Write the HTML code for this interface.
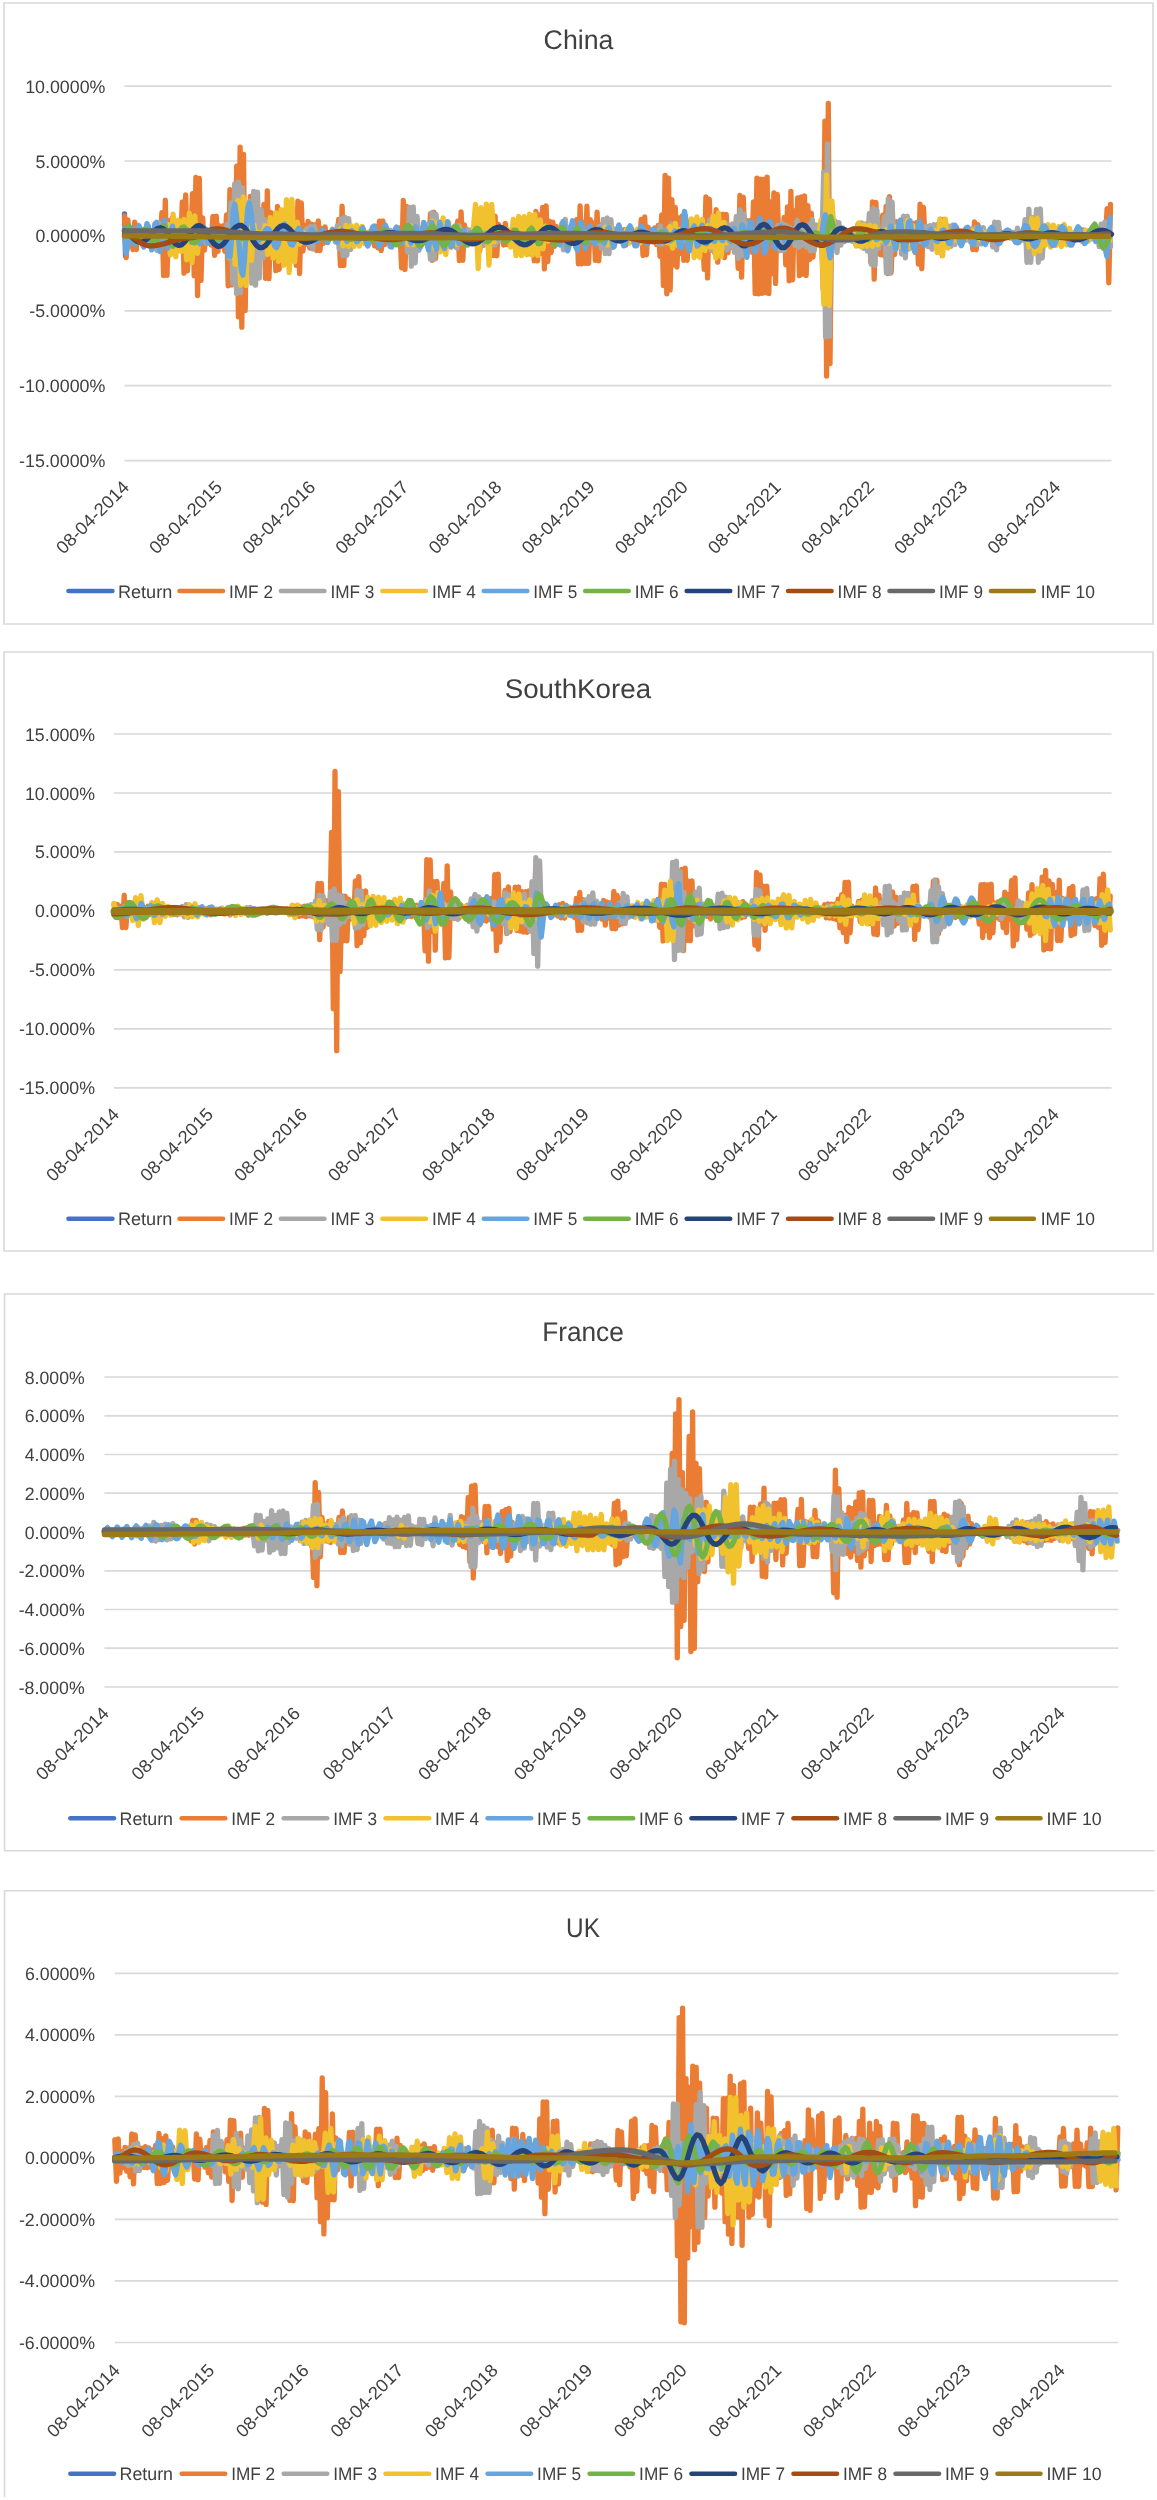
<!DOCTYPE html>
<html><head><meta charset="utf-8"><title>IMF decomposition charts</title>
<style>html,body{margin:0;padding:0;background:#fff}svg{display:block;will-change:transform}text{font-family:"Liberation Sans",sans-serif;fill:#404040;text-rendering:geometricPrecision}</style></head><body>
<svg width="1157" height="2500" viewBox="0 0 1157 2500">
<rect width="1157" height="2500" fill="#fff"/>
<g>
<path d="M4,3H1153V624H4Z" fill="none" stroke="#d9d9d9" stroke-width="1.6"/>
<line x1="124.5" y1="86.1" x2="1111.5" y2="86.1" stroke="#d9d9d9" stroke-width="1.7"/>
<line x1="124.5" y1="161.0" x2="1111.5" y2="161.0" stroke="#d9d9d9" stroke-width="1.7"/>
<line x1="124.5" y1="235.9" x2="1111.5" y2="235.9" stroke="#d9d9d9" stroke-width="1.7"/>
<line x1="124.5" y1="310.8" x2="1111.5" y2="310.8" stroke="#d9d9d9" stroke-width="1.7"/>
<line x1="124.5" y1="385.7" x2="1111.5" y2="385.7" stroke="#d9d9d9" stroke-width="1.7"/>
<line x1="124.5" y1="460.6" x2="1111.5" y2="460.6" stroke="#d9d9d9" stroke-width="1.7"/>
<text x="578.5" y="49.1" font-size="27" text-anchor="middle" textLength="69.8" lengthAdjust="spacingAndGlyphs">China</text>
<text x="105.4" y="92.6" font-size="18" text-anchor="end" textLength="80.2" lengthAdjust="spacingAndGlyphs">10.0000%</text>
<text x="105.4" y="167.5" font-size="18" text-anchor="end" textLength="70.0" lengthAdjust="spacingAndGlyphs">5.0000%</text>
<text x="105.4" y="242.4" font-size="18" text-anchor="end" textLength="70.0" lengthAdjust="spacingAndGlyphs">0.0000%</text>
<text x="105.4" y="317.3" font-size="18" text-anchor="end" textLength="76.1" lengthAdjust="spacingAndGlyphs">-5.0000%</text>
<text x="105.4" y="392.2" font-size="18" text-anchor="end" textLength="86.3" lengthAdjust="spacingAndGlyphs">-10.0000%</text>
<text x="105.4" y="467.1" font-size="18" text-anchor="end" textLength="86.3" lengthAdjust="spacingAndGlyphs">-15.0000%</text>
<text transform="translate(130.2 488.2) rotate(-45)" font-size="18" text-anchor="end" textLength="94.5" lengthAdjust="spacingAndGlyphs">08-04-2014</text>
<text transform="translate(223.3 488.2) rotate(-45)" font-size="18" text-anchor="end" textLength="94.5" lengthAdjust="spacingAndGlyphs">08-04-2015</text>
<text transform="translate(316.5 488.2) rotate(-45)" font-size="18" text-anchor="end" textLength="94.5" lengthAdjust="spacingAndGlyphs">08-04-2016</text>
<text transform="translate(409.6 488.2) rotate(-45)" font-size="18" text-anchor="end" textLength="94.5" lengthAdjust="spacingAndGlyphs">08-04-2017</text>
<text transform="translate(502.7 488.2) rotate(-45)" font-size="18" text-anchor="end" textLength="94.5" lengthAdjust="spacingAndGlyphs">08-04-2018</text>
<text transform="translate(595.8 488.2) rotate(-45)" font-size="18" text-anchor="end" textLength="94.5" lengthAdjust="spacingAndGlyphs">08-04-2019</text>
<text transform="translate(689.0 488.2) rotate(-45)" font-size="18" text-anchor="end" textLength="94.5" lengthAdjust="spacingAndGlyphs">08-04-2020</text>
<text transform="translate(782.1 488.2) rotate(-45)" font-size="18" text-anchor="end" textLength="94.5" lengthAdjust="spacingAndGlyphs">08-04-2021</text>
<text transform="translate(875.2 488.2) rotate(-45)" font-size="18" text-anchor="end" textLength="94.5" lengthAdjust="spacingAndGlyphs">08-04-2022</text>
<text transform="translate(968.4 488.2) rotate(-45)" font-size="18" text-anchor="end" textLength="94.5" lengthAdjust="spacingAndGlyphs">08-04-2023</text>
<text transform="translate(1061.5 488.2) rotate(-45)" font-size="18" text-anchor="end" textLength="94.5" lengthAdjust="spacingAndGlyphs">08-04-2024</text>
<g fill="none" stroke-width="5.3" stroke-linejoin="round" stroke-linecap="round">
<path stroke="#4472c4" d="M124.5,213.9 125.5,255.9 126.5,225.9"/>
<path stroke="#ea7d33" d="M124.5,216 126.2,257.7 127.9,219.8 129.6,244 131.3,228 133,249.7 134.7,222.1 136.4,249.6 138.1,225.7 139.8,242.3 141.5,232.2 143.2,236.8 144.9,235 146.6,236.8 148.3,235 150,236.9 151.7,235 153.4,236.9 155.1,234.9 156.8,236.9 158.5,234.6 160.2,238.7 161.9,212.7 163.6,275.5 165.3,200.1 167,275.3 168.7,220.8 170.4,251.3 172.1,217.9 173.8,248.6 175.5,223.5 177.2,243.8 178.9,226.1 180.6,245.9 182.3,201.8 184,273.2 185.7,195 187.4,270.9 189.1,226.8 190.8,238.9 192.5,193.7 194.2,275.6 195.9,177.5 197.6,295.5 199.3,178.3 201,280.4 202.7,218 204.4,250.2 206.1,229.1 207.8,239.8 209.5,233.6 211.2,245 212.9,216.4 214.6,255.4 216.3,216.2 218,251.4 219.7,226 221.4,245.1 223.1,226 224.8,251.4 226.5,214.8 228.2,285.8 229.9,189.6 231.6,284.9 233.3,198.5 235,281.3 236.7,166.2 238.4,316.8 240.1,147.2 241.8,327.1 243.5,154.5 245.2,310.4 246.9,204.8 248.6,260.7 250.3,196.3 252,275.4 253.7,196.7 255.4,260.5 257.1,231.7 258.8,239 260.5,222.2 262.2,255.8 263.9,204.3 265.6,278.3 267.3,190.9 269,278.7 270.7,212.3 272.4,254.3 274.1,213.8 275.8,270.7 277.5,206.3 279.2,269.5 280.9,227.2 282.6,242.5 284.3,230.2 286,238.8 287.7,234.4 289.4,237.6 291.1,234.4 292.8,240.2 294.5,229.5 296.2,265.4 297.9,201.2 299.6,273.5 301.3,203 303,251 304.7,225.3 306.4,244.4 308.1,221.3 309.8,248.2 311.5,224.1 313.2,241.5 314.9,224.9 316.6,250.6 318.3,221 320,250.6 321.7,228.5 323.4,243.3 325.1,227 326.8,242 328.5,232.9 330.2,236.9 331.9,235.1 333.6,236.9 335.3,235 337,239.3 338.7,219.3 340.4,265.7 342.1,206.1 343.8,265.5 345.5,220.1 347.2,242.1 348.9,235 350.6,236.9 352.3,235 354,236.7 355.7,235.1 357.4,236.5 359.1,235.2 360.8,236.5 362.5,235.4 364.2,236.4 365.9,232.9 367.6,239.3 369.3,231.9 371,241.1 372.7,229.9 374.4,245.8 376.1,226.3 377.8,247.8 379.5,221.2 381.2,250.5 382.9,221 384.6,244.6 386.3,228.5 388,242.9 389.7,231.6 391.4,237.4 393.1,235.2 394.8,236.8 396.5,235 398.2,237.5 399.9,227.9 401.6,267.8 403.3,200.5 405,269.4 406.7,206.5 408.4,244 410.1,231.8 411.8,238.8 413.5,233 415.2,240.2 416.9,231.2 418.6,239.5 420.3,233.6 422,236.9 423.7,235 425.4,237.1 427.1,234.7 428.8,243.8 430.5,213.6 432.2,260.3 433.9,212.2 435.6,258.6 437.3,229 439,237.1 440.7,234.9 442.4,236.9 444.1,234.8 445.8,237.1 447.5,233 449.2,239.1 450.9,232.3 452.6,239.6 454.3,229.9 456,247.2 457.7,221.2 459.4,260.6 461.1,211.9 462.8,260.4 464.5,224.9 466.2,242.9 467.9,229.9 469.6,240.3 471.3,233.2 473,238.1 474.7,232 476.4,244.5 478.1,222.7 479.8,250.9 481.5,224.7 483.2,243.1 484.9,232.6 486.6,236.7 488.3,235 490,238.3 491.7,222.9 493.4,255.7 495.1,216.1 496.8,255.8 498.5,224.4 500.2,237.7 501.9,231 503.6,245 505.3,223.3 507,244.6 508.7,233 510.4,236.9 512.1,235 513.8,237.5 515.5,232 517.2,239 518.9,234.8 520.6,236.9 522.3,234.9 524,237 525.7,234.6 527.4,241.6 529.1,221.4 530.8,254.1 532.5,216.1 534.2,260.9 535.9,211.3 537.6,260.9 539.3,214.9 541,253 542.7,207.4 544.4,268.9 546.1,205.9 547.8,261.7 549.5,221.2 551.2,252.5 552.9,222.2 554.6,246.4 556.3,226.3 558,242.8 559.7,232 561.4,240.1 563.1,230.8 564.8,242 566.5,230.9 568.2,237.9 569.9,234.8 571.6,236.9 573.3,234.8 575,237.2 576.7,219.6 578.4,263.9 580.1,206 581.8,263.9 583.5,222.2 585.2,263.4 586.9,206.2 588.6,263.4 590.3,219.7 592,241.3 593.7,222.9 595.4,260.3 597.1,212.1 598.8,260.9 600.5,225 602.2,240.2 603.9,233.5 605.6,237.4 607.3,235.1 609,236.4 610.7,235.3 612.4,236.4 614.1,235.2 615.8,236.5 617.5,235.4 619.2,236.4 620.9,235 622.6,239.8 624.3,229.7 626,245 627.7,229.4 629.4,239.7 631.1,235.2 632.8,236.4 634.5,235.4 636.2,236.4 637.9,235.2 639.6,241 641.3,219.3 643,255.5 644.7,217 646.4,254.8 648.1,227.2 649.8,240 651.5,232.5 653.2,241.7 654.9,227.8 656.6,244.7 658.3,225.3 660,256.3 661.7,214.9 663.4,285.5 665.1,175.4 666.8,293.8 668.5,178.1 670.2,289.9 671.9,199.6 673.6,264.9 675.3,207.5 677,267 678.7,218 680.4,253.3 682.1,215.9 683.8,260.3 685.5,216 687.2,260.3 688.9,222.2 690.6,243.9 692.3,232.9 694,236.8 695.7,234.9 697.4,237 699.1,234.9 700.8,237.1 702.5,229.1 704.2,269.3 705.9,197 707.6,277.9 709.3,199.2 711,246.7 712.7,230.1 714.4,252.5 716.1,209.7 717.8,262.1 719.5,214.1 721.2,245.8 722.9,214.2 724.6,257.7 726.3,214.3 728,252.7 729.7,227.7 731.4,240.6 733.1,234.5 734.8,238.2 736.5,229.6 738.2,268.3 739.9,195.5 741.6,277.1 743.3,197.1 745,253 746.7,220.4 748.4,248.1 750.1,220.7 751.8,252 753.5,201.9 755.2,293.5 756.9,178.1 758.6,293.8 760.3,179.2 762,293.3 763.7,179.3 765.4,292.6 767.1,177.2 768.8,293.4 770.5,201.8 772.2,273.7 773.9,192.9 775.6,283.4 777.3,194.5 779,248 780.7,226.9 782.4,250.3 784.1,217.4 785.8,264.8 787.5,206.9 789.2,280.8 790.9,191.4 792.6,279.8 794.3,211 796,245.9 797.7,198 799.4,275.6 801.1,196.8 802.8,274.2 804.5,195.9 806.2,275.4 807.9,205.6 809.6,259.6 811.3,213.1 813,257.1 814.7,225.2 816.4,242.1 818.1,230.7 819.8,240.1 821.5,233.5 823.2,289.1 824.9,121.2 826.6,376 828.3,103.3 830,363.5 831.7,213.4 833.4,236.7 835.1,235.2 836.8,237.6 838.5,230.2 840.2,243 841.9,228.6 843.6,241.3 845.3,233.4 847,236.7 848.7,235.1 850.4,236.8 852.1,233.2 853.8,239.1 855.5,234.9 857.2,237.1 858.9,234.8 860.6,237 862.3,234.8 864,236.8 865.7,233.9 867.4,244.5 869.1,221.6 870.8,262.2 872.5,202 874.2,279.1 875.9,202.3 877.6,253.9 879.3,221.3 881,254.8 882.7,215.2 884.4,255.6 886.1,206.5 887.8,273.5 889.5,196.6 891.2,272.4 892.9,224.5 894.6,254.7 896.3,221.7 898,245.6 899.7,232.3 901.4,237.1 903.1,231.2 904.8,245.8 906.5,224.7 908.2,247 909.9,224.7 911.6,247.2 913.3,223.3 915,252.3 916.7,222.3 918.4,264.2 920.1,204.1 921.8,268.6 923.5,207.3 925.2,242.1 926.9,232.8 928.6,236.9 930.3,235 932,236.8 933.7,234.8 935.4,236.8 937.1,233.5 938.8,249.7 940.5,219.2 942.2,255.6 943.9,219.3 945.6,246.5 947.3,231.7 949,240.4 950.7,231.4 952.4,238.8 954.1,232.7 955.8,240 957.5,231.7 959.2,238.8 960.9,235.5 962.6,236.4 964.3,235.4 966,236.3 967.7,235.5 969.4,237.4 971.1,230.1 972.8,249.6 974.5,221.9 976.2,249.8 977.9,224.7 979.6,240.9 981.3,232.4 983,239 984.7,233.3 986.4,238.7 988.1,233.5 989.8,237.4 991.5,235 993.2,236.4 994.9,234.6 996.6,239.9 998.3,230.6 1000,240.1 1001.7,232.5 1003.4,236.4 1005.1,235.5 1006.8,236.4 1008.5,235.5 1010.2,237.8 1011.9,232.5 1013.6,238.1 1015.3,234.8 1017,236.4 1018.7,235.5 1020.4,236.3 1022.1,234.1 1023.8,240.1 1025.5,232 1027.2,239.1 1028.9,235.1 1030.6,236.4 1032.3,235.3 1034,236.4 1035.7,234 1037.4,240.3 1039.1,228.4 1040.8,246.1 1042.5,229.6 1044.2,242.5 1045.9,229.8 1047.6,242.3 1049.3,230 1051,240.3 1052.7,231.7 1054.4,238.6 1056.1,232.3 1057.8,239.6 1059.5,231.7 1061.2,238.4 1062.9,235.1 1064.6,236.3 1066.3,235.4 1068,236.3 1069.7,235.5 1071.4,236.3 1073.1,235.4 1074.8,236.4 1076.5,235.5 1078.2,236.5 1079.9,231.8 1081.6,241 1083.3,229.9 1085,241.9 1086.7,232.3 1088.4,236.7 1090.1,235.4 1091.8,236.6 1093.5,234.9 1095.2,238.2 1096.9,232.3 1098.6,239.3 1100.3,231.1 1102,240.9 1103.7,229.7 1105.4,240.3 1107.1,208.7 1108.8,282.8 1110.5,204.5"/>
<path stroke="#a8a8a8" d="M124.5,230.8 126.4,239.2 128.3,233 130.2,236.9 132.1,235.5 134,236.5 135.9,235.4 137.8,237.5 139.7,234.3 141.6,236.7 143.5,235.5 145.4,236.5 147.3,234.5 149.2,239.2 151.1,230.8 153,247.7 154.9,223.8 156.8,250.4 158.7,223 160.6,243.7 162.5,235.2 164.4,236.5 166.3,235.2 168.2,236.5 170.1,235.3 172,236.5 173.9,235.2 175.8,236.5 177.7,235.1 179.6,236.7 181.5,235.2 183.4,239.7 185.3,229.9 187.2,245.8 189.1,226.3 191,247.1 192.9,227 194.8,238.3 196.7,235.2 198.6,236.7 200.5,235.2 202.4,239.1 204.3,228.1 206.2,243.4 208.1,230.6 210,236.8 211.9,235 213.8,236.8 215.7,235.2 217.6,236.7 219.5,233.1 221.4,242 223.3,229.3 225.2,244.5 227.1,224.5 229,258.1 230.9,202.9 232.8,283.3 234.7,183.8 236.6,293.5 238.5,182.2 240.4,292.7 242.3,187.7 244.2,277.6 246.1,209.8 248,259.7 249.9,201.6 251.8,283.1 253.7,191.3 255.6,285.2 257.5,192.1 259.4,278 261.3,209.9 263.2,257.8 265.1,219.7 267,250.2 268.9,223.4 270.8,245.1 272.7,227 274.6,244.4 276.5,226.2 278.4,245.4 280.3,227.3 282.2,243.5 284.1,228.8 286,241.4 287.9,230.1 289.8,238.7 291.7,235.2 293.6,236.6 295.5,235.3 297.4,236.6 299.3,235.2 301.2,236.5 303.1,235.2 305,238.1 306.9,228.8 308.8,244.8 310.7,226.7 312.6,249 314.5,226.5 316.4,240 318.3,235.5 320.2,236.5 322.1,235.4 324,236.3 325.9,235.4 327.8,236.4 329.7,235.4 331.6,236.3 333.5,232.6 335.4,242 337.3,225.9 339.2,249 341.1,218.9 343,255.6 344.9,217.1 346.8,255.4 348.7,218.7 350.6,249.5 352.5,228.4 354.4,241.6 356.3,228 358.2,243.5 360.1,230.4 362,239 363.9,235.5 365.8,236.2 367.7,235.5 369.6,236.3 371.5,235.5 373.4,236.3 375.3,235.4 377.2,236.3 379.1,235.5 381,236.3 382.9,235.5 384.8,238.3 386.7,231.6 388.6,241.6 390.5,230.4 392.4,240.5 394.3,233.2 396.2,236.5 398.1,235.4 400,236.4 401.9,235.3 403.8,236.5 405.7,232.6 407.6,252.1 409.5,207.3 411.4,266.2 413.3,207 415.2,262.8 417.1,216.5 419,250.4 420.9,228.1 422.8,239.6 424.7,232.3 426.6,240.3 428.5,223.8 430.4,259.2 432.3,212.4 434.2,259.3 436.1,214.4 438,244.5 439.9,234.5 441.8,236.4 443.7,235.3 445.6,236.4 447.5,235.4 449.4,236.5 451.3,235.3 453.2,240.7 455.1,226.7 457,248 458.9,225.7 460.8,241.1 462.7,230.5 464.6,240.8 466.5,230.3 468.4,241.5 470.3,230.2 472.2,240.3 474.1,231.3 476,240.8 477.9,228.8 479.8,244.3 481.7,227.7 483.6,245.4 485.5,229.4 487.4,239.5 489.3,231.7 491.2,242.2 493.1,228.8 495,245 496.9,229 498.8,241.5 500.7,232 502.6,237 504.5,235.4 506.4,236.5 508.3,235.4 510.2,239.3 512.1,229.2 514,242.6 515.9,230.3 517.8,238.6 519.7,233.1 521.6,239.7 523.5,227.9 525.4,247.1 527.3,225.9 529.2,243.9 531.1,229.4 533,243.2 534.9,226.9 536.8,250.1 538.7,221.3 540.6,247 542.5,227.5 544.4,240 546.3,235.2 548.2,236.6 550.1,235.3 552,236.5 553.9,235.4 555.8,236.4 557.7,232 559.6,242.8 561.5,224.1 563.4,249.9 565.3,219.3 567.2,248.3 569.1,227.3 571,240.5 572.9,234.1 574.8,236.4 576.7,235.2 578.6,236.5 580.5,233.8 582.4,240.1 584.3,231.1 586.2,237.7 588.1,235.3 590,236.5 591.9,235.4 593.8,238.2 595.7,229.7 597.6,243.4 599.5,226.3 601.4,248.2 603.3,219.5 605.2,253.6 607.1,218 609,253.7 610.9,219.6 612.8,247.5 614.7,229.2 616.6,240.2 618.5,230.2 620.4,241.3 622.3,233.6 624.2,236.3 626.1,235.5 628,236.3 629.9,235.6 631.8,236.3 633.7,235.5 635.6,236.3 637.5,235.5 639.4,236.3 641.3,235.5 643.2,238.9 645.1,230.8 647,240.5 648.9,232.8 650.8,238.1 652.7,234 654.6,238.4 656.5,230.5 658.4,244 660.3,225.9 662.2,244.1 664.1,230.8 666,240.3 667.9,228.3 669.8,244.2 671.7,224 673.6,244.2 675.5,229.8 677.4,238.8 679.3,235.2 681.2,236.6 683.1,235.2 685,236.4 686.9,235.4 688.8,238.2 690.7,233.5 692.6,238.8 694.5,234.9 696.4,236.4 698.3,235.3 700.2,236.5 702.1,235.3 704,236.5 705.9,231.1 707.8,246.6 709.7,219.8 711.6,250.3 713.5,220.6 715.4,244.7 717.3,226.3 719.2,243.9 721.1,227.8 723,245.5 724.9,222.3 726.8,250.1 728.7,224.8 730.6,247.9 732.5,223.9 734.4,252.4 736.3,216.5 738.2,258.4 740.1,209.8 742,255.7 743.9,214 745.8,254.7 747.7,223.5 749.6,240.8 751.5,235.2 753.4,236.7 755.3,235.2 757.2,236.7 759.1,235.2 761,236.6 762.9,235.2 764.8,236.7 766.7,235.1 768.6,236.6 770.5,235.1 772.4,236.7 774.3,234.6 776.2,242.9 778.1,225.5 780,250.9 781.9,223.1 783.8,250.7 785.7,225.1 787.6,244.4 789.5,227.2 791.4,241.3 793.3,229 795.2,245.7 797.1,220.4 799,247.4 800.9,225.1 802.8,245 804.7,228.3 806.6,247.1 808.5,224.6 810.4,250.9 812.3,219.7 814.2,250.8 816.1,224.9 818,244.9 819.9,224.7 821.8,249 823.7,172.2 825.6,336.6 827.5,143.8 829.4,336.3 831.3,212.1 833.2,246.2 835.1,221 837,252.5 838.9,222.7 840.8,245.2 842.7,227.8 844.6,241.6 846.5,231.3 848.4,240.4 850.3,230.7 852.2,241.4 854.1,228.6 856,244.9 857.9,224.2 859.8,246.1 861.7,222.9 863.6,248.4 865.5,223.8 867.4,251.1 869.3,213.3 871.2,264.2 873.1,208.5 875,265.4 876.9,209.8 878.8,248.3 880.7,229.9 882.6,242.6 884.5,216.9 886.4,272.6 888.3,198.8 890.2,273.4 892.1,202.2 894,249.7 895.9,233.7 897.8,238.8 899.7,230.2 901.6,254 903.5,216.2 905.4,257.8 907.3,216.1 909.2,248.8 911.1,230.2 913,242.5 914.9,228.6 916.8,241.3 918.7,230.5 920.6,241.8 922.5,227.4 924.4,243.9 926.3,226.1 928.2,246.7 930.1,225.7 932,249.4 933.9,224.7 935.8,245 937.7,224.4 939.6,248 941.5,224.2 943.4,243.6 945.3,228.2 947.2,243.1 949.1,226.2 951,246.3 952.9,225.1 954.8,244.6 956.7,229.1 958.6,238.9 960.5,235.3 962.4,236.3 964.3,234.6 966.2,239.9 968.1,231.5 970,241.3 971.9,229 973.8,243.6 975.7,227.8 977.6,244.7 979.5,228.9 981.4,243.9 983.3,227.6 985.2,241 987.1,232 989,237.3 990.9,233.9 992.8,246.9 994.7,222.1 996.6,249.8 998.5,222.4 1000.4,240.4 1002.3,234.2 1004.2,236.7 1006.1,235.5 1008,236.3 1009.9,235.6 1011.8,237.5 1013.7,232.4 1015.6,242 1017.5,228.1 1019.4,242.1 1021.3,233.7 1023.2,238.9 1025.1,219.7 1027,262.4 1028.9,209.1 1030.8,262.4 1032.7,217.6 1034.6,247.6 1036.5,209.3 1038.4,262.4 1040.3,208.9 1042.2,258.2 1044.1,229.4 1046,236.5 1047.9,235.5 1049.8,236.3 1051.7,235.5 1053.6,236.3 1055.5,235.5 1057.4,236.3 1059.3,235.5 1061.2,236.3 1063.1,235.6 1065,236.2 1066.9,235.5 1068.8,236.2 1070.7,235.6 1072.6,236.2 1074.5,235.5 1076.4,236.3 1078.3,235.5 1080.2,236.4 1082.1,235.5 1084,236.3 1085.9,234.7 1087.8,238.5 1089.7,232.9 1091.6,238.8 1093.5,232.9 1095.4,239.2 1097.3,230.9 1099.2,246.7 1101.1,224.2 1103,248.1 1104.9,222.1 1106.8,250.7 1108.7,223 1110.6,246.5"/>
<path stroke="#f2c12e" d="M124.5,235.3 127.2,236.4 129.9,235.4 132.6,236.4 135.3,235.1 138,238.5 140.7,231.2 143.4,241.5 146.1,230.7 148.8,238.6 151.5,235.4 154.2,236.5 156.9,235.2 159.6,236.6 162.3,235.3 165,239.9 167.7,224.3 170.4,254.9 173.1,214.1 175.8,256.9 178.5,220.1 181.2,251.6 183.9,219.4 186.6,259.8 189.3,213.2 192,262.6 194.7,215.8 197.4,253.4 200.1,228.5 202.8,236.7 205.5,235.1 208.2,236.8 210.9,235.1 213.6,236.7 216.3,235.1 219,236.8 221.7,234.9 224.4,236.8 227.1,234.9 229.8,239.7 232.5,225.8 235.2,264.4 237.9,200.5 240.6,285 243.3,196.9 246,285.3 248.7,202.3 251.4,260.3 254.1,225.1 256.8,240.1 259.5,232.8 262.2,240.7 264.9,225.6 267.6,254.4 270.3,217.7 273,258 275.7,212.8 278.4,261.4 281.1,209.6 283.8,265.4 286.5,199.7 289.2,272.7 291.9,199.4 294.6,261.9 297.3,222.1 300,244.2 302.7,232 305.4,236.5 308.1,235.3 310.8,236.6 313.5,235.3 316.2,236.4 318.9,235.4 321.6,236.5 324.3,235.3 327,236.5 329.7,235.4 332.4,236.4 335.1,233.6 337.8,241.2 340.5,229 343.2,245.8 345.9,225.5 348.6,246.5 351.3,225.7 354,246.5 356.7,225.2 359.4,246.2 362.1,226.3 364.8,243.7 367.5,232.6 370.2,236.3 372.9,235.4 375.6,236.4 378.3,235.4 381,236.4 383.7,235.4 386.4,236.3 389.1,235.4 391.8,236.4 394.5,235.4 397.2,236.4 399.9,235.3 402.6,236.8 405.3,229.4 408,244.4 410.7,225.8 413.4,244.6 416.1,230.4 418.8,237 421.5,235.3 424.2,238.2 426.9,227.2 429.6,248.1 432.3,221 435,248.9 437.7,222.4 440.4,251.9 443.1,218 445.8,254.6 448.5,222.4 451.2,247.5 453.9,226.9 456.6,244.5 459.3,228.2 462,242.3 464.7,232.7 467.4,236.6 470.1,235.3 472.8,236.8 475.5,204.5 478.2,268.7 480.9,207.7 483.6,236.4 486.3,204.1 489,265.2 491.7,204.4 494.4,241.7 497.1,233.2 499.8,236.5 502.5,234.8 505.2,238.8 507.9,229.6 510.6,247 513.3,219.5 516,255.6 518.7,216.3 521.4,255.7 524.1,216.7 526.8,254.8 529.5,214.1 532.2,255.1 534.9,214.5 537.6,255.5 540.3,219.8 543,248.8 545.7,226.2 548.4,241.1 551.1,234.6 553.8,236.5 556.5,235.3 559.2,236.6 561.9,235.3 564.6,236.6 567.3,231.7 570,243.2 572.7,228.9 575.4,240.3 578.1,234.4 580.8,237.5 583.5,233 586.2,239.7 588.9,232.2 591.6,239 594.3,233.5 597,238.9 599.7,231.7 602.4,242.7 605.1,227.2 607.8,245.2 610.5,227 613.2,240.4 615.9,233.3 618.6,237.8 621.3,232.8 624,240.5 626.7,229.5 629.4,243.1 632.1,229.2 634.8,243.2 637.5,229.2 640.2,243.2 642.9,230.7 645.6,238.4 648.3,235.4 651,236.5 653.7,235.3 656.4,237.7 659.1,232.4 661.8,240.6 664.5,231.1 667.2,242.6 669.9,226.7 672.6,248.2 675.3,223.5 678,245.8 680.7,229.3 683.4,241 686.1,227.8 688.8,249 691.5,218.8 694.2,257.7 696.9,216.8 699.6,257.4 702.3,219.5 705,250.6 707.7,225.6 710.4,247.1 713.1,216 715.8,258 718.5,212.8 721.2,256.5 723.9,222.3 726.6,242.9 729.3,232.4 732,238.3 734.7,233 737.4,239.1 740.1,233.5 742.8,238.5 745.5,231.8 748.2,240 750.9,233 753.6,236.7 756.3,235 759,236.8 761.7,235 764.4,236.8 767.1,235 769.8,237 772.5,231.7 775.2,240.7 777.9,232.5 780.6,236.8 783.3,235.1 786,236.6 788.7,235 791.4,236.6 794.1,235.2 796.8,236.7 799.5,235.2 802.2,236.8 804.9,235.1 807.6,236.8 810.3,235.2 813,236.6 815.7,235.3 818.4,237.2 821.1,219.6 823.8,304.1 826.5,175 829.2,305.4 831.9,200.9 834.6,240.6 837.3,232.8 840,236.4 842.7,235.4 845.4,236.4 848.1,235.4 850.8,237.1 853.5,229.4 856.2,246.2 858.9,223 861.6,247.1 864.3,224.9 867,246.4 869.7,225.1 872.4,246.4 875.1,226.2 877.8,244.8 880.5,230.3 883.2,240.7 885.9,229.8 888.6,243.5 891.3,228.1 894,245.3 896.7,226.6 899.4,246.7 902.1,223.5 904.8,250.4 907.5,220.5 910.2,247.5 912.9,225.7 915.6,240.4 918.3,235.3 921,236.5 923.7,235.3 926.4,236.5 929.1,235.3 931.8,237 934.5,230.3 937.2,252.5 939.9,219.1 942.6,255.8 945.3,219.1 948,248.1 950.7,232 953.4,240.8 956.1,228.7 958.8,242.2 961.5,231.5 964.2,238.6 966.9,234 969.6,239.3 972.3,230.2 975,241.8 977.7,229.9 980.4,239.9 983.1,231.5 985.8,240.3 988.5,231.4 991.2,239.5 993.9,234.5 996.6,236.3 999.3,235.5 1002,236.3 1004.7,235.5 1007.4,236.2 1010.1,234.5 1012.8,238.6 1015.5,234.4 1018.2,236.4 1020.9,235.4 1023.6,236.4 1026.3,232.3 1029,246.8 1031.7,218.3 1034.4,253.7 1037.1,218.1 1039.8,251 1042.5,228 1045.2,245.3 1047.9,224.6 1050.6,247 1053.3,225.2 1056,245.4 1058.7,226.7 1061.4,246.7 1064.1,224.3 1066.8,244.8 1069.5,228.3 1072.2,241.3 1074.9,232.5 1077.6,239.1 1080.3,231.8 1083,241.6 1085.7,230.1 1088.4,241.1 1091.1,233.7 1093.8,236.4 1096.5,235.4 1099.2,236.4 1101.9,234.9 1104.6,237.7 1107.3,233.6 1110,240.5"/>
<path stroke="#66a5de" d="M124.5,228.4 126.1,253.3 127.7,247.4 129.3,233 130.9,227.2 132.5,233.4 134.1,243.6 135.7,243.8 137.3,233.3 138.9,225.5 140.5,231.1 142.1,243.6 143.7,247 145.3,236 146.9,223.6 148.5,226.5 150.1,241.5 151.7,249.9 153.3,240.7 154.9,224.7 156.5,222.4 158.1,237.6 159.7,251.5 161.3,245.5 162.9,226.4 164.5,220 166.1,234.4 167.7,248.3 169.3,244.5 170.9,230.9 172.5,226.1 174.1,234.5 175.7,243.1 177.3,241 178.9,232.5 180.5,229.6 182.1,235.5 183.7,241.6 185.3,239.4 186.9,232.1 188.5,230.2 190.1,236.6 191.7,242.4 193.3,238.9 194.9,230.8 196.5,229.5 198.1,237.3 199.7,243.7 201.3,239.6 202.9,230.4 204.5,228.2 206.1,235.6 207.7,243.3 209.3,242.1 210.9,234 212.5,228.4 214.1,230.8 215.7,238.1 217.3,242.8 218.9,240.9 220.5,235 222.1,230.4 223.7,230.5 225.3,234.3 226.9,243.3 228.5,255.8 230.1,256.3 231.7,236.7 233.3,211.8 234.9,204.3 236.5,216.8 238.1,232.8 239.7,251.4 241.3,270.5 242.9,275.1 244.5,259 246.1,231.1 247.7,208.6 249.3,202.8 250.9,212 252.5,226.2 254.1,236.6 255.7,240.4 257.3,239.9 258.9,240.2 260.5,239.2 262.1,236.9 263.7,233.7 265.3,230.6 266.9,228.6 268.5,228.8 270.1,231.6 271.7,236.5 273.3,242.1 274.9,246.4 276.5,247.5 278.1,244.5 279.7,238.2 281.3,231 282.9,225.5 284.5,224 286.1,227 287.7,233.2 289.3,240 290.9,244.5 292.5,245.1 294.1,241.7 295.7,236 297.3,230.7 298.9,228.2 300.5,229.8 302.1,234.6 303.7,239.7 305.3,242.4 306.9,241.1 308.5,236.5 310.1,231.7 311.7,229.8 313.3,232.3 314.9,237.5 316.5,241.4 318.1,241 319.7,236.4 321.3,231.3 322.9,229.9 324.5,234 326.1,240.1 327.7,242.5 329.3,238.7 330.9,232.1 332.5,229.2 334.1,232.9 335.7,239.4 337.3,242.2 338.9,238.8 340.5,232.7 342.1,230 343.7,233.1 345.3,238.8 346.9,241.4 348.5,238.7 350.1,233.5 351.7,230.5 353.3,232.5 354.9,237.7 356.5,241.8 358.1,241 359.7,235.4 361.3,229.2 362.9,227.9 364.5,233.3 366.1,241.8 367.7,246.1 369.3,242.7 370.9,234.4 372.5,227.1 374.1,226 375.7,231.8 377.3,240.5 378.9,246.2 380.5,244.8 382.1,237.3 383.7,228.7 385.3,225 386.9,228.7 388.5,238.1 390.1,246.6 391.7,247 393.3,238.8 394.9,230 396.5,227 398.1,231.2 399.7,238.6 401.3,243 402.9,241 404.5,234.4 406.1,229.3 407.7,230.7 409.3,237.6 410.9,243.2 412.5,241 414.1,232.4 415.7,226.6 417.3,231.8 418.9,243.6 420.5,247.2 422.1,235.7 423.7,222.3 425.3,226.6 426.9,243.7 428.5,250.1 430.1,237 431.7,222.5 433.3,226.9 434.9,243.9 436.5,249.5 438.1,235.6 439.7,222.2 441.3,228.6 442.9,245.6 444.5,248.6 446.1,233.1 447.7,221.7 449.3,230.9 450.9,246.6 452.5,245.7 454.1,231.8 455.7,225.6 457.3,234.1 458.9,243.4 460.5,241.1 462.1,232.4 463.7,230 465.3,235.8 466.9,240.7 468.5,238.3 470.1,233.1 471.7,232.6 473.3,236.7 474.9,239.2 476.5,236.8 478.1,233.4 479.7,233.9 481.3,237.3 482.9,238.4 484.5,235.7 486.1,233.4 487.7,235 489.3,237.9 490.9,237.7 492.5,234.8 494.1,233.6 495.7,235.9 497.3,238.2 498.9,237 500.5,234.1 502.1,233.9 503.7,236.7 505.3,238.3 506.9,236.5 508.5,233.8 510.1,234.1 511.7,236.8 513.3,238.2 514.9,236.6 516.5,234.2 518.1,234.1 519.7,236.2 521.3,237.7 522.9,237 524.5,235.2 526.1,234.3 527.7,235.3 529.3,236.8 530.9,237.2 532.5,236.2 534.1,235 535.7,234.8 537.3,235.7 538.9,236.9 540.5,237.1 542.1,236.1 543.7,234.6 545.3,234.2 546.9,235.7 548.5,238.1 550.1,238.8 551.7,236.1 553.3,231.7 554.9,230.6 556.5,236.1 558.1,244.2 559.7,244.9 561.3,234 562.9,221.7 564.5,225.2 566.1,240.7 567.7,250.9 569.3,244.3 570.9,228.1 572.5,220.8 574.1,230.9 575.7,246.8 577.3,250.2 578.9,236.9 580.5,222.4 582.1,224 583.7,239 585.3,248.5 586.9,243 588.5,230.8 590.1,225.8 591.7,232.3 593.3,241.8 594.9,244.1 596.5,237.6 598.1,229.7 599.7,228.7 601.3,235.2 602.9,242.6 604.5,243.3 606.1,236.4 607.7,228.5 609.3,227.3 610.9,234.6 612.5,244 614.1,246.8 615.7,239.4 617.3,229.2 618.9,225 620.5,229.8 622.1,239.3 623.7,245.9 625.3,244.6 626.9,236.8 628.5,228.5 630.1,225.9 631.7,230.3 633.3,239 634.9,245.8 636.5,245.8 638.1,238.7 639.7,230.3 641.3,226.2 642.9,228.8 644.5,235.7 646.1,242.2 647.7,244 649.3,240.5 650.9,234.2 652.5,229.5 654.1,229.3 655.7,233.6 657.3,239.2 658.9,242.2 660.5,240.4 662.1,235.6 663.7,231.2 665.3,230.7 666.9,234.2 668.5,239 670.1,241 671.7,238.6 673.3,234 674.9,231.1 676.5,232.5 678.1,237.8 679.7,247 681.3,247.6 682.9,229 684.5,211.4 686.1,221.5 687.7,245.2 689.3,250.9 690.9,239.7 692.5,229.3 694.1,226 695.7,235.2 697.3,246 698.9,244.2 700.5,231.9 702.1,225.1 703.7,232.4 705.3,243.3 706.9,243.6 708.5,234.2 710.1,228.2 711.7,232.8 713.3,240.7 714.9,241.3 716.5,234.8 718.1,230.4 719.7,233.7 721.3,239.9 722.9,240.5 724.5,234.6 726.1,230.3 727.7,233.8 729.3,240.6 730.9,241.3 732.5,234.1 734.1,228.5 735.7,232.9 737.3,242.4 738.9,244 740.5,234.4 742.1,224.8 743.7,227 745.3,247.6 746.9,257.4 748.5,239.8 750.1,222.1 751.7,222.2 753.3,237.2 754.9,251.8 756.5,249.3 758.1,232 759.7,218.4 761.3,222.7 762.9,240.2 764.5,253 766.1,249.1 767.7,233.4 769.3,221.1 770.9,222.8 772.5,235.4 774.1,246.9 775.7,247.9 777.3,239.1 778.9,229.3 780.5,226.4 782.1,231.4 783.7,238.6 785.3,242.2 786.9,240.2 788.5,235.6 790.1,232.4 791.7,232.6 793.3,235.1 794.9,237.6 796.5,238.2 798.1,237.1 799.7,235.3 801.3,234.3 802.9,234.6 804.5,235.9 806.1,237 807.7,237.3 809.3,236.5 810.9,235.2 812.5,234.5 814.1,234.7 815.7,235.9 817.3,237.6 818.9,240.7 820.5,240.6 822.1,232 823.7,219 825.3,214.7 826.9,227.5 828.5,248.7 830.1,257.9 831.7,250.1 833.3,238.6 834.9,233.7 836.5,232.6 838.1,232.9 839.7,235 841.3,237.6 842.9,239.3 844.5,238.9 846.1,236.8 847.7,234.1 849.3,232.4 850.9,233 852.5,235.4 854.1,238 855.7,239.2 857.3,238.1 858.9,235.5 860.5,233.3 862.1,233.1 863.7,235 865.3,237.6 866.9,238.8 868.5,237.6 870.1,234.7 871.7,232.7 873.3,233.6 874.9,236.9 876.5,239.7 878.1,238.9 879.7,234.6 881.3,230.9 882.9,232.2 884.5,238.2 886.1,242.9 887.7,240.1 889.3,231.4 890.9,226 892.5,231.6 894.1,243.8 895.7,249.1 897.3,239.4 898.9,223.5 900.5,220.1 902.1,233.9 903.7,249.5 905.3,251 906.9,237.2 908.5,222.4 910.1,220.9 911.7,233.6 913.3,248.2 914.9,251.5 916.5,241 918.1,226.4 919.7,221.3 921.3,228.2 922.9,239.2 924.5,245.3 926.1,243.8 927.7,237.4 929.3,231.3 930.9,229.2 932.5,231.7 934.1,236.4 935.7,240.5 937.3,241.5 938.9,238.9 940.5,234.5 942.1,230.6 943.7,229.9 945.3,233 946.9,238.6 948.5,243.2 950.1,243.6 951.7,238.7 953.3,230.7 954.9,225.3 956.5,227.4 958.1,234.9 959.7,242.8 961.3,245.7 962.9,241.9 964.5,234.2 966.1,227.9 967.7,227.2 969.3,232.6 970.9,240.3 972.5,244.8 974.1,243.1 975.7,236.4 977.3,229.5 978.9,227 980.5,230.3 982.1,237.2 983.7,243.2 985.3,244.5 986.9,240.8 988.5,234.4 990.1,229 991.7,227.3 993.3,229.9 994.9,235.2 996.5,240.6 998.1,243.9 999.7,243.2 1001.3,240.3 1002.9,236.4 1004.5,232.9 1006.1,230.6 1007.7,229.9 1009.3,230.9 1010.9,233.3 1012.5,236.6 1014.1,239.8 1015.7,242.2 1017.3,242.9 1018.9,241.5 1020.5,238.1 1022.1,233.3 1023.7,228.3 1025.3,225.6 1026.9,226 1028.5,229.4 1030.1,234.9 1031.7,240.7 1033.3,245 1034.9,246.5 1036.5,244.9 1038.1,240.6 1039.7,235 1041.3,229.7 1042.9,226.4 1044.5,225.9 1046.1,228.3 1047.7,233 1049.3,238.5 1050.9,243.1 1052.5,245.5 1054.1,245.1 1055.7,241.9 1057.3,237 1058.9,231.9 1060.5,228 1062.1,226.5 1063.7,227.8 1065.3,231.5 1066.9,236.5 1068.5,241.6 1070.1,245 1071.7,245.1 1073.3,241.5 1074.9,235.5 1076.5,229.7 1078.1,226.9 1079.7,228.6 1081.3,234.1 1082.9,240.2 1084.5,243.5 1086.1,242 1087.7,236.9 1089.3,231.5 1090.9,229.5 1092.5,232.2 1094.1,237.6 1095.7,241.4 1097.3,240.6 1098.9,235.8 1100.5,231.2 1102.1,231 1103.7,235.3 1105.3,249.1 1106.9,256.5 1108.5,236.2 1110.1,217.8"/>
<path stroke="#74b347" d="M124.5,236.3 126.7,229 128.9,226.3 131.1,232.1 133.3,237.5 135.5,241.4 137.7,241.8 139.9,238.3 142.1,233 144.3,229.2 146.5,229.4 148.7,233.7 150.9,239.5 153.1,243.8 155.3,243.8 157.5,239.3 159.7,232.4 161.9,226.9 164.1,225.8 166.3,230 168.5,237.2 170.7,243.6 172.9,246.3 175.1,244.2 177.3,238.6 179.5,232.2 181.7,227.8 183.9,226.9 186.1,229.7 188.3,234.5 190.5,239.4 192.7,242.4 194.9,242.8 197.1,240.7 199.3,237.3 201.5,233.8 203.7,231.5 205.9,230.9 208.1,232 210.3,234.2 212.5,236.6 214.7,238.5 216.9,239.5 219.1,239.2 221.3,238 223.5,236.2 225.7,234.5 227.9,233.3 230.1,233 232.3,233.6 234.5,234.8 236.7,236.4 238.9,237.8 241.1,238.5 243.3,238.4 245.5,237.6 247.7,236.1 249.9,234.7 252.1,233.6 254.3,233.3 256.5,233.9 258.7,235.1 260.9,236.7 263.1,237.9 265.3,238.5 267.5,238.1 269.7,237 271.9,235.4 274.1,234 276.3,233.3 278.5,233.6 280.7,234.8 282.9,236.4 285.1,237.8 287.3,238.5 289.5,238.2 291.7,236.9 293.9,235.2 296.1,233.8 298.3,233.3 300.5,233.8 302.7,235.2 304.9,236.9 307.1,238.1 309.3,238.3 311.5,237.6 313.7,236.1 315.9,234.7 318.1,233.8 320.3,233.8 322.5,234.6 324.7,236.1 326.9,237.6 329.1,238.5 331.3,238.3 333.5,237 335.7,235.2 337.9,233.5 340.1,232.7 342.3,233.2 344.5,234.9 346.7,237.2 348.9,238.9 351.1,239.4 353.3,238.6 355.5,236.6 357.7,234.4 359.9,232.8 362.1,232.4 364.3,233.3 366.5,235.1 368.7,237.4 370.9,239.4 373.1,240.3 375.3,239.6 377.5,237.4 379.7,234.3 381.9,231.3 384.1,229.6 386.3,229.9 388.5,232.5 390.7,237 392.9,241.5 395.1,244.5 397.3,244.8 399.5,242 401.7,236.9 403.9,231.2 406.1,226.8 408.3,225.4 410.5,227.4 412.7,232.1 414.9,237.8 417.1,242.9 419.3,245.7 421.5,245.4 423.7,242.1 425.9,236.9 428.1,231.5 430.3,227.6 432.5,226.3 434.7,228.2 436.9,232.4 439.1,237.8 441.3,242.6 443.5,245.2 445.7,244.7 447.9,241.2 450.1,235.8 452.3,230.5 454.5,227 456.7,226.7 458.9,229.7 461.1,235 463.3,240.7 465.5,244.6 467.7,245.1 469.9,241.9 472.1,236.3 474.3,231.1 476.5,228.4 478.7,229.1 480.9,232.5 483.1,237 485.3,240.7 487.5,241.9 489.7,240.2 491.9,236.6 494.1,232.8 496.3,230.7 498.5,231.3 500.7,234.3 502.9,238.3 505.1,241.1 507.3,241 509.5,237.8 511.7,233.2 513.9,230.1 516.1,230.4 518.3,234.4 520.5,239.7 522.7,242.8 524.9,241.3 527.1,235.9 529.3,230.1 531.5,228.1 533.7,231.7 535.9,238.5 538.1,243.7 540.3,243.4 542.5,237.3 544.7,230.1 546.9,227.1 549.1,230.8 551.3,238.4 553.5,244.2 555.7,243.6 557.9,237.1 560.1,229.7 562.3,227.2 564.5,231.3 566.7,238.9 568.9,244 571.1,242.8 573.3,236.4 575.5,229.9 577.7,228.1 579.9,232.2 582.1,238.8 584.3,242.9 586.5,241.6 588.7,236.3 590.9,231.4 593.1,230.1 595.3,233 597.5,237.5 599.7,240.4 601.9,239.9 604.1,236.9 606.3,233.6 608.5,232.2 610.7,233.4 612.9,236 615.1,238.3 617.3,238.8 619.5,237.5 621.7,235.3 623.9,233.7 626.1,233.5 628.3,234.8 630.5,236.6 632.7,238.1 634.9,238.2 637.1,237 639.3,235 641.5,233.5 643.7,233.3 645.9,234.7 648.1,236.8 650.3,238.6 652.5,239 654.7,237.7 656.9,235.2 659.1,232.9 661.3,232 663.5,233.2 665.7,236 667.9,238.9 670.1,240.2 672.3,239.4 674.5,236.9 676.7,234.1 678.9,232.3 681.1,232.3 683.3,233.9 685.5,236.4 687.7,238.4 689.9,239.2 692.1,238.7 694.3,236.8 696.5,234.6 698.7,232.8 700.9,232.4 703.1,233.5 705.3,235.6 707.5,237.9 709.7,239.5 711.9,239.5 714.1,238 716.3,235.7 718.5,233.4 720.7,232.2 722.9,232.4 725.1,234.1 727.3,236.5 729.5,238.7 731.7,239.8 733.9,239.3 736.1,237.4 738.3,234.9 740.5,232.7 742.7,231.8 744.9,232.6 747.1,234.8 749.3,237.6 751.5,239.8 753.7,240.3 755.9,238.9 758.1,236.1 760.3,233.1 762.5,231.4 764.7,231.8 766.9,234.1 769.1,237.2 771.3,239.6 773.5,240.1 775.7,238.5 777.9,235.6 780.1,232.9 782.3,231.8 784.5,233 786.7,235.8 788.9,238.6 791.1,239.8 793.3,238.7 795.5,235.9 797.7,233.2 799.9,232.2 802.1,233.6 804.3,236.5 806.5,239 808.7,239.5 810.9,237.4 813.1,234.4 815.3,232.6 817.5,233.2 819.7,235.7 821.9,238.4 824.1,243.4 826.3,242.2 828.5,228 830.7,216.7 832.9,223.8 835.1,236.5 837.3,239.7 839.5,239.2 841.7,236.9 843.9,233.8 846.1,232.4 848.3,233.8 850.5,237.2 852.7,239.6 854.9,239.1 857.1,235.8 859.3,232.6 861.5,232 863.7,234.6 865.9,238.2 868.1,239.8 870.3,238.3 872.5,235.1 874.7,232.7 876.9,232.9 879.1,235.3 881.3,237.8 883.5,238.7 885.7,237.6 887.9,235.5 890.1,234 892.3,233.9 894.5,235.1 896.7,236.6 898.9,237.5 901.1,237.3 903.3,236.4 905.5,235.3 907.7,234.7 909.9,234.8 912.1,235.4 914.3,236.3 916.5,236.8 918.7,236.9 920.9,236.5 923.1,235.9 925.3,235.3 927.5,235 929.7,235.1 931.9,235.5 934.1,236 936.3,236.5 938.5,236.7 940.7,236.7 942.9,236.3 945.1,235.9 947.3,235.5 949.5,235.2 951.7,235.1 953.9,235.2 956.1,235.6 958.3,236 960.5,236.4 962.7,236.6 964.9,236.7 967.1,236.6 969.3,236.4 971.5,236 973.7,235.5 975.9,235.1 978.1,234.9 980.3,234.9 982.5,235 984.7,235.4 986.9,235.9 989.1,236.5 991.3,236.9 993.5,237.2 995.7,237.3 997.9,237.1 1000.1,236.6 1002.3,236 1004.5,235.2 1006.7,234.5 1008.9,234 1011.1,233.8 1013.3,234.1 1015.5,234.7 1017.7,235.7 1019.9,236.9 1022.1,237.9 1024.3,238.6 1026.5,238.8 1028.7,238.3 1030.9,237.3 1033.1,235.9 1035.3,234.5 1037.5,233.5 1039.7,233 1041.9,233.2 1044.1,234.1 1046.3,235.3 1048.5,236.6 1050.7,237.6 1052.9,238.1 1055.1,238 1057.3,237.5 1059.5,236.5 1061.7,235.6 1063.9,234.8 1066.1,234.3 1068.3,234.4 1070.5,234.8 1072.7,235.5 1074.9,236.3 1077.1,236.9 1079.3,237.2 1081.5,237.1 1083.7,236.7 1085.9,236 1088.1,234.8 1090.3,231.6 1092.5,226.8 1094.7,224.1 1096.9,228.3 1099.1,238.3 1101.3,245.7 1103.5,247.9 1105.7,244.5 1107.9,239.4 1110.1,236.2"/>
<path stroke="#25447b" d="M124.5,230.9 127.5,232.8 130.5,235.6 133.5,238.6 136.5,241 139.5,242.3 142.5,242 145.5,240.3 148.5,237.5 151.5,234.2 154.5,230.9 157.5,228.5 160.5,227.7 163.5,228.9 166.5,232 169.5,236.3 172.5,240.5 175.5,243.9 178.5,245.4 181.5,244.8 184.5,242.1 187.5,237.9 190.5,233.1 193.5,228.9 196.5,226.2 199.5,225.6 202.5,227.3 205.5,231 208.5,235.7 211.5,240.5 214.5,244.3 217.5,246.3 220.5,246.1 223.5,243.8 226.5,239.8 229.5,235.1 232.5,230.6 235.5,227.2 238.5,225.5 241.5,225.5 244.5,227.6 247.5,231.6 250.5,236.5 253.5,241.4 256.5,245.4 259.5,247.6 262.5,247.7 265.5,245.6 268.5,241.9 271.5,237.3 274.5,232.6 277.5,228.8 280.5,226.3 283.5,225.6 286.5,226.6 289.5,229 292.5,232.2 295.5,235.6 298.5,238.6 301.5,240.9 304.5,242.1 307.5,242.3 310.5,241.5 313.5,240.1 316.5,238.4 319.5,236.6 322.5,235 325.5,233.9 328.5,233.3 331.5,232.9 334.5,232.8 337.5,233.1 340.5,233.8 343.5,234.7 346.5,235.7 349.5,236.6 352.5,237.3 355.5,237.7 358.5,237.8 361.5,237.9 364.5,237.9 367.5,237.6 370.5,237 373.5,236.2 376.5,235.4 379.5,234.5 382.5,233.7 385.5,233 388.5,232.7 391.5,232.7 394.5,233 397.5,233.8 400.5,234.9 403.5,236.1 406.5,237.5 409.5,238.8 412.5,239.9 415.5,240.5 418.5,240.7 421.5,240.4 424.5,239.5 427.5,238.1 430.5,236.3 433.5,234.4 436.5,232.5 439.5,231 442.5,229.9 445.5,229.4 448.5,229.7 451.5,230.8 454.5,232.5 457.5,234.8 460.5,237.3 463.5,239.7 466.5,241.8 469.5,243.2 472.5,243.8 475.5,243.4 478.5,242 481.5,239.9 484.5,237.1 487.5,234.2 490.5,231.3 493.5,229 496.5,227.6 499.5,227.1 502.5,227.9 505.5,229.7 508.5,232.4 511.5,235.5 514.5,238.8 517.5,241.7 520.5,243.8 523.5,244.8 526.5,244.6 529.5,243.2 532.5,240.8 535.5,237.7 538.5,234.3 541.5,231.3 544.5,228.9 547.5,227.6 550.5,227.5 553.5,228.6 556.5,230.8 559.5,233.7 562.5,236.9 565.5,239.8 568.5,242.1 571.5,243.3 574.5,243.4 577.5,242.3 580.5,240.3 583.5,237.6 586.5,234.8 589.5,232.3 592.5,230.5 595.5,229.6 598.5,229.8 601.5,231 604.5,232.9 607.5,235.2 610.5,237.5 613.5,239.4 616.5,240.6 619.5,240.9 622.5,240.3 625.5,239 628.5,237.3 631.5,235.4 634.5,233.8 637.5,232.6 640.5,232.1 643.5,232.4 646.5,233 649.5,234.3 652.5,236 655.5,237.9 658.5,239.7 661.5,240.9 664.5,241.2 667.5,240.4 670.5,238.4 673.5,235.9 676.5,233.4 679.5,231.6 682.5,230.7 685.5,230.9 688.5,232.1 691.5,233.9 694.5,236.3 697.5,238.8 700.5,240.9 703.5,242 706.5,241.9 709.5,240.4 712.5,237.7 715.5,234.5 718.5,231.2 721.5,228.7 724.5,227.7 727.5,228.5 730.5,231.1 733.5,235 736.5,239.4 739.5,243.3 742.5,245.7 745.5,245.9 748.5,243.8 751.5,239.8 754.5,234.6 757.5,229.6 760.5,225.8 763.5,224.3 766.5,225.5 769.5,229.1 772.5,234.3 775.5,240 778.5,244.8 781.5,247.5 784.5,247.6 787.5,244.9 790.5,240.2 793.5,234.6 796.5,229.4 799.5,225.8 802.5,224.6 805.5,226 808.5,229.6 811.5,234.5 814.5,239.4 817.5,243.4 820.5,245.4 823.5,245.2 826.5,242.9 829.5,239.2 832.5,235.1 835.5,231.4 838.5,229 841.5,228.4 844.5,229.4 847.5,231.8 850.5,234.8 853.5,237.8 856.5,240 859.5,241.2 862.5,241 865.5,239.8 868.5,237.9 871.5,235.7 874.5,233.6 877.5,232.1 880.5,231.5 883.5,231.8 886.5,233 889.5,234.8 892.5,236.8 895.5,238.4 898.5,239.5 901.5,239.7 904.5,239.2 907.5,237.9 910.5,236.3 913.5,234.7 916.5,233.4 919.5,232.7 922.5,232.7 925.5,233.4 928.5,234.5 931.5,235.9 934.5,237.1 937.5,238 940.5,238.5 943.5,238.3 946.5,237.7 949.5,236.8 952.5,235.8 955.5,234.9 958.5,234.2 961.5,234 964.5,234.1 967.5,234.5 970.5,235.2 973.5,236 976.5,236.8 979.5,237.4 982.5,237.7 985.5,237.7 988.5,237.4 991.5,236.7 994.5,236 997.5,235.1 1000.5,234.5 1003.5,234 1006.5,233.8 1009.5,234 1012.5,234.6 1015.5,235.4 1018.5,236.5 1021.5,237.5 1024.5,238.3 1027.5,238.8 1030.5,238.8 1033.5,238.2 1036.5,237.2 1039.5,236 1042.5,234.8 1045.5,233.7 1048.5,232.9 1051.5,232.6 1054.5,232.9 1057.5,233.6 1060.5,234.6 1063.5,235.9 1066.5,237.2 1069.5,238.4 1072.5,239.3 1075.5,239.8 1078.5,239.7 1081.5,239 1084.5,237.8 1087.5,236.3 1090.5,234.6 1093.5,232.9 1096.5,231.4 1099.5,230.5 1102.5,230.3 1105.5,230.9 1108.5,232.3 1111.5,234.3"/>
<path stroke="#a34d14" d="M124.5,234 128.5,235.1 132.5,237.2 136.5,239.9 140.5,242.6 144.5,244.7 148.5,245.8 152.5,245.8 156.5,245.4 160.5,244.6 164.5,243.6 168.5,242.4 172.5,241.1 176.5,239.9 180.5,239 184.5,238.3 188.5,237.9 192.5,237.7 196.5,236.6 200.5,234.7 204.5,232.6 208.5,230.6 212.5,229.3 216.5,228.9 220.5,229.2 224.5,229.9 228.5,231 232.5,232.2 236.5,233.5 240.5,234.6 244.5,235.5 248.5,235.9 252.5,235.9 256.5,236 260.5,236.2 264.5,236.5 268.5,236.8 272.5,237.2 276.5,237.5 280.5,237.9 284.5,238.2 288.5,238.5 292.5,238.7 296.5,238.9 300.5,238.9 304.5,238.7 308.5,238.1 312.5,237.3 316.5,236.2 320.5,235 324.5,233.9 328.5,232.9 332.5,232.1 336.5,231.6 340.5,231.5 344.5,231.6 348.5,232 352.5,232.7 356.5,233.5 360.5,234.4 364.5,235.4 368.5,236.4 372.5,237.4 376.5,238.2 380.5,238.9 384.5,239.4 388.5,239.7 392.5,239.7 396.5,239.4 400.5,238.8 404.5,237.9 408.5,236.9 412.5,235.8 416.5,234.8 420.5,233.9 424.5,233.3 428.5,233 432.5,233 436.5,233.4 440.5,234 444.5,234.8 448.5,235.7 452.5,236.7 456.5,237.6 460.5,238.4 464.5,239.1 468.5,239.4 472.5,239.5 476.5,239.2 480.5,238.5 484.5,237.4 488.5,236.3 492.5,235.1 496.5,234.1 500.5,233.3 504.5,233 508.5,233.1 512.5,233.3 516.5,233.7 520.5,234.2 524.5,234.9 528.5,235.6 532.5,236.4 536.5,237.2 540.5,238 544.5,238.6 548.5,239.2 552.5,239.6 556.5,239.9 560.5,240 564.5,239.8 568.5,239.2 572.5,238.3 576.5,237.1 580.5,235.8 584.5,234.6 588.5,233.5 592.5,232.7 596.5,232.3 600.5,232.3 604.5,232.5 608.5,233 612.5,233.6 616.5,234.5 620.5,235.5 624.5,236.5 628.5,237.6 632.5,238.6 636.5,239.5 640.5,240.3 644.5,240.9 648.5,241.3 652.5,241.5 656.5,241.4 660.5,240.9 664.5,240 668.5,238.9 672.5,237.5 676.5,236 680.5,234.5 684.5,233 688.5,231.6 692.5,230.4 696.5,229.5 700.5,228.9 704.5,228.7 708.5,229 712.5,229.9 716.5,231.4 720.5,233.2 724.5,235.3 728.5,237.5 732.5,239.7 736.5,241.5 740.5,243 744.5,243.9 748.5,244.2 752.5,243.7 756.5,242.1 760.5,239.8 764.5,237 768.5,234.1 772.5,231.4 776.5,229.4 780.5,228.3 784.5,228.2 788.5,228.9 792.5,230.5 796.5,232.7 800.5,235.3 804.5,238 808.5,240.6 812.5,242.8 816.5,244.3 820.5,245 824.5,244.8 828.5,243.5 832.5,241.4 836.5,238.7 840.5,235.8 844.5,233 848.5,230.7 852.5,229.2 856.5,228.8 860.5,228.9 864.5,229.4 868.5,230.2 872.5,231.2 876.5,232.4 880.5,233.7 884.5,235.1 888.5,236.3 892.5,237.5 896.5,238.5 900.5,239.3 904.5,239.7 908.5,239.9 912.5,239.7 916.5,239.4 920.5,238.8 924.5,238 928.5,237.1 932.5,236.1 936.5,235.1 940.5,234.1 944.5,233.1 948.5,232.4 952.5,231.8 956.5,231.4 960.5,231.2 964.5,231.4 968.5,232.2 972.5,233.5 976.5,235 980.5,236.6 984.5,238 988.5,239.1 992.5,239.7 996.5,239.7 1000.5,239.2 1004.5,238.3 1008.5,237.1 1012.5,235.8 1016.5,234.6 1020.5,233.6 1024.5,233 1028.5,232.9 1032.5,233 1036.5,233.4 1040.5,234 1044.5,234.6 1048.5,235.4 1052.5,236.1 1056.5,236.8 1060.5,237.4 1064.5,237.8 1068.5,238 1072.5,237.9 1076.5,237.7 1080.5,237.3 1084.5,236.7 1088.5,236.1 1092.5,235.4 1096.5,234.8 1100.5,234.3 1104.5,233.9 1108.5,233.7"/>
<path stroke="#696969" d="M124.5,230.9 128.5,230.9 132.5,230.9 136.5,230.9 140.5,230.9 144.5,230.9 148.5,230.9 152.5,230.9 156.5,230.9 160.5,230.9 164.5,230.9 168.5,230.9 172.5,230.9 176.5,230.9 180.5,230.9 184.5,230.9 188.5,230.9 192.5,230.9 196.5,230.9 200.5,230.9 204.5,230.9 208.5,231 212.5,231.1 216.5,231.3 220.5,231.5 224.5,231.7 228.5,232 232.5,232.2 236.5,232.5 240.5,232.8 244.5,233 248.5,233.3 252.5,233.5 256.5,233.6 260.5,233.8 264.5,233.9 268.5,233.9 272.5,233.9 276.5,233.9 280.5,234 284.5,234.1 288.5,234.2 292.5,234.3 296.5,234.4 300.5,234.6 304.5,234.7 308.5,234.8 312.5,234.8 316.5,234.9 320.5,234.9 324.5,234.9 328.5,234.9 332.5,234.8 336.5,234.7 340.5,234.7 344.5,234.6 348.5,234.5 352.5,234.4 356.5,234.3 360.5,234.1 364.5,234 368.5,233.9 372.5,233.8 376.5,233.7 380.5,233.6 384.5,233.5 388.5,233.5 392.5,233.4 396.5,233.4 400.5,233.4 404.5,233.4 408.5,233.5 412.5,233.5 416.5,233.6 420.5,233.7 424.5,233.8 428.5,234 432.5,234.1 436.5,234.3 440.5,234.4 444.5,234.6 448.5,234.7 452.5,234.9 456.5,235 460.5,235.1 464.5,235.2 468.5,235.3 472.5,235.4 476.5,235.4 480.5,235.4 484.5,235.4 488.5,235.3 492.5,235.3 496.5,235.2 500.5,235.1 504.5,235 508.5,234.8 512.5,234.7 516.5,234.5 520.5,234.4 524.5,234.2 528.5,234.1 532.5,233.9 536.5,233.8 540.5,233.7 544.5,233.6 548.5,233.5 552.5,233.4 556.5,233.4 560.5,233.4 564.5,233.4 568.5,233.4 572.5,233.5 576.5,233.5 580.5,233.6 584.5,233.6 588.5,233.7 592.5,233.8 596.5,233.8 600.5,233.9 604.5,234 608.5,234.1 612.5,234.1 616.5,234.2 620.5,234.3 624.5,234.3 628.5,234.3 632.5,234.4 636.5,234.4 640.5,234.4 644.5,234.4 648.5,234.5 652.5,234.6 656.5,234.7 660.5,234.8 664.5,234.9 668.5,235.1 672.5,235.2 676.5,235.4 680.5,235.5 684.5,235.7 688.5,235.8 692.5,235.8 696.5,235.9 700.5,235.9 704.5,235.9 708.5,235.8 712.5,235.7 716.5,235.5 720.5,235.3 724.5,235 728.5,234.8 732.5,234.5 736.5,234.2 740.5,233.9 744.5,233.5 748.5,233.2 752.5,233 756.5,232.7 760.5,232.5 764.5,232.3 768.5,232.1 772.5,232 776.5,231.9 780.5,231.9 784.5,232 788.5,232.3 792.5,232.7 796.5,233.3 800.5,234 804.5,234.8 808.5,235.6 812.5,236.4 816.5,237.2 820.5,238 824.5,238.7 828.5,239.2 832.5,239.6 836.5,239.8 840.5,239.9 844.5,239.8 848.5,239.5 852.5,239.1 856.5,238.5 860.5,237.8 864.5,237 868.5,236.2 872.5,235.4 876.5,234.6 880.5,233.8 884.5,233.1 888.5,232.6 892.5,232.2 896.5,232 900.5,231.9 904.5,231.9 908.5,232 912.5,232.2 916.5,232.4 920.5,232.7 924.5,233 928.5,233.3 932.5,233.6 936.5,233.9 940.5,234.2 944.5,234.4 948.5,234.6 952.5,234.8 956.5,234.9 960.5,234.9 964.5,234.9 968.5,234.9 972.5,234.9 976.5,234.8 980.5,234.8 984.5,234.8 988.5,234.8 992.5,234.7 996.5,234.7 1000.5,234.6 1004.5,234.6 1008.5,234.6 1012.5,234.5 1016.5,234.5 1020.5,234.5 1024.5,234.4 1028.5,234.4 1032.5,234.4 1036.5,234.4 1040.5,234.4 1044.5,234.4 1048.5,234.4 1052.5,234.4 1056.5,234.5 1060.5,234.5 1064.5,234.5 1068.5,234.6 1072.5,234.6 1076.5,234.7 1080.5,234.7 1084.5,234.7 1088.5,234.8 1092.5,234.8 1096.5,234.8 1100.5,234.9 1104.5,234.9 1108.5,234.9"/>
<path stroke="#9c7a18" d="M124.5,235.9 128.5,235.9 132.5,235.9 136.5,235.9 140.5,235.9 144.5,236 148.5,236 152.5,236 156.5,236.1 160.5,236.1 164.5,236.2 168.5,236.2 172.5,236.3 176.5,236.3 180.5,236.4 184.5,236.4 188.5,236.5 192.5,236.6 196.5,236.6 200.5,236.7 204.5,236.8 208.5,236.8 212.5,236.9 216.5,237 220.5,237.1 224.5,237.1 228.5,237.2 232.5,237.3 236.5,237.3 240.5,237.4 244.5,237.5 248.5,237.5 252.5,237.6 256.5,237.6 260.5,237.7 264.5,237.7 268.5,237.7 272.5,237.8 276.5,237.8 280.5,237.8 284.5,237.9 288.5,237.9 292.5,237.9 296.5,237.9 300.5,237.9 304.5,237.9 308.5,237.9 312.5,237.9 316.5,237.9 320.5,237.9 324.5,237.9 328.5,237.9 332.5,237.9 336.5,237.9 340.5,237.9 344.5,237.9 348.5,237.9 352.5,237.9 356.5,237.9 360.5,237.9 364.5,237.9 368.5,237.9 372.5,237.9 376.5,237.9 380.5,237.9 384.5,237.8 388.5,237.8 392.5,237.8 396.5,237.8 400.5,237.8 404.5,237.8 408.5,237.8 412.5,237.8 416.5,237.8 420.5,237.8 424.5,237.8 428.5,237.8 432.5,237.8 436.5,237.8 440.5,237.8 444.5,237.8 448.5,237.7 452.5,237.7 456.5,237.7 460.5,237.7 464.5,237.7 468.5,237.7 472.5,237.7 476.5,237.7 480.5,237.7 484.5,237.7 488.5,237.7 492.5,237.7 496.5,237.7 500.5,237.6 504.5,237.6 508.5,237.6 512.5,237.6 516.5,237.6 520.5,237.6 524.5,237.6 528.5,237.6 532.5,237.6 536.5,237.6 540.5,237.6 544.5,237.6 548.5,237.6 552.5,237.5 556.5,237.5 560.5,237.5 564.5,237.5 568.5,237.5 572.5,237.5 576.5,237.5 580.5,237.5 584.5,237.5 588.5,237.5 592.5,237.5 596.5,237.5 600.5,237.5 604.5,237.5 608.5,237.5 612.5,237.5 616.5,237.5 620.5,237.4 624.5,237.4 628.5,237.4 632.5,237.4 636.5,237.4 640.5,237.4 644.5,237.4 648.5,237.4 652.5,237.4 656.5,237.4 660.5,237.4 664.5,237.4 668.5,237.4 672.5,237.4 676.5,237.4 680.5,237.4 684.5,237.4 688.5,237.4 692.5,237.4 696.5,237.4 700.5,237.4 704.5,237.4 708.5,237.4 712.5,237.4 716.5,237.4 720.5,237.4 724.5,237.4 728.5,237.4 732.5,237.4 736.5,237.4 740.5,237.4 744.5,237.4 748.5,237.4 752.5,237.4 756.5,237.4 760.5,237.3 764.5,237.3 768.5,237.3 772.5,237.3 776.5,237.3 780.5,237.3 784.5,237.3 788.5,237.3 792.5,237.3 796.5,237.3 800.5,237.3 804.5,237.3 808.5,237.2 812.5,237.2 816.5,237.2 820.5,237.2 824.5,237.2 828.5,237.2 832.5,237.2 836.5,237.2 840.5,237.1 844.5,237.1 848.5,237.1 852.5,237.1 856.5,237.1 860.5,237.1 864.5,237.1 868.5,237 872.5,237 876.5,237 880.5,237 884.5,237 888.5,237 892.5,237 896.5,236.9 900.5,236.9 904.5,236.9 908.5,236.9 912.5,236.9 916.5,236.9 920.5,236.8 924.5,236.8 928.5,236.8 932.5,236.8 936.5,236.8 940.5,236.8 944.5,236.8 948.5,236.7 952.5,236.7 956.5,236.7 960.5,236.7 964.5,236.7 968.5,236.7 972.5,236.7 976.5,236.6 980.5,236.6 984.5,236.6 988.5,236.6 992.5,236.6 996.5,236.6 1000.5,236.6 1004.5,236.6 1008.5,236.5 1012.5,236.5 1016.5,236.5 1020.5,236.5 1024.5,236.5 1028.5,236.5 1032.5,236.5 1036.5,236.5 1040.5,236.5 1044.5,236.5 1048.5,236.5 1052.5,236.5 1056.5,236.4 1060.5,236.4 1064.5,236.4 1068.5,236.4 1072.5,236.4 1076.5,236.4 1080.5,236.4 1084.5,236.4 1088.5,236.4 1092.5,236.4 1096.5,236.4 1100.5,236.4 1104.5,236.4 1108.5,236.4"/>
</g>
<g stroke-width="4.6" stroke-linecap="round">
<line x1="68.5" y1="591.0" x2="112.4" y2="591.0" stroke="#4472c4"/>
<line x1="179.5" y1="591.0" x2="223.0" y2="591.0" stroke="#ea7d33"/>
<line x1="280.9" y1="591.0" x2="324.4" y2="591.0" stroke="#a8a8a8"/>
<line x1="382.4" y1="591.0" x2="425.9" y2="591.0" stroke="#f2c12e"/>
<line x1="483.8" y1="591.0" x2="527.3" y2="591.0" stroke="#66a5de"/>
<line x1="585.2" y1="591.0" x2="628.7" y2="591.0" stroke="#74b347"/>
<line x1="686.7" y1="591.0" x2="730.2" y2="591.0" stroke="#25447b"/>
<line x1="788.1" y1="591.0" x2="831.6" y2="591.0" stroke="#a34d14"/>
<line x1="889.5" y1="591.0" x2="933.0" y2="591.0" stroke="#696969"/>
<line x1="990.9" y1="591.0" x2="1033.9" y2="591.0" stroke="#9c7a18"/>
</g>
<text x="117.9" y="597.5" font-size="18" text-anchor="start" textLength="54.4" lengthAdjust="spacingAndGlyphs">Return</text>
<text x="229.0" y="597.5" font-size="18" text-anchor="start" textLength="44.0" lengthAdjust="spacingAndGlyphs">IMF 2</text>
<text x="330.4" y="597.5" font-size="18" text-anchor="start" textLength="44.0" lengthAdjust="spacingAndGlyphs">IMF 3</text>
<text x="431.9" y="597.5" font-size="18" text-anchor="start" textLength="44.0" lengthAdjust="spacingAndGlyphs">IMF 4</text>
<text x="533.3" y="597.5" font-size="18" text-anchor="start" textLength="44.0" lengthAdjust="spacingAndGlyphs">IMF 5</text>
<text x="634.7" y="597.5" font-size="18" text-anchor="start" textLength="44.0" lengthAdjust="spacingAndGlyphs">IMF 6</text>
<text x="736.2" y="597.5" font-size="18" text-anchor="start" textLength="44.0" lengthAdjust="spacingAndGlyphs">IMF 7</text>
<text x="837.6" y="597.5" font-size="18" text-anchor="start" textLength="44.0" lengthAdjust="spacingAndGlyphs">IMF 8</text>
<text x="939.0" y="597.5" font-size="18" text-anchor="start" textLength="44.0" lengthAdjust="spacingAndGlyphs">IMF 9</text>
<text x="1040.7" y="597.5" font-size="18" text-anchor="start" textLength="54.3" lengthAdjust="spacingAndGlyphs">IMF 10</text>
</g>
<g>
<path d="M4,652H1153V1251H4Z" fill="none" stroke="#d9d9d9" stroke-width="1.6"/>
<line x1="114.0" y1="734.0" x2="1111.6" y2="734.0" stroke="#d9d9d9" stroke-width="1.7"/>
<line x1="114.0" y1="793.0" x2="1111.6" y2="793.0" stroke="#d9d9d9" stroke-width="1.7"/>
<line x1="114.0" y1="851.9" x2="1111.6" y2="851.9" stroke="#d9d9d9" stroke-width="1.7"/>
<line x1="114.0" y1="910.9" x2="1111.6" y2="910.9" stroke="#d9d9d9" stroke-width="1.7"/>
<line x1="114.0" y1="969.9" x2="1111.6" y2="969.9" stroke="#d9d9d9" stroke-width="1.7"/>
<line x1="114.0" y1="1028.8" x2="1111.6" y2="1028.8" stroke="#d9d9d9" stroke-width="1.7"/>
<line x1="114.0" y1="1087.8" x2="1111.6" y2="1087.8" stroke="#d9d9d9" stroke-width="1.7"/>
<text x="577.9" y="697.7" font-size="27" text-anchor="middle" textLength="146.4" lengthAdjust="spacingAndGlyphs">SouthKorea</text>
<text x="95.0" y="740.5" font-size="18" text-anchor="end" textLength="70.0" lengthAdjust="spacingAndGlyphs">15.000%</text>
<text x="95.0" y="799.5" font-size="18" text-anchor="end" textLength="70.0" lengthAdjust="spacingAndGlyphs">10.000%</text>
<text x="95.0" y="858.4" font-size="18" text-anchor="end" textLength="59.9" lengthAdjust="spacingAndGlyphs">5.000%</text>
<text x="95.0" y="917.4" font-size="18" text-anchor="end" textLength="59.9" lengthAdjust="spacingAndGlyphs">0.000%</text>
<text x="95.0" y="976.4" font-size="18" text-anchor="end" textLength="66.0" lengthAdjust="spacingAndGlyphs">-5.000%</text>
<text x="95.0" y="1035.3" font-size="18" text-anchor="end" textLength="76.1" lengthAdjust="spacingAndGlyphs">-10.000%</text>
<text x="95.0" y="1094.3" font-size="18" text-anchor="end" textLength="76.1" lengthAdjust="spacingAndGlyphs">-15.000%</text>
<text transform="translate(120.2 1115.6) rotate(-45)" font-size="18" text-anchor="end" textLength="94.5" lengthAdjust="spacingAndGlyphs">08-04-2014</text>
<text transform="translate(214.2 1115.6) rotate(-45)" font-size="18" text-anchor="end" textLength="94.5" lengthAdjust="spacingAndGlyphs">08-04-2015</text>
<text transform="translate(308.2 1115.6) rotate(-45)" font-size="18" text-anchor="end" textLength="94.5" lengthAdjust="spacingAndGlyphs">08-04-2016</text>
<text transform="translate(402.1 1115.6) rotate(-45)" font-size="18" text-anchor="end" textLength="94.5" lengthAdjust="spacingAndGlyphs">08-04-2017</text>
<text transform="translate(496.1 1115.6) rotate(-45)" font-size="18" text-anchor="end" textLength="94.5" lengthAdjust="spacingAndGlyphs">08-04-2018</text>
<text transform="translate(590.1 1115.6) rotate(-45)" font-size="18" text-anchor="end" textLength="94.5" lengthAdjust="spacingAndGlyphs">08-04-2019</text>
<text transform="translate(684.1 1115.6) rotate(-45)" font-size="18" text-anchor="end" textLength="94.5" lengthAdjust="spacingAndGlyphs">08-04-2020</text>
<text transform="translate(778.1 1115.6) rotate(-45)" font-size="18" text-anchor="end" textLength="94.5" lengthAdjust="spacingAndGlyphs">08-04-2021</text>
<text transform="translate(872.0 1115.6) rotate(-45)" font-size="18" text-anchor="end" textLength="94.5" lengthAdjust="spacingAndGlyphs">08-04-2022</text>
<text transform="translate(966.0 1115.6) rotate(-45)" font-size="18" text-anchor="end" textLength="94.5" lengthAdjust="spacingAndGlyphs">08-04-2023</text>
<text transform="translate(1060.0 1115.6) rotate(-45)" font-size="18" text-anchor="end" textLength="94.5" lengthAdjust="spacingAndGlyphs">08-04-2024</text>
<g fill="none" stroke-width="5.3" stroke-linejoin="round" stroke-linecap="round">
<path stroke="#ea7d33" d="M114,904.6 115.7,917.1 117.4,904.5 119.1,916 120.8,906.4 122.5,927.7 124.2,895.1 125.9,927.5 127.6,902.9 129.3,911.4 131,910.3 132.7,911.5 134.4,910.4 136.1,911.3 137.8,910.4 139.5,911.3 141.2,910.4 142.9,912.5 144.6,907.6 146.3,915.7 148,906.3 149.7,914.6 151.4,907.9 153.1,914.7 154.8,903.1 156.5,919.8 158.2,903 159.9,918.1 161.6,908 163.3,911.7 165,910.5 166.7,911.3 168.4,910.5 170.1,912 171.8,908.5 173.5,914.1 175.2,907.5 176.9,914.8 178.6,909 180.3,912 182,910.5 183.7,911.2 185.4,910.7 187.1,911.1 188.8,910.7 190.5,911.1 192.2,910.7 193.9,911.1 195.6,910.3 197.3,912.2 199,908.6 200.7,913.1 202.4,908.6 204.1,912.7 205.8,908.9 207.5,913 209.2,907.8 210.9,914.9 212.6,907.8 214.3,912.6 216,910.7 217.7,911.2 219.4,910.6 221.1,911.1 222.8,910.7 224.5,911.2 226.2,910.7 227.9,911.1 229.6,910.6 231.3,911.1 233,910.7 234.7,911.1 236.4,910.6 238.1,911.1 239.8,910.7 241.5,911.5 243.2,909.4 244.9,913.1 246.6,908 248.3,915.2 250,907.8 251.7,913.8 253.4,909.1 255.1,911.5 256.8,910.7 258.5,911.1 260.2,910.7 261.9,911.1 263.6,910.7 265.3,911.2 267,910.6 268.7,911.2 270.4,910.7 272.1,911.1 273.8,910.7 275.5,911.4 277.2,910.1 278.9,911.7 280.6,910.3 282.3,911.4 284,910.6 285.7,911.2 287.4,910.6 289.1,911.1 290.8,910.2 292.5,913.7 294.2,906.2 295.9,916.5 297.6,906.2 299.3,916.3 301,907 302.7,915.8 304.4,906.1 306.1,916.6 307.8,905.9 309.5,915.8 311.2,905 312.9,916.6 314.6,904.7 316.3,919.6 318,883.4 319.7,939.7 321.4,883.3 323.1,927.2 324.8,900.2 326.5,920.8 328.2,900.7 329.9,922.4 331.6,832.4 333.3,1008.8 335,771.3 336.7,1050.7 338.4,791.7 340.1,971.4 341.8,903.8 343.5,940.8 345.2,896.1 346.9,940.8 348.6,899.2 350.3,919.2 352,903.2 353.7,918 355.4,880.8 357.1,945.7 358.8,876.6 360.5,942.6 362.2,891.3 363.9,935.6 365.6,890.9 367.3,927.4 369,904.8 370.7,918.3 372.4,905.3 374.1,913.5 375.8,910.3 377.5,911.5 379.2,910.2 380.9,911.4 382.6,910.4 384.3,911.4 386,910.5 387.7,911.3 389.4,910.4 391.1,911.4 392.8,909.7 394.5,913.7 396.2,904.8 397.9,916.4 399.6,905 401.3,915.5 403,906.5 404.7,916.4 406.4,905.7 408.1,916.2 409.8,905.8 411.5,916.6 413.2,906.4 414.9,915.5 416.6,905.3 418.3,916.6 420,908 421.7,912.7 423.4,902.7 425.1,950.8 426.8,859.7 428.5,961.1 430.2,860 431.9,931.3 433.6,881.6 435.3,950.2 437,881.5 438.7,919.3 440.4,909.4 442.1,913.7 443.8,883.5 445.5,957.9 447.2,865.9 448.9,957.5 450.6,892 452.3,915.2 454,909.4 455.7,912.1 457.4,906.8 459.1,918.2 460.8,904.8 462.5,912.9 464.2,910 465.9,911.7 467.6,910.1 469.3,911.5 471,908.3 472.7,919.8 474.4,896.9 476.1,927.3 477.8,897.1 479.5,925.1 481.2,899.3 482.9,920.3 484.6,901.1 486.3,921 488,901.4 489.7,919.5 491.4,898.3 493.1,929 494.8,874.6 496.5,950.6 498.2,874.1 499.9,942.1 501.6,905 503.3,914.7 505,890.4 506.7,933.7 508.4,886.9 510.1,931.6 511.8,906.3 513.5,919.8 515.2,887.1 516.9,930.5 518.6,887 520.3,931.1 522,891.6 523.7,932.1 525.4,891.6 527.1,932.4 528.8,890.8 530.5,928 532.2,900.6 533.9,931 535.6,871 537.3,950 539,871.7 540.7,919.3 542.4,909.8 544.1,911.9 545.8,910.1 547.5,911.8 549.2,910.1 550.9,911.7 552.6,910.2 554.3,913.1 556,906.8 557.7,916 559.4,904.6 561.1,917.9 562.8,903.3 564.5,918.1 566.2,905.3 567.9,913.8 569.6,910.2 571.3,911.5 573,908.8 574.7,917.5 576.4,898.4 578.1,930.5 579.8,892.4 581.5,930.4 583.2,899.7 584.9,914.3 586.6,907.4 588.3,916.3 590,905.1 591.7,916.7 593.4,908.4 595.1,912.5 596.8,908.6 598.5,914.7 600.2,904.3 601.9,919.1 603.6,900.5 605.3,925.2 607,901.9 608.7,918.1 610.4,902.8 612.1,928.7 613.8,891.3 615.5,928.8 617.2,895.3 618.9,925 620.6,898.8 622.3,923.8 624,900 625.7,920.5 627.4,904.3 629.1,913.8 630.8,910.3 632.5,911.6 634.2,910.2 635.9,911.4 637.6,910.3 639.3,911.6 641,910.3 642.7,911.4 644.4,910.3 646.1,911.9 647.8,909.6 649.5,912 651.2,908.4 652.9,915.6 654.6,903 656.3,920 658,899.5 659.7,927.4 661.4,884.2 663.1,940.9 664.8,884.5 666.5,924.8 668.2,899.3 669.9,917.6 671.6,908.4 673.3,912 675,909.6 676.7,912.3 678.4,907.7 680.1,922.5 681.8,869.5 683.5,950.6 685.2,868.1 686.9,940.3 688.6,881.2 690.3,940.6 692,881 693.7,925.9 695.4,908.9 697.1,912 698.8,907 700.5,916 702.2,908.2 703.9,914 705.6,907.5 707.3,916.4 709,903.5 710.7,919 712.4,905 714.1,913.8 715.8,910.2 717.5,911.5 719.2,910.2 720.9,911.5 722.6,908.7 724.3,914.5 726,907.2 727.7,912.1 729.4,910.1 731.1,911.6 732.8,909.9 734.5,912 736.2,908.4 737.9,915.6 739.6,904.6 741.3,917.9 743,901.6 744.7,916.9 746.4,906.4 748.1,913.7 749.8,909.9 751.5,911.9 753.2,901.6 754.9,945.2 756.6,872.5 758.3,949.1 760,874.8 761.7,924.1 763.4,886.1 765.1,930.4 766.8,886.1 768.5,922.3 770.2,904 771.9,917.9 773.6,906.9 775.3,913 777,910.1 778.7,912 780.4,908.3 782.1,915.4 783.8,907.2 785.5,915.2 787.2,909.1 788.9,911.5 790.6,910.3 792.3,911.5 794,910.2 795.7,911.4 797.4,910.3 799.1,911.6 800.8,910.3 802.5,911.9 804.2,906.9 805.9,916.3 807.6,904.7 809.3,919.6 811,902.4 812.7,918 814.4,907 816.1,913.3 817.8,909.6 819.5,911.7 821.2,909 822.9,914.2 824.6,904.8 826.3,917.8 828,904 829.7,918.2 831.4,904.1 833.1,918.5 834.8,904.1 836.5,919.7 838.2,899.1 839.9,927.9 841.6,894.6 843.3,932.6 845,882.3 846.7,941.5 848.4,882.2 850.1,932.9 851.8,906 853.5,911.9 855.2,910 856.9,914.7 858.6,901.5 860.3,921.9 862,900.2 863.7,920.1 865.4,899.6 867.1,920.8 868.8,899.6 870.5,923.7 872.2,899.7 873.9,934.2 875.6,888 877.3,934.9 879,895.2 880.7,912.9 882.4,910 884.1,913 885.8,903.1 887.5,923.7 889.2,895.4 890.9,931 892.6,891.9 894.3,926.1 896,897.1 897.7,923.3 899.4,903.5 901.1,911.7 902.8,909.9 904.5,911.9 906.2,909.9 907.9,912.1 909.6,909.8 911.3,921.4 913,886.3 914.7,939.3 916.4,886 918.1,929.6 919.8,907.2 921.5,911.9 923.2,909.9 924.9,911.9 926.6,909.8 928.3,911.9 930,909.7 931.7,919.8 933.4,881.1 935.1,941.2 936.8,880.1 938.5,933.8 940.2,900.7 941.9,917 943.6,907.3 945.3,914 947,907.2 948.7,915.2 950.4,905.8 952.1,916.4 953.8,904.5 955.5,917.5 957.2,907.1 958.9,912.6 960.6,910.1 962.3,911.7 964,910.1 965.7,911.6 967.4,910 969.1,911.7 970.8,909.9 972.5,911.7 974.2,909.9 975.9,912 977.6,909.1 979.3,924.2 981,884.6 982.7,937.5 984.4,884.4 986.1,930.5 987.8,884.9 989.5,937.5 991.2,884.2 992.9,932.9 994.6,903.1 996.3,917.6 998,901.8 999.7,919.4 1001.4,900.3 1003.1,927.6 1004.8,892.2 1006.5,932.7 1008.2,894.7 1009.9,919.3 1011.6,880.5 1013.3,945.9 1015,877.9 1016.7,939.5 1018.4,906.2 1020.1,912.1 1021.8,909.3 1023.5,911.9 1025.2,908.1 1026.9,929.2 1028.6,892.9 1030.3,935.3 1032,884.7 1033.7,933.1 1035.4,892.4 1037.1,925.9 1038.8,893.3 1040.5,931.4 1042.2,877.2 1043.9,949.9 1045.6,870.4 1047.3,948.4 1049,881 1050.7,948.9 1052.4,884.4 1054.1,916.9 1055.8,892.6 1057.5,940.5 1059.2,880.2 1060.9,940.5 1062.6,898.4 1064.3,918.7 1066,904.6 1067.7,918 1069.4,888.5 1071.1,935.6 1072.8,886.5 1074.5,934 1076.2,903 1077.9,917.4 1079.6,906.3 1081.3,913.9 1083,909.6 1084.7,911.8 1086.4,910 1088.1,912.1 1089.8,907.9 1091.5,917.7 1093.2,899.5 1094.9,925.7 1096.6,898.6 1098.3,927.4 1100,878.7 1101.7,945.3 1103.4,874.2 1105.1,942.5 1106.8,900.4 1108.5,925.5 1110.2,896.0"/>
<path stroke="#a8a8a8" d="M114,910.5 115.9,911.4 117.8,910.5 119.7,911.3 121.6,910.5 123.5,913.8 125.4,906.6 127.3,914.9 129.2,906.2 131.1,915.3 133,906.8 134.9,915.9 136.8,906.8 138.7,915.3 140.6,906.8 142.5,912.7 144.4,910.5 146.3,911.3 148.2,910.5 150.1,911.2 152,910.6 153.9,911.2 155.8,910.6 157.7,911.2 159.6,910.6 161.5,911.2 163.4,910.6 165.3,911.2 167.2,910.6 169.1,912.6 171,907.4 172.9,914.7 174.8,907.6 176.7,913.9 178.6,907.8 180.5,914 182.4,906.5 184.3,916.8 186.2,904.6 188.1,917.3 190,906.4 191.9,915.2 193.8,906.5 195.7,914.8 197.6,907.6 199.5,914 201.4,907.6 203.3,913.8 205.2,908.4 207.1,913 209,909.5 210.9,912.4 212.8,909.1 214.7,913 216.6,909.3 218.5,911.6 220.4,910.7 222.3,911.1 224.2,910.7 226.1,912.6 228,907.6 229.9,915.1 231.8,906.9 233.7,913.6 235.6,909.2 237.5,911.4 239.4,910.5 241.3,911.6 243.2,909.3 245.1,912.7 247,908.3 248.9,913.9 250.8,907.5 252.7,913.5 254.6,908.4 256.5,913.2 258.4,909.1 260.3,912.3 262.2,909.9 264.1,911.6 266,910.3 267.9,912 269.8,909.6 271.7,912.5 273.6,909 275.5,912.9 277.4,910.1 279.3,911.1 281.2,910.7 283.1,911.1 285,910.7 286.9,911.1 288.8,910.7 290.7,912 292.6,909.3 294.5,912.4 296.4,910 298.3,911.2 300.2,910.6 302.1,911.2 304,910.6 305.9,911.2 307.8,908.6 309.7,914.9 311.6,905 313.5,916 315.4,901.1 317.3,929.4 319.2,895.1 321.1,929.6 323,895.8 324.9,921.2 326.8,908.1 328.7,924.4 330.6,891.6 332.5,940.3 334.4,889 336.3,940.4 338.2,894.9 340.1,924.3 342,895.6 343.9,922.2 345.8,903 347.7,916.9 349.6,906.3 351.5,916.9 353.4,901.6 355.3,928.2 357.2,890.3 359.1,927.3 361,891.4 362.9,924.5 364.8,904 366.7,911.6 368.6,910.4 370.5,911.4 372.4,910.4 374.3,912.4 376.2,907.8 378.1,914.5 380,909.2 381.9,911.4 383.8,910.5 385.7,911.3 387.6,910.5 389.5,911.4 391.4,910.6 393.3,911.2 395.2,910.5 397.1,914.3 399,903.8 400.9,919.5 402.8,903.6 404.7,918.4 406.6,903.7 408.5,914.5 410.4,910.2 412.3,911.5 414.2,910.4 416.1,911.4 418,909.6 419.9,913.7 421.8,905.5 423.7,919.1 425.6,899.7 427.5,927.7 429.4,890.9 431.3,925.1 433.2,899.8 435.1,920.4 437,904.9 438.9,916.4 440.8,905.6 442.7,915.2 444.6,907 446.5,915.1 448.4,905.3 450.3,917.6 452.2,902.3 454.1,918.7 456,899.2 457.9,919.4 459.8,905.7 461.7,912.7 463.6,910.3 465.5,912.1 467.4,905.1 469.3,921.7 471.2,898.9 473.1,926.9 475,894.3 476.9,931 478.8,896.8 480.7,913.8 482.6,910.3 484.5,911.5 486.4,910.3 488.3,911.5 490.2,906 492.1,921.2 494,901.9 495.9,916.8 497.8,909.1 499.7,912.1 501.6,904.9 503.5,923.9 505.4,893 507.3,933 509.2,894.9 511.1,924.8 513,897.4 514.9,919.8 516.8,900.9 518.7,922 520.6,901.5 522.5,922.4 524.4,894.2 526.3,924.9 528.2,901 530.1,931.2 532,881.6 533.9,953.4 535.8,857.7 537.7,966.1 539.6,860.9 541.5,920.5 543.4,910.3 545.3,911.5 547.2,910.3 549.1,911.4 551,910.4 552.9,911.5 554.8,909.7 556.7,912.8 558.6,908.8 560.5,913.8 562.4,907.6 564.3,914.9 566.2,907 568.1,914.8 570,907.3 571.9,912.6 573.8,910.5 575.7,911.5 577.6,908.6 579.5,915.8 581.4,904.6 583.3,921.8 585.2,900 587.1,922.9 589,896.7 590.9,924.4 592.8,892.9 594.7,924.2 596.6,901.1 598.5,912.1 600.4,910.3 602.3,911.4 604.2,910.3 606.1,911.4 608,910.4 609.9,911.5 611.8,910.4 613.7,911.9 615.6,908.4 617.5,916.5 619.4,903.4 621.3,922.4 623.2,893.4 625.1,923.7 627,897 628.9,917.2 630.8,910.4 632.7,911.5 634.6,910.5 636.5,911.4 638.4,910.5 640.3,911.4 642.2,910.4 644.1,912.6 646,907.2 647.9,913.5 649.8,910.4 651.7,911.3 653.6,910.4 655.5,911.5 657.4,910.3 659.3,911.6 661.2,910.2 663.1,911.4 665,910.2 666.9,911.6 668.8,909.6 670.7,928.5 672.6,862.5 674.5,959.5 676.4,861.1 678.3,950.3 680.2,871.6 682.1,950.3 684,892.3 685.9,912.6 687.8,907.5 689.7,917.4 691.6,906.4 693.5,914.9 695.4,892.1 697.3,934.8 699.2,888.2 701.1,933.9 703,904.2 704.9,914.5 706.8,908.5 708.7,911.5 710.6,910.4 712.5,911.4 714.4,909.4 716.3,918.9 718.2,894.2 720.1,928.6 722,893.2 723.9,927.5 725.8,897.1 727.7,926.9 729.6,897.6 731.5,923.8 733.4,900.6 735.3,918.4 737.2,902.1 739.1,916.1 741,907.3 742.9,913.4 744.8,909.3 746.7,912.5 748.6,909.1 750.5,913.2 752.4,900.6 754.3,934.8 756.2,889.3 758.1,935.3 760,890.9 761.9,920.6 763.8,900.4 765.7,921.4 767.6,900.5 769.5,918.5 771.4,904.7 773.3,915.5 775.2,906.4 777.1,915.9 779,902.1 780.9,921.2 782.8,897.3 784.7,923 786.6,899.5 788.5,919.5 790.4,908 792.3,911.9 794.2,910.5 796.1,911.3 798,910.5 799.9,911.3 801.8,910.5 803.7,911.4 805.6,910.4 807.5,911.3 809.4,908.1 811.3,916.3 813.2,905.7 815.1,915.5 817,906.1 818.9,913.5 820.8,910 822.7,911.3 824.6,909.1 826.5,915.3 828.4,906 830.3,914.7 832.2,910.2 834.1,911.4 836,910.4 837.9,912.6 839.8,905.1 841.7,919.4 843.6,903.6 845.5,913.4 847.4,910.3 849.3,911.6 851.2,910.3 853.1,911.8 855,909.2 856.9,912.8 858.8,908.5 860.7,913.4 862.6,908.3 864.5,913.1 866.4,910.2 868.3,911.7 870.2,910.2 872.1,911.6 874,910.3 875.9,911.5 877.8,910.3 879.7,913.4 881.6,902.7 883.5,924.8 885.4,886.5 887.3,934.8 889.2,885.9 891.1,932.3 893,901.9 894.9,915 896.8,904.9 898.7,920.5 900.6,897.5 902.5,930.2 904.4,892.8 906.3,929.8 908.2,893.3 910.1,920.4 912,902.2 913.9,914.6 915.8,910.1 917.7,911.5 919.6,909.8 921.5,912.1 923.4,910.2 925.3,911.5 927.2,908.5 929.1,917 931,890.9 932.9,941.8 934.8,880 936.7,941.7 938.6,887 940.5,929.5 942.4,893.6 944.3,926.5 946.2,905.3 948.1,911.4 950,910.3 951.9,911.5 953.8,910.4 955.7,911.4 957.6,910.4 959.5,911.3 961.4,910.4 963.3,912.9 965.2,907.2 967.1,912.8 969,910.4 970.9,911.5 972.8,910.3 974.7,911.6 976.6,910.3 978.5,911.6 980.4,910.2 982.3,911.7 984.2,910.3 986.1,911.5 988,910.2 989.9,911.5 991.8,910.2 993.7,911.6 995.6,910.2 997.5,913.8 999.4,903.9 1001.3,918.7 1003.2,904.5 1005.1,914.1 1007,908.3 1008.9,913.5 1010.8,910.2 1012.7,911.6 1014.6,910.2 1016.5,914.5 1018.4,900.9 1020.3,920.7 1022.2,902.9 1024.1,914.9 1026,910.1 1027.9,911.7 1029.8,910.2 1031.7,911.7 1033.6,910.3 1035.5,911.7 1037.4,907 1039.3,919.1 1041.2,900.2 1043.1,918.5 1045,910.2 1046.9,911.6 1048.8,910.3 1050.7,911.7 1052.6,909.1 1054.5,921.3 1056.4,901.3 1058.3,922.4 1060.2,903.1 1062.1,913.9 1064,910.3 1065.9,911.5 1067.8,910.3 1069.7,911.4 1071.6,910.3 1073.5,911.5 1075.4,910.4 1077.3,911.5 1079.2,906.9 1081.1,922.3 1083,889.9 1084.9,930.7 1086.8,888.3 1088.7,930.1 1090.6,900.1 1092.5,912.7 1094.4,910.4 1096.3,914.4 1098.2,904.7 1100.1,918.6 1102,905.3 1103.9,916.1 1105.8,908.7 1107.7,911.5 1109.6,910.4 1111.5,911.4"/>
<path stroke="#f2c12e" d="M114,903.4 116.7,914.7 119.4,908.8 122.1,913.3 124.8,906.8 127.5,916.2 130.2,902.7 132.9,920.5 135.6,897.6 138.3,925.6 141,895.7 143.7,919.1 146.4,909 149.1,914.1 151.8,902.5 154.5,922.7 157.2,899.9 159.9,922.7 162.6,903.4 165.3,916.3 168,906.4 170.7,915.1 173.4,908.2 176.1,913.8 178.8,908.2 181.5,913.7 184.2,907.2 186.9,916.5 189.6,904.8 192.3,916.7 195,903.8 197.7,916.9 200.4,907.4 203.1,913.1 205.8,910.3 208.5,911.1 211.2,910.7 213.9,911.1 216.6,910.7 219.3,911.7 222,908 224.7,914.2 227.4,908.1 230.1,913.7 232.8,907.6 235.5,915.4 238.2,906.3 240.9,914.3 243.6,908.4 246.3,912.2 249,910.4 251.7,911.3 254.4,910.1 257.1,912.4 259.8,909 262.5,913 265.2,908.7 267.9,913.1 270.6,909.1 273.3,912.5 276,909.1 278.7,912.4 281.4,909.4 284.1,912.5 286.8,908.6 289.5,914.9 292.2,905.1 294.9,917.7 297.6,905.2 300.3,913.1 303,910.5 305.7,911.3 308.4,910.5 311.1,911.8 313.8,905.9 316.5,921.1 319.2,900.6 321.9,920.3 324.6,905.4 327.3,911.6 330,910.3 332.7,911.6 335.4,910.3 338.1,911.6 340.8,910.2 343.5,911.6 346.2,910.2 348.9,911.5 351.6,902.8 354.3,923.4 357,899.7 359.7,920.4 362.4,904.5 365.1,917.5 367.8,897.1 370.5,925.8 373.2,896.3 375.9,925.3 378.6,897.1 381.3,922.5 384,897.7 386.7,921.3 389.4,901.8 392.1,920.1 394.8,899.3 397.5,923.6 400.2,898.1 402.9,922.1 405.6,904.4 408.3,913.6 411,910.4 413.7,911.7 416.4,907.9 419.1,915.8 421.8,903.2 424.5,919.6 427.2,900.5 429.9,921.9 432.6,895.4 435.3,931.2 438,892.6 440.7,924 443.4,903.6 446.1,912 448.8,910.1 451.5,911.6 454.2,910.2 456.9,911.5 459.6,907.8 462.3,916.3 465,906.4 467.7,911.9 470.4,910.4 473.1,911.4 475.8,910.3 478.5,911.4 481.2,910.3 483.9,911.6 486.6,910.2 489.3,914.6 492,907.9 494.7,911.6 497.4,910.1 500.1,911.6 502.8,910.2 505.5,914.4 508.2,900.2 510.9,927.7 513.6,893 516.3,929 519,893.9 521.7,921.5 524.4,902.8 527.1,920.5 529.8,899.9 532.5,920.8 535.2,902 537.9,918.7 540.6,902.7 543.3,918 546,906.9 548.7,912.6 551.4,910.3 554.1,911.5 556.8,910.3 559.5,912.4 562.2,908 564.9,915 567.6,908 570.3,911.4 573,910.4 575.7,911.5 578.4,910.4 581.1,911.4 583.8,910.3 586.5,911.5 589.2,910.4 591.9,911.6 594.6,910.3 597.3,912.8 600,909 602.7,912.6 605.4,910.4 608.1,911.5 610.8,910.3 613.5,911.5 616.2,910.4 618.9,911.5 621.6,910.3 624.3,911.4 627,910.3 629.7,913.4 632.4,905.7 635.1,917.3 637.8,902.5 640.5,918.7 643.2,904 645.9,917.2 648.6,903.2 651.3,919.2 654,900.7 656.7,920.7 659.4,900.4 662.1,920.4 664.8,890.2 667.5,940.7 670.2,881.5 672.9,940.5 675.6,893.2 678.3,914.2 681,910.1 683.7,911.6 686.4,910.1 689.1,912.7 691.8,903.3 694.5,921.1 697.2,900.2 699.9,917.5 702.6,908.1 705.3,911.4 708,910.3 710.7,911.4 713.4,910.4 716.1,911.4 718.8,910.3 721.5,915.3 724.2,900.9 726.9,921.9 729.6,897.4 732.3,925.1 735,898.2 737.7,919.8 740.4,903 743.1,915.4 745.8,908.7 748.5,913.2 751.2,905.9 753.9,919.3 756.6,899.9 759.3,921.4 762,898.5 764.7,923.8 767.4,897.9 770.1,923.6 772.8,901.8 775.5,919.7 778.2,899.2 780.9,924.7 783.6,894.7 786.3,928.1 789,895.3 791.7,927.9 794.4,901.3 797.1,917.1 799.8,904.2 802.5,918.8 805.2,900.3 807.9,922.2 810.6,899.5 813.3,920.4 816,903 818.7,916 821.4,907.8 824.1,914.2 826.8,907.7 829.5,915.7 832.2,906 834.9,915.8 837.6,903.6 840.3,920.6 843,896.4 845.7,924.3 848.4,899.9 851.1,915.9 853.8,907.7 856.5,914.9 859.2,902.9 861.9,923.7 864.6,894.8 867.3,924 870,895.9 872.7,923.8 875.4,899.9 878.1,918.6 880.8,907.3 883.5,911.5 886.2,910.3 888.9,911.5 891.6,910.2 894.3,911.5 897,910.2 899.7,911.5 902.4,910.3 905.1,914.1 907.8,900.1 910.5,925.2 913.2,895.1 915.9,920.7 918.6,905.7 921.3,911.5 924,910.2 926.7,911.6 929.4,910.1 932.1,911.5 934.8,910.2 937.5,913.8 940.2,906.2 942.9,914.4 945.6,908.4 948.3,911.9 951,910 953.7,912.8 956.4,908.5 959.1,914.4 961.8,906.8 964.5,917 967.2,904.7 969.9,916.6 972.6,907.9 975.3,911.6 978,910.2 980.7,911.5 983.4,910.3 986.1,912.7 988.8,906.9 991.5,917.6 994.2,904.8 996.9,913.8 999.6,910.1 1002.3,911.6 1005,910.1 1007.7,911.5 1010.4,910.1 1013.1,911.6 1015.8,910.2 1018.5,911.8 1021.2,909.8 1023.9,914.1 1026.6,903.4 1029.3,923 1032,894 1034.7,932.1 1037.4,888.7 1040.1,933.7 1042.8,885.3 1045.5,940.5 1048.2,889.2 1050.9,926.7 1053.6,898.3 1056.3,922.7 1059,897.9 1061.7,923.9 1064.4,899.7 1067.1,915.4 1069.8,910.3 1072.5,911.6 1075.2,910.2 1077.9,911.6 1080.6,910.3 1083.3,911.6 1086,910.3 1088.7,911.5 1091.4,910.3 1094.1,912.1 1096.8,903.2 1099.5,922.9 1102.2,894.7 1104.9,930.3 1107.6,889.8 1110.3,930.0"/>
<path stroke="#66a5de" d="M114,911.3 115.6,912.4 117.2,912.4 118.8,910.9 120.4,908.8 122,907.9 123.6,909.7 125.2,913.5 126.8,916 128.4,914.1 130,908.4 131.6,903.9 133.2,905.7 134.8,912.9 136.4,918.6 138,916.7 139.6,908.9 141.2,903.4 142.8,906.1 144.4,913.7 146,917.6 147.6,913.8 149.2,907.1 150.8,905.5 152.4,910.4 154,915.4 155.6,914.4 157.2,909.2 158.8,906.6 160.4,909.8 162,914 163.6,913.8 165.2,909.8 166.8,907.7 168.4,909.9 170,913.1 171.6,913.1 173.2,910.3 174.8,908.6 176.4,910 178,912.4 179.6,912.8 181.2,910.9 182.8,908.9 184.4,909.3 186,911.8 187.6,913.5 189.2,912.3 190.8,909.1 192.4,907.5 194,909.7 195.6,913.7 197.2,915 198.8,911.9 200.4,907.8 202,906.9 203.6,910.1 205.2,914.1 206.8,914.9 208.4,911.6 210,907.6 211.6,907 213.2,910.6 214.8,913.7 216.4,913.4 218,910.7 219.6,909 221.2,909.7 222.8,911.4 224.4,912.1 226,911.4 227.6,910.3 229.2,910.2 230.8,910.9 232.4,911.5 234,911.3 235.6,910.6 237.2,910.3 238.8,910.8 240.4,911.5 242,911.5 243.6,910.6 245.2,910 246.8,910.6 248.4,911.8 250,912 251.6,910.6 253.2,909.3 254.8,910 256.4,912 258,912.9 259.6,911.4 261.2,909.1 262.8,908.8 264.4,910.8 266,912.9 267.6,913 269.2,911 270.8,909 272.4,908.9 274,910.6 275.6,912.3 277.2,912.7 278.8,911.6 280.4,910.1 282,909.3 283.6,909.8 285.2,911.1 286.8,912 288.4,912.1 290,911.3 291.6,910.3 293.2,909.7 294.8,910 296.4,911 298,911.9 299.6,912.1 301.2,911.4 302.8,910.4 304.4,909.7 306,909.9 307.6,910.9 309.2,912 310.8,912.3 312.4,911.5 314,910.2 315.6,909.3 317.2,909.6 318.8,911 320.4,912.6 322,913 323.6,911.8 325.2,909.7 326.8,908.2 328.4,908.7 330,911 331.6,913.6 333.2,914.5 334.8,912.7 336.4,909.3 338,906.8 339.6,907.2 341.2,910.2 342.8,913.8 344.4,915.2 346,913.7 347.6,910.4 349.2,907.7 350.8,907.5 352.4,909.5 354,912.2 355.6,913.7 357.2,913.1 358.8,911.1 360.4,909.1 362,908.6 363.6,909.8 365.2,911.7 366.8,912.9 368.4,912.6 370,910.9 371.6,909.2 373.2,908.9 374.8,910.3 376.4,912.4 378,913.4 379.6,912.2 381.2,909.6 382.8,907.8 384.4,908.8 386,912.1 387.6,914.9 389.2,914.2 390.8,909.8 392.4,905.8 394,906.6 395.6,911.8 397.2,916.5 398.8,915.7 400.4,910.1 402,905.3 403.6,906.1 405.2,911.7 406.8,916.4 408.4,915.5 410,910 411.6,905 413.2,905.9 414.8,912.3 416.4,917.9 418,916.4 419.6,908.6 421.2,902.5 422.8,905 424.4,914.2 426,920.3 427.6,916.6 429.2,906.9 430.8,902 432.4,906.4 434,914.8 435.6,923.7 437.2,919.8 438.8,902.3 440.4,893 442,902.6 443.6,918 445.2,921.3 446.8,914.5 448.4,909.6 450,907.5 451.6,908.5 453.2,911.3 454.8,913.6 456.4,913.7 458,911.5 459.6,908.8 461.2,907.4 462.8,908.5 464.4,911.7 466,915 467.6,916.1 469.2,913.7 470.8,908.5 472.4,902.7 474,900.5 475.6,905.4 477.2,914.3 478.8,921.7 480.4,923.6 482,919 483.6,910 485.2,901.2 486.8,896.8 488.4,899.1 490,907.3 491.6,917.4 493.2,924.3 494.8,924.8 496.4,918.6 498,908.8 499.6,901.2 501.2,899.7 502.8,903.7 504.4,910.2 506,915.7 507.6,917.8 509.2,916 510.8,911.8 512.4,907.7 514,905.9 515.6,907.2 517.2,910.7 518.8,914.1 520.4,915.2 522,913.3 523.6,909.6 525.2,906.7 526.8,907 528.4,910.5 530,914.6 531.6,915.9 533.2,912.8 534.8,905 536.4,893 538,897.7 539.6,923.1 541.2,937.2 542.8,923.7 544.4,906.4 546,903.8 547.6,905.8 549.2,912.6 550.8,917.5 552.4,916 554,909.9 555.6,905.3 557.2,906.2 558.8,911.2 560.4,915.4 562,915.3 563.6,911 565.2,906.7 566.8,906.4 568.4,910.5 570,915.2 571.6,915.8 573.2,911.4 574.8,906.1 576.4,905.4 578,910.7 579.6,916.8 581.2,916.7 582.8,910 584.4,903.8 586,905.8 587.6,914 589.2,918.8 590.8,913.9 592.4,905.1 594,903.6 595.6,911.6 597.2,918.7 598.8,915.5 600.4,906.2 602,903.3 603.6,910.6 605.2,918.2 606.8,915.8 608.4,907.1 610,903.8 611.6,909.8 613.2,916.8 614.8,916 616.4,909 618,904.9 619.6,908.1 621.2,914.3 622.8,916.3 624.4,912.2 626,906.8 627.6,905.8 629.2,910.2 630.8,915.4 632.4,916.3 634,911.8 635.6,906.1 637.2,904.6 638.8,909 640.4,915.6 642,918.8 643.6,915 645.2,906.8 646.8,901.3 648.4,903.9 650,912.9 651.6,920.9 653.2,920.5 654.8,911.9 656.4,902.1 658,899.8 659.6,907 661.2,917.4 662.8,922 664.4,916.9 666,906.9 667.6,900.7 669.2,903.5 670.8,912.8 672.4,922.4 674,927 675.6,911 677.2,886.4 678.8,883.7 680.4,906.1 682,924.6 683.6,923.2 685.2,915 686.8,905.1 688.4,900.3 690,904.8 691.6,913.9 693.2,919.7 694.8,918 696.4,911.1 698,905.1 699.6,904.2 701.2,908.2 702.8,913.2 704.4,915.7 706,914.7 707.6,911.4 709.2,908.4 710.8,907.4 712.4,908.6 714,910.9 715.6,912.9 717.2,913.5 718.8,912.6 720.4,911 722,909.5 723.6,908.8 725.2,909.2 726.8,910.4 728.4,911.8 730,912.9 731.6,913.1 733.2,912.3 734.8,910.8 736.4,909.2 738,908.3 739.6,908.4 741.2,909.7 742.8,911.6 744.4,913.6 746,914.5 747.6,914 749.2,912.1 750.8,909.4 752.4,907.1 754,906.2 755.6,907.3 757.2,910.2 758.8,913.5 760.4,915.8 762,915.9 763.6,913.7 765.2,910.2 766.8,906.9 768.4,905.3 770,906.5 771.6,909.9 773.2,914 774.8,916.6 776.4,916.5 778,913.3 779.6,908.3 781.2,904.4 782.8,904 784.4,907.7 786,913.4 787.6,917.6 789.2,917.7 790.8,913.7 792.4,908.3 794,905.2 795.6,905.9 797.2,909.5 798.8,913.3 800.4,915 802,913.8 803.6,911.1 805.2,908.8 806.8,908.3 808.4,909.5 810,911.4 811.6,912.7 813.2,912.6 814.8,911.3 816.4,909.9 818,909.3 819.6,909.9 821.2,911.2 822.8,912.3 824.4,912.4 826,911.3 827.6,909.8 829.2,909 830.8,909.6 832.4,911.5 834,913.1 835.6,913.2 837.2,911.4 838.8,908.9 840.4,907.8 842,909 843.6,911.6 845.2,913.7 846.8,913.8 848.4,911.9 850,909.7 851.6,908.5 853.2,908.8 854.8,910.2 856.4,911.8 858,912.7 859.6,912.6 861.2,911.8 862.8,910.6 864.4,909.7 866,909.3 867.6,909.5 869.2,910.2 870.8,911.1 872.4,911.9 874,912.4 875.6,912.5 877.2,912.1 878.8,911.3 880.4,910.3 882,909.5 883.6,909.1 885.2,909.2 886.8,909.8 888.4,910.8 890,911.9 891.6,912.7 893.2,913.1 894.8,912.8 896.4,911.9 898,910.6 899.6,909.3 901.2,908.3 902.8,908 904.4,908.7 906,910.2 907.6,912.3 909.2,914.1 910.8,914.9 912.4,913.9 914,911.4 915.6,908.4 917.2,906.3 918.8,906.5 920.4,909.2 922,913.1 923.6,916.1 925.2,916.1 926.8,912.8 928.4,907.9 930,904.2 931.6,904.6 933.2,909.5 934.8,916.6 936.4,921.4 938,919.6 939.6,910.8 941.2,900.9 942.8,897.4 944.4,902.2 946,911.9 947.6,920.6 949.2,923.7 950.8,919.8 952.4,911.4 954,903.2 955.6,899 957.2,900.5 958.8,906.6 960.4,914.2 962,920.5 963.6,922.9 965.2,920.6 966.8,914.5 968.4,906.9 970,900.6 971.6,898 973.2,899.9 974.8,905.9 976.4,913.3 978,917.1 979.6,917.2 981.2,915.2 982.8,912.6 984.4,910.5 986,909.3 987.6,909.2 989.2,909.7 990.8,910.5 992.4,911.2 994,911.6 995.6,911.7 997.2,911.4 998.8,910.8 1000.4,910.2 1002,910.1 1003.6,910.5 1005.2,911.1 1006.8,911.7 1008.4,911.6 1010,911.1 1011.6,910.3 1013.2,910.1 1014.8,910.5 1016.4,911.3 1018,911.7 1019.6,911.4 1021.2,910.6 1022.8,910.1 1024.4,910.3 1026,911.2 1027.6,911.7 1029.2,911.5 1030.8,910.6 1032.4,909.9 1034,910.3 1035.6,911.7 1037.2,912.7 1038.8,911.6 1040.4,908.9 1042,907.5 1043.6,910.6 1045.2,916.2 1046.8,916.7 1048.4,908.3 1050,899.4 1051.6,904 1053.2,920.7 1054.8,925.6 1056.4,911.9 1058,897.2 1059.6,900.3 1061.2,917 1062.8,925.4 1064.4,914.7 1066,899.2 1067.6,899.5 1069.2,914.9 1070.8,924.6 1072.4,915.8 1074,900.5 1075.6,899.5 1077.2,913.8 1078.8,923.9 1080.4,916.5 1082,901.7 1083.6,899.4 1085.2,912.2 1086.8,923.1 1088.4,917.9 1090,903.9 1091.6,898.6 1093.2,909.1 1094.8,922.5 1096.4,920.6 1098,908.2 1099.6,900.6 1101.2,905.4 1102.8,915.8 1104.4,919.5 1106,913.7 1107.6,905.8 1109.2,904.1 1110.8,909.4"/>
<path stroke="#74b347" d="M114,915.3 116.2,917.3 118.4,917.5 120.6,915.5 122.8,912 125,907.8 127.2,904.3 129.4,902.5 131.6,903.1 133.8,905.8 136,909.7 138.2,913.8 140.4,916.9 142.6,918.3 144.8,917.9 147,915.9 149.2,913.1 151.4,910.2 153.6,907.8 155.8,906.3 158,905.9 160.2,906.6 162.4,907.9 164.6,909.6 166.8,911.2 169,912.5 171.2,913.3 173.4,913.6 175.6,913.4 177.8,912.8 180,912.1 182.2,911.5 184.4,910.7 186.6,910 188.8,909.4 191,909 193.2,908.8 195.4,908.8 197.6,909 199.8,909.6 202,910.3 204.2,911.1 206.4,912 208.6,912.9 210.8,913.6 213,914 215.2,914 217.4,913.7 219.6,913 221.8,911.9 224,910.7 226.2,909.3 228.4,908.1 230.6,907.2 232.8,906.7 235,906.8 237.2,907.3 239.4,908.3 241.6,909.6 243.8,911 246,912.4 248.2,913.7 250.4,914.6 252.6,915.1 254.8,915.1 257,914.5 259.2,913.6 261.4,912.3 263.6,910.9 265.8,909.6 268,908.5 270.2,907.8 272.4,907.5 274.6,907.5 276.8,908 279,908.8 281.2,909.8 283.4,910.9 285.6,911.9 287.8,912.8 290,913.4 292.2,913.9 294.4,913.8 296.6,913.2 298.8,911.9 301,910.2 303.2,908.4 305.4,907 307.6,906.3 309.8,906.8 312,908.6 314.2,911.4 316.4,914.5 318.6,916.8 320.8,917.3 323,915.5 325.2,912 327.4,908 329.6,904.9 331.8,903.9 334,905.7 336.2,909.8 338.4,914.7 340.6,918.2 342.8,918.8 345,915.7 347.2,910.1 349.4,904.4 351.6,901.5 353.8,903.1 356,908.7 358.2,915.9 360.4,921 362.6,921.2 364.8,916 367,908 369.2,901.4 371.4,900 373.6,904.2 375.8,911.4 378,917.8 380.2,920.3 382.4,917.9 384.6,912.4 386.8,906.4 389,902.4 391.2,902.7 393.4,907 395.6,913.5 397.8,919 400,920.7 402.2,917.8 404.4,911.5 406.6,904.7 408.8,900.5 411,900.7 413.2,905.5 415.4,913.1 417.6,920.3 419.8,923.9 422,922.3 424.2,916 426.4,907.3 428.6,899.7 430.8,896.6 433,898.7 435.2,905 437.4,913 439.6,920.1 441.8,924 444,923.6 446.2,919.3 448.4,912.6 450.6,905.5 452.8,900.5 455,898.8 457.2,900.5 459.4,904.8 461.6,910.3 463.8,915.4 466,919 468.2,920.2 470.4,919.3 472.6,916.9 474.8,912.8 477,908 479.2,903.6 481.4,900.6 483.6,899.9 485.8,901.6 488,905.5 490.2,910.7 492.4,915.9 494.6,919.8 496.8,921.7 499,921.2 501.2,918.6 503.4,914.6 505.6,910.2 507.8,906.2 510,903.5 512.2,902.6 514.4,903.5 516.6,905.8 518.8,909 521,912.2 523.2,914.9 525.4,916.6 527.6,921.5 529.8,924.9 532,922 534.2,911.9 536.4,900.2 538.6,894.2 540.8,896.2 543,902.4 545.2,907.9 547.4,910.5 549.6,912.1 551.8,913.1 554,913.4 556.2,913 558.4,912.1 560.6,911 562.8,909.9 565,909.2 567.2,909 569.4,909.4 571.6,910.3 573.8,911.4 576,912.3 578.2,912.7 580.4,912.6 582.6,911.8 584.8,910.7 587,909.7 589.2,909.1 591.4,909.2 593.6,909.9 595.8,911 598,912.1 600.2,912.8 602.4,912.7 604.6,911.9 606.8,910.6 609,909.4 611.2,908.7 613.4,909 615.6,910.1 617.8,911.6 620,912.9 622.2,913.4 624.4,912.8 626.6,911.3 628.8,909.5 631,908.2 633.2,908.1 635.4,909.3 637.6,911.4 639.8,913.5 642,914.7 644.2,914.2 646.4,911.8 648.6,908.4 650.8,905.6 653,905.1 655.2,907.5 657.4,912.3 659.6,917.4 661.8,919.7 664,917.7 666.2,911.8 668.4,904.6 670.6,899.8 672.8,900.3 675,906.6 677.2,915.9 679.4,923.4 681.6,925 683.8,919.1 686,908.3 688.2,898.5 690.4,895.7 692.6,900.8 694.8,910.5 697,919.5 699.2,923.4 701.4,920.6 703.6,913.1 705.8,905.2 708,900.4 710.2,901.2 712.4,907.3 714.6,915.1 716.8,920.4 719,920.3 721.2,915.3 723.4,908.2 725.6,903 727.8,902.4 730,906.4 732.2,912.5 734.4,917.2 736.6,918.3 738.8,915.3 741,910.1 743.2,905.6 745.4,904.1 747.6,906.4 749.8,911.1 752,915.7 754.2,917.6 756.4,915.6 758.6,911.1 760.8,907 763,905.5 765.2,907.1 767.4,910.5 769.6,913.6 771.8,914.8 774,913.8 776.2,911.4 778.4,908.9 780.6,907.5 782.8,908 785,910.2 787.2,912.8 789.4,914.3 791.6,913.9 793.8,911.8 796,909.2 798.2,907.5 800.4,907.8 802.6,909.7 804.8,912.4 807,914.1 809.2,914.1 811.4,912.2 813.6,909.7 815.8,907.9 818,907.8 820.2,909.4 822.4,911.9 824.6,913.6 826.8,913.8 829,912.4 831.2,910.2 833.4,908.3 835.6,907.9 837.8,909.2 840,911.5 842.2,913.5 844.4,914.1 846.6,912.8 848.8,910.5 851,908.4 853.2,907.8 855.4,909 857.6,911.2 859.8,913.2 862,913.9 864.2,912.9 866.4,910.8 868.6,908.8 870.8,908 873,908.8 875.2,910.8 877.4,912.9 879.6,913.8 881.8,913.1 884,911.2 886.2,909.1 888.4,907.9 890.6,908.4 892.8,910.2 895,912.4 897.2,913.9 899.4,913.8 901.6,912.2 903.8,909.8 906,907.9 908.2,907.5 910.4,908.8 912.6,911.2 914.8,913.5 917,914.7 919.2,914.1 921.4,911.9 923.6,909.1 925.8,907 928,906.5 930.2,908 932.4,910.8 934.6,913.9 936.8,915.9 939,915.9 941.2,913.9 943.4,910.6 945.6,907.4 947.8,905.3 950,905.3 952.2,907.2 954.4,910.5 956.6,913.9 958.8,916.4 961,917.4 963.2,916.4 965.4,913.6 967.6,909.8 969.8,905.9 972,903.2 974.2,902.4 976.4,903.8 978.6,907.2 980.8,911.7 983,916.3 985.2,919.8 987.4,921.4 989.6,920.7 991.8,918 994,913.7 996.2,908.9 998.4,904.3 1000.6,900.9 1002.8,899.3 1005,899.7 1007.2,901.9 1009.4,905.7 1011.6,910.3 1013.8,914.9 1016,918.9 1018.2,921.7 1020.4,922.9 1022.6,922.4 1024.8,920.3 1027,917 1029.2,913 1031.4,908.8 1033.6,904.9 1035.8,902 1038,900.2 1040.2,899.9 1042.4,900.9 1044.6,903.2 1046.8,906.3 1049,909.9 1051.2,913.2 1053.4,916 1055.6,918 1057.8,918.9 1060,918.7 1062.2,917.5 1064.4,915.5 1066.6,913.1 1068.8,910.6 1071,908.4 1073.2,906.8 1075.4,905.9 1077.6,905.8 1079.8,906.6 1082,907.9 1084.2,909.5 1086.4,911.3 1088.6,912.8 1090.8,913.8 1093,914.4 1095.2,916 1097.4,917.2 1099.6,914.9 1101.8,910.5 1104,907.8 1106.2,908 1108.4,908.3 1110.6,908.8"/>
<path stroke="#25447b" d="M114,911.1 117,910.6 120,910.1 123,909.7 126,909.4 129,909.3 132,909.3 135,909.5 138,909.7 141,910.1 144,910.5 147,910.8 150,911.2 153,911.5 156,911.7 159,911.8 162,911.9 165,911.8 168,911.7 171,911.5 174,911.2 177,911 180,910.8 183,910.7 186,910.5 189,910.4 192,910.3 195,910.3 198,910.4 201,910.5 204,910.6 207,910.8 210,911 213,911.2 216,911.4 219,911.5 222,911.6 225,911.6 228,911.4 231,911.3 234,911 237,910.7 240,910.5 243,910.3 246,910.1 249,910.1 252,910.2 255,910.3 258,910.6 261,910.9 264,911.3 267,911.6 270,911.8 273,911.8 276,911.8 279,911.5 282,911.2 285,910.8 288,910.4 291,910.1 294,909.7 297,909.5 300,909.6 303,909.9 306,910.6 309,911.5 312,912.5 315,913.4 318,914 321,913.9 324,913.1 327,911.9 330,910.5 333,909.2 336,908.2 339,907.7 342,907.8 345,908.5 348,909.7 351,911 354,912.3 357,913.2 360,913.7 363,913.6 366,913.1 369,912.1 372,911 375,910.1 378,909.4 381,909 384,909.1 387,909.3 390,909.8 393,910.5 396,911.3 399,912.1 402,912.7 405,913 408,912.9 411,912.5 414,911.9 417,910.9 420,909.9 423,908.8 426,908 429,907.6 432,907.9 435,908.6 438,909.6 441,910.8 444,911.9 447,912.9 450,913.6 453,913.8 456,913.6 459,913.1 462,912.4 465,911.6 468,910.8 471,910.2 474,909.5 477,909 480,908.6 483,908.5 486,908.6 489,908.9 492,909.5 495,910.2 498,911 501,911.7 504,912.3 507,912.8 510,913.1 513,913.2 516,913.2 519,913 522,912.7 525,912.4 528,911.9 531,911.4 534,910.8 537,910.3 540,909.8 543,909.4 546,909.1 549,909 552,908.9 555,909 558,909.2 561,909.4 564,909.6 567,909.8 570,910.2 573,910.6 576,911 579,911.5 582,911.9 585,912.3 588,912.7 591,913 594,913.1 597,913.2 600,913.1 603,913 606,912.7 609,912.3 612,911.8 615,911.3 618,910.7 621,910.1 624,909.6 627,909.1 630,908.8 633,908.5 636,908.4 639,908.3 642,908.3 645,908.4 648,908.6 651,909.1 654,909.7 657,910.4 660,911.2 663,912.1 666,913 669,913.7 672,914.4 675,914.8 678,915.1 681,915.2 684,915 687,914.6 690,913.9 693,913 696,912.1 699,911.3 702,910.6 705,910 708,909.4 711,909 714,908.6 717,908.4 720,908.2 723,908.3 726,908.4 729,908.7 732,909.1 735,909.6 738,910.1 741,910.6 744,911.2 747,911.8 750,912.4 753,912.9 756,913.4 759,913.6 762,913.5 765,913.3 768,913 771,912.6 774,912.2 777,911.8 780,911.3 783,910.9 786,910.4 789,910 792,909.6 795,909.4 798,909.2 801,909.1 804,909.2 807,909.4 810,909.8 813,910.3 816,910.8 819,911.4 822,911.9 825,912.3 828,912.7 831,912.9 834,912.9 837,912.7 840,912.3 843,911.6 846,910.7 849,909.8 852,909 855,908.5 858,908.2 861,908.3 864,908.7 867,909.4 870,910.4 873,911.4 876,912.4 879,913.2 882,913.7 885,913.8 888,913.4 891,912.7 894,911.6 897,910.3 900,909.1 903,908.1 906,907.6 909,907.6 912,908.1 915,909.2 918,910.6 921,912.1 924,913.5 927,914.4 930,914.8 933,914.4 936,913.5 939,912 942,910.3 945,908.8 948,907.8 951,907.3 954,907.5 957,908.3 960,909.5 963,910.9 966,912.4 969,913.7 972,914.6 975,914.8 978,914.2 981,913.1 984,911.5 987,909.7 990,908.2 993,907.1 996,906.8 999,907.1 1002,908.2 1005,909.7 1008,911.4 1011,913 1014,914.2 1017,914.9 1020,914.8 1023,914.1 1026,912.8 1029,911.3 1032,909.7 1035,908.3 1038,907.4 1041,907.1 1044,907.4 1047,908.3 1050,909.6 1053,911 1056,912.3 1059,913.3 1062,913.9 1065,913.9 1068,913.5 1071,912.7 1074,911.7 1077,910.7 1080,909.7 1083,908.9 1086,908.5 1089,908.4 1092,908.6 1095,909.2 1098,910 1101,911.1 1104,912.2 1107,912.9 1110,913.2"/>
<path stroke="#a34d14" d="M114,913.9 118,913.9 122,913.7 126,913.3 130,912.9 134,912.4 138,911.8 142,911.1 146,910.5 150,909.8 154,909.2 158,908.7 162,908.2 166,907.9 170,907.7 174,907.6 178,907.8 182,908.1 186,908.7 190,909.4 194,910.2 198,911.1 202,911.9 206,912.6 210,913.1 214,913.4 218,913.4 222,913.4 226,913.2 230,912.9 234,912.6 238,912.2 242,911.7 246,911.2 250,910.7 254,910.2 258,909.8 262,909.4 266,909.1 270,908.9 274,908.8 278,908.8 282,908.9 286,909.1 290,909.5 294,909.9 298,910.4 302,911 306,911.6 310,912.2 314,912.7 318,913.2 322,913.6 326,913.9 330,914.1 334,914.2 338,914.1 342,913.9 346,913.4 350,912.9 354,912.2 358,911.5 362,910.7 366,910 370,909.4 374,908.9 378,908.5 382,908.4 386,908.4 390,908.6 394,909 398,909.5 402,910.2 406,910.9 410,911.6 414,912.2 418,912.8 422,913.2 426,913.4 430,913.4 434,913.2 438,912.9 442,912.4 446,911.8 450,911.1 454,910.4 458,909.8 462,909.2 466,908.7 470,908.3 474,908.1 478,908.1 482,908.2 486,908.5 490,909.1 494,909.7 498,910.4 502,911.2 506,912 510,912.7 514,913.4 518,913.9 522,914.3 526,914.5 530,914.5 534,914.3 538,914 542,913.6 546,913 550,912.4 554,911.7 558,910.9 562,910.2 566,909.6 570,909 574,908.5 578,908.1 582,907.9 586,907.9 590,907.9 594,908.1 598,908.4 602,908.8 606,909.2 610,909.7 614,910.3 618,910.8 622,911.3 626,911.9 630,912.3 634,912.7 638,913 642,913.2 646,913.3 650,913.3 654,913 658,912.5 662,911.9 666,911.1 670,910.3 674,909.5 678,908.8 682,908.3 686,908 690,907.9 694,908.1 698,908.5 702,909.2 706,910 710,910.8 714,911.6 718,912.3 722,912.8 726,913 730,913 734,912.9 738,912.6 742,912.1 746,911.6 750,911 754,910.4 758,909.8 762,909.2 766,908.8 770,908.4 774,908.2 778,908.1 782,908.2 786,908.3 790,908.6 794,909 798,909.5 802,910.1 806,910.7 810,911.3 814,911.9 818,912.4 822,912.9 826,913.3 830,913.7 834,913.9 838,913.9 842,913.9 846,913.6 850,913.2 854,912.7 858,912 862,911.3 866,910.6 870,909.9 874,909.2 878,908.7 882,908.3 886,908.1 890,908.1 894,908.2 898,908.6 902,909.1 906,909.7 910,910.4 914,911.1 918,911.8 922,912.3 926,912.7 930,913 934,913 938,912.8 942,912.4 946,911.8 950,911.1 954,910.3 958,909.6 962,908.9 966,908.3 970,907.9 974,907.8 978,907.8 982,908.2 986,908.7 990,909.4 994,910.2 998,911.1 1002,911.9 1006,912.6 1010,913.1 1014,913.5 1018,913.6 1022,913.3 1026,912.8 1030,912 1034,911.1 1038,910.1 1042,909.1 1046,908.4 1050,907.8 1054,907.6 1058,907.6 1062,908 1066,908.5 1070,909.3 1074,910.1 1078,911 1082,911.8 1086,912.5 1090,913.1 1094,913.4 1098,913.3 1102,912.2 1106,910.5 1110,909.3"/>
<path stroke="#696969" d="M114,909.9 118,909.9 122,909.9 126,909.9 130,909.9 134,910 138,910 142,910 146,910 150,910.1 154,910.1 158,910.2 162,910.2 166,910.3 170,910.3 174,910.4 178,910.4 182,910.5 186,910.6 190,910.6 194,910.7 198,910.8 202,910.8 206,910.9 210,911 214,911 218,911.1 222,911.2 226,911.2 230,911.3 234,911.3 238,911.4 242,911.5 246,911.5 250,911.6 254,911.6 258,911.7 262,911.7 266,911.7 270,911.8 274,911.8 278,911.8 282,911.9 286,911.9 290,911.9 294,911.9 298,911.9 302,911.9 306,911.9 310,911.9 314,911.9 318,911.9 322,911.8 326,911.8 330,911.8 334,911.8 338,911.7 342,911.7 346,911.7 350,911.6 354,911.6 358,911.5 362,911.5 366,911.4 370,911.4 374,911.3 378,911.2 382,911.2 386,911.1 390,911.1 394,911 398,910.9 402,910.9 406,910.8 410,910.7 414,910.7 418,910.6 422,910.6 426,910.5 430,910.4 434,910.4 438,910.3 442,910.3 446,910.2 450,910.2 454,910.1 458,910.1 462,910.1 466,910 470,910 474,910 478,910 482,909.9 486,909.9 490,909.9 494,909.9 498,909.9 502,909.9 506,909.9 510,909.9 514,909.9 518,910 522,910 526,910 530,910.1 534,910.1 538,910.2 542,910.2 546,910.3 550,910.3 554,910.4 558,910.5 562,910.6 566,910.6 570,910.7 574,910.8 578,910.9 582,911 586,911.1 590,911.2 594,911.3 598,911.4 602,911.4 606,911.5 610,911.6 614,911.7 618,911.8 622,911.9 626,912 630,912.1 634,912.2 638,912.2 642,912.3 646,912.4 650,912.5 654,912.5 658,912.6 662,912.6 666,912.7 670,912.7 674,912.8 678,912.8 682,912.8 686,912.9 690,912.9 694,912.9 698,912.9 702,912.9 706,912.9 710,912.9 714,912.9 718,912.8 722,912.8 726,912.8 730,912.7 734,912.7 738,912.6 742,912.6 746,912.5 750,912.5 754,912.4 758,912.3 762,912.2 766,912.2 770,912.1 774,912 778,911.9 782,911.8 786,911.7 790,911.6 794,911.5 798,911.4 802,911.4 806,911.3 810,911.2 814,911.1 818,911 822,910.9 826,910.8 830,910.7 834,910.6 838,910.6 842,910.5 846,910.4 850,910.3 854,910.3 858,910.2 862,910.2 866,910.1 870,910.1 874,910 878,910 882,910 886,909.9 890,909.9 894,909.9 898,909.9 902,909.9 906,909.9 910,909.9 914,909.9 918,909.9 922,910 926,910 930,910 934,910 938,910.1 942,910.1 946,910.1 950,910.2 954,910.2 958,910.2 962,910.3 966,910.3 970,910.4 974,910.4 978,910.5 982,910.5 986,910.6 990,910.7 994,910.7 998,910.8 1002,910.8 1006,910.9 1010,911 1014,911 1018,911.1 1022,911.1 1026,911.2 1030,911.2 1034,911.3 1038,911.3 1042,911.4 1046,911.5 1050,911.5 1054,911.5 1058,911.6 1062,911.6 1066,911.7 1070,911.7 1074,911.7 1078,911.8 1082,911.8 1086,911.8 1090,911.8 1094,911.9 1098,911.9 1102,911.9 1106,911.9 1110,911.9"/>
<path stroke="#9c7a18" stroke-width="7.0" d="M114,911.4 118,911.4 122,911.4 126,911.4 130,911.4 134,911.4 138,911.4 142,911.4 146,911.4 150,911.4 154,911.4 158,911.4 162,911.4 166,911.4 170,911.4 174,911.4 178,911.4 182,911.4 186,911.4 190,911.4 194,911.3 198,911.3 202,911.3 206,911.3 210,911.3 214,911.3 218,911.3 222,911.3 226,911.3 230,911.3 234,911.3 238,911.3 242,911.3 246,911.3 250,911.3 254,911.3 258,911.2 262,911.2 266,911.2 270,911.2 274,911.2 278,911.2 282,911.2 286,911.2 290,911.2 294,911.2 298,911.2 302,911.2 306,911.2 310,911.1 314,911.1 318,911.1 322,911.1 326,911.1 330,911.1 334,911.1 338,911.1 342,911.1 346,911.1 350,911.1 354,911.1 358,911 362,911 366,911 370,911 374,911 378,911 382,911 386,911 390,911 394,911 398,911 402,911 406,911 410,911 414,911 418,911 422,910.9 426,910.9 430,910.9 434,910.9 438,910.9 442,910.9 446,910.9 450,910.9 454,910.9 458,910.9 462,910.9 466,910.9 470,910.9 474,910.9 478,910.9 482,910.9 486,910.9 490,910.9 494,910.9 498,910.9 502,910.9 506,910.9 510,910.9 514,910.9 518,910.9 522,910.9 526,910.9 530,910.9 534,910.9 538,910.9 542,910.9 546,910.9 550,910.9 554,910.9 558,910.9 562,910.9 566,910.9 570,910.9 574,910.9 578,910.9 582,910.9 586,910.9 590,910.9 594,910.9 598,910.9 602,910.9 606,910.9 610,910.9 614,910.9 618,910.9 622,910.9 626,911 630,911 634,911 638,911 642,911 646,911 650,911 654,911 658,911 662,911 666,911 670,911 674,911 678,911 682,911 686,911 690,911 694,911 698,911 702,911 706,911 710,911 714,911 718,911 722,911 726,911 730,911.1 734,911.1 738,911.1 742,911.1 746,911.1 750,911.1 754,911.1 758,911.1 762,911.1 766,911.1 770,911.1 774,911.1 778,911.1 782,911.1 786,911.1 790,911.1 794,911.1 798,911.1 802,911.1 806,911.1 810,911.2 814,911.2 818,911.2 822,911.2 826,911.2 830,911.2 834,911.2 838,911.2 842,911.2 846,911.2 850,911.2 854,911.2 858,911.2 862,911.2 866,911.2 870,911.2 874,911.2 878,911.2 882,911.2 886,911.2 890,911.3 894,911.3 898,911.3 902,911.3 906,911.3 910,911.3 914,911.3 918,911.3 922,911.3 926,911.3 930,911.3 934,911.3 938,911.3 942,911.3 946,911.3 950,911.3 954,911.3 958,911.3 962,911.3 966,911.3 970,911.3 974,911.3 978,911.3 982,911.3 986,911.3 990,911.4 994,911.4 998,911.4 1002,911.4 1006,911.4 1010,911.4 1014,911.4 1018,911.4 1022,911.4 1026,911.4 1030,911.4 1034,911.4 1038,911.4 1042,911.4 1046,911.4 1050,911.4 1054,911.4 1058,911.4 1062,911.4 1066,911.4 1070,911.4 1074,911.4 1078,911.4 1082,911.4 1086,911.4 1090,911.4 1094,911.4 1098,911.4 1102,911.4 1106,911.4 1110,911.4"/>
</g>
<g stroke-width="4.6" stroke-linecap="round">
<line x1="68.5" y1="1218.7" x2="112.4" y2="1218.7" stroke="#4472c4"/>
<line x1="179.5" y1="1218.7" x2="223.0" y2="1218.7" stroke="#ea7d33"/>
<line x1="280.9" y1="1218.7" x2="324.4" y2="1218.7" stroke="#a8a8a8"/>
<line x1="382.4" y1="1218.7" x2="425.9" y2="1218.7" stroke="#f2c12e"/>
<line x1="483.8" y1="1218.7" x2="527.3" y2="1218.7" stroke="#66a5de"/>
<line x1="585.2" y1="1218.7" x2="628.7" y2="1218.7" stroke="#74b347"/>
<line x1="686.7" y1="1218.7" x2="730.2" y2="1218.7" stroke="#25447b"/>
<line x1="788.1" y1="1218.7" x2="831.6" y2="1218.7" stroke="#a34d14"/>
<line x1="889.5" y1="1218.7" x2="933.0" y2="1218.7" stroke="#696969"/>
<line x1="990.9" y1="1218.7" x2="1033.9" y2="1218.7" stroke="#9c7a18"/>
</g>
<text x="117.9" y="1225.2" font-size="18" text-anchor="start" textLength="54.4" lengthAdjust="spacingAndGlyphs">Return</text>
<text x="229.0" y="1225.2" font-size="18" text-anchor="start" textLength="44.0" lengthAdjust="spacingAndGlyphs">IMF 2</text>
<text x="330.4" y="1225.2" font-size="18" text-anchor="start" textLength="44.0" lengthAdjust="spacingAndGlyphs">IMF 3</text>
<text x="431.9" y="1225.2" font-size="18" text-anchor="start" textLength="44.0" lengthAdjust="spacingAndGlyphs">IMF 4</text>
<text x="533.3" y="1225.2" font-size="18" text-anchor="start" textLength="44.0" lengthAdjust="spacingAndGlyphs">IMF 5</text>
<text x="634.7" y="1225.2" font-size="18" text-anchor="start" textLength="44.0" lengthAdjust="spacingAndGlyphs">IMF 6</text>
<text x="736.2" y="1225.2" font-size="18" text-anchor="start" textLength="44.0" lengthAdjust="spacingAndGlyphs">IMF 7</text>
<text x="837.6" y="1225.2" font-size="18" text-anchor="start" textLength="44.0" lengthAdjust="spacingAndGlyphs">IMF 8</text>
<text x="939.0" y="1225.2" font-size="18" text-anchor="start" textLength="44.0" lengthAdjust="spacingAndGlyphs">IMF 9</text>
<text x="1040.7" y="1225.2" font-size="18" text-anchor="start" textLength="54.3" lengthAdjust="spacingAndGlyphs">IMF 10</text>
</g>
<g>
<path d="M1154.5,1294H4.5V1850.7H1154.5" fill="none" stroke="#d9d9d9" stroke-width="1.6"/>
<line x1="104.4" y1="1377.0" x2="1118.3" y2="1377.0" stroke="#d9d9d9" stroke-width="1.7"/>
<line x1="104.4" y1="1415.8" x2="1118.3" y2="1415.8" stroke="#d9d9d9" stroke-width="1.7"/>
<line x1="104.4" y1="1454.5" x2="1118.3" y2="1454.5" stroke="#d9d9d9" stroke-width="1.7"/>
<line x1="104.4" y1="1493.2" x2="1118.3" y2="1493.2" stroke="#d9d9d9" stroke-width="1.7"/>
<line x1="104.4" y1="1532.0" x2="1118.3" y2="1532.0" stroke="#d9d9d9" stroke-width="1.7"/>
<line x1="104.4" y1="1570.8" x2="1118.3" y2="1570.8" stroke="#d9d9d9" stroke-width="1.7"/>
<line x1="104.4" y1="1609.5" x2="1118.3" y2="1609.5" stroke="#d9d9d9" stroke-width="1.7"/>
<line x1="104.4" y1="1648.2" x2="1118.3" y2="1648.2" stroke="#d9d9d9" stroke-width="1.7"/>
<line x1="104.4" y1="1687.0" x2="1118.3" y2="1687.0" stroke="#d9d9d9" stroke-width="1.7"/>
<text x="583.0" y="1340.5" font-size="27" text-anchor="middle" textLength="81.6" lengthAdjust="spacingAndGlyphs">France</text>
<text x="84.7" y="1383.5" font-size="18" text-anchor="end" textLength="59.9" lengthAdjust="spacingAndGlyphs">8.000%</text>
<text x="84.7" y="1422.2" font-size="18" text-anchor="end" textLength="59.9" lengthAdjust="spacingAndGlyphs">6.000%</text>
<text x="84.7" y="1461.0" font-size="18" text-anchor="end" textLength="59.9" lengthAdjust="spacingAndGlyphs">4.000%</text>
<text x="84.7" y="1499.8" font-size="18" text-anchor="end" textLength="59.9" lengthAdjust="spacingAndGlyphs">2.000%</text>
<text x="84.7" y="1538.5" font-size="18" text-anchor="end" textLength="59.9" lengthAdjust="spacingAndGlyphs">0.000%</text>
<text x="84.7" y="1577.2" font-size="18" text-anchor="end" textLength="66.0" lengthAdjust="spacingAndGlyphs">-2.000%</text>
<text x="84.7" y="1616.0" font-size="18" text-anchor="end" textLength="66.0" lengthAdjust="spacingAndGlyphs">-4.000%</text>
<text x="84.7" y="1654.8" font-size="18" text-anchor="end" textLength="66.0" lengthAdjust="spacingAndGlyphs">-6.000%</text>
<text x="84.7" y="1693.5" font-size="18" text-anchor="end" textLength="66.0" lengthAdjust="spacingAndGlyphs">-8.000%</text>
<text transform="translate(110.0 1714.4) rotate(-45)" font-size="18" text-anchor="end" textLength="94.5" lengthAdjust="spacingAndGlyphs">08-04-2014</text>
<text transform="translate(205.6 1714.4) rotate(-45)" font-size="18" text-anchor="end" textLength="94.5" lengthAdjust="spacingAndGlyphs">08-04-2015</text>
<text transform="translate(301.2 1714.4) rotate(-45)" font-size="18" text-anchor="end" textLength="94.5" lengthAdjust="spacingAndGlyphs">08-04-2016</text>
<text transform="translate(396.8 1714.4) rotate(-45)" font-size="18" text-anchor="end" textLength="94.5" lengthAdjust="spacingAndGlyphs">08-04-2017</text>
<text transform="translate(492.4 1714.4) rotate(-45)" font-size="18" text-anchor="end" textLength="94.5" lengthAdjust="spacingAndGlyphs">08-04-2018</text>
<text transform="translate(588.0 1714.4) rotate(-45)" font-size="18" text-anchor="end" textLength="94.5" lengthAdjust="spacingAndGlyphs">08-04-2019</text>
<text transform="translate(683.6 1714.4) rotate(-45)" font-size="18" text-anchor="end" textLength="94.5" lengthAdjust="spacingAndGlyphs">08-04-2020</text>
<text transform="translate(779.2 1714.4) rotate(-45)" font-size="18" text-anchor="end" textLength="94.5" lengthAdjust="spacingAndGlyphs">08-04-2021</text>
<text transform="translate(874.8 1714.4) rotate(-45)" font-size="18" text-anchor="end" textLength="94.5" lengthAdjust="spacingAndGlyphs">08-04-2022</text>
<text transform="translate(970.4 1714.4) rotate(-45)" font-size="18" text-anchor="end" textLength="94.5" lengthAdjust="spacingAndGlyphs">08-04-2023</text>
<text transform="translate(1066.0 1714.4) rotate(-45)" font-size="18" text-anchor="end" textLength="94.5" lengthAdjust="spacingAndGlyphs">08-04-2024</text>
<g fill="none" stroke-width="5.3" stroke-linejoin="round" stroke-linecap="round">
<path stroke="#ea7d33" d="M104.4,1531.8 106.1,1533 107.8,1530.4 109.5,1533.6 111.2,1530.5 112.9,1532.7 114.6,1531.8 116.3,1532.2 118,1531.6 119.7,1533.2 121.4,1530.7 123.1,1532.8 124.8,1531 126.5,1532.9 128.2,1530.7 129.9,1533.3 131.6,1531.3 133.3,1532.3 135,1531.7 136.7,1532.3 138.4,1530.6 140.1,1534.2 141.8,1529.8 143.5,1533.7 145.2,1530.9 146.9,1532.3 148.6,1531.5 150.3,1533 152,1530.7 153.7,1532.8 155.4,1531.7 157.1,1532.3 158.8,1531.7 160.5,1532.3 162.2,1530.9 163.9,1534.3 165.6,1528.3 167.3,1536.1 169,1526.9 170.7,1536.7 172.4,1527.9 174.1,1533.7 175.8,1531.6 177.5,1532.3 179.2,1531.6 180.9,1532.3 182.6,1531.7 184.3,1532.5 186,1531.6 187.7,1532.4 189.4,1530.8 191.1,1540.8 192.8,1520.3 194.5,1544 196.2,1520.5 197.9,1538.4 199.6,1526.1 201.3,1537.8 203,1528.5 204.7,1535.2 206.4,1528.1 208.1,1534.6 209.8,1529.7 211.5,1534.3 213.2,1530.6 214.9,1532.4 216.6,1531.5 218.3,1532.5 220,1531.4 221.7,1532.4 223.4,1531.5 225.1,1532.5 226.8,1531.6 228.5,1532.4 230.2,1531.4 231.9,1532.5 233.6,1531.4 235.3,1532.5 237,1531.4 238.7,1532.7 240.4,1530 242.1,1534.6 243.8,1528.4 245.5,1535 247.2,1527.8 248.9,1535.2 250.6,1529.3 252.3,1534.4 254,1529.1 255.7,1536.2 257.4,1528.6 259.1,1534.2 260.8,1530.3 262.5,1534 264.2,1528.1 265.9,1537.6 267.6,1526.1 269.3,1538.1 271,1527.6 272.7,1536.9 274.4,1528.9 276.1,1534.3 277.8,1529.5 279.5,1536.2 281.2,1526 282.9,1537.3 284.6,1524.6 286.3,1539.1 288,1525.8 289.7,1536.6 291.4,1529.6 293.1,1532.7 294.8,1531.2 296.5,1532.6 298.2,1531.2 299.9,1532.7 301.6,1531.3 303.3,1532.8 305,1531.2 306.7,1532.8 308.4,1529.7 310.1,1534.9 311.8,1528.2 313.5,1577.4 315.2,1482.6 316.9,1585.7 318.6,1492.4 320.3,1556.9 322,1517.3 323.7,1539.7 325.4,1524.2 327.1,1541.2 328.8,1521.4 330.5,1542.5 332.2,1523.3 333.9,1538.2 335.6,1526.3 337.3,1536.8 339,1517.4 340.7,1552.5 342.4,1511 344.1,1552.7 345.8,1523.8 347.5,1540.2 349.2,1517.5 350.9,1543.9 352.6,1518.1 354.3,1544.3 356,1523.1 357.7,1537.7 359.4,1527.2 361.1,1535.9 362.8,1529.1 364.5,1535.4 366.2,1529.7 367.9,1534.5 369.6,1530.1 371.3,1534.4 373,1530.1 374.7,1533.6 376.4,1530.9 378.1,1533.6 379.8,1528.8 381.5,1536.4 383.2,1525.2 384.9,1537.4 386.6,1528.5 388.3,1534.5 390,1530.3 391.7,1533.9 393.4,1529.6 395.1,1534.2 396.8,1529.6 398.5,1534.9 400.2,1529.6 401.9,1533.4 403.6,1531.5 405.3,1532.5 407,1531.6 408.7,1532.4 410.4,1531.6 412.1,1532.3 413.8,1531.5 415.5,1532.4 417.2,1531.6 418.9,1532.5 420.6,1531.6 422.3,1533.5 424,1530 425.7,1534 427.4,1531 429.1,1532.6 430.8,1531.3 432.5,1532.8 434.2,1531.6 435.9,1532.5 437.6,1531.5 439.3,1532.4 441,1531.5 442.7,1532.4 444.4,1531.6 446.1,1532.6 447.8,1531.5 449.5,1532.6 451.2,1531.4 452.9,1533.3 454.6,1527.8 456.3,1539.1 458,1522.7 459.7,1544.5 461.4,1516.6 463.1,1546.7 464.8,1517.8 466.5,1547.9 468.2,1497.5 469.9,1561.7 471.6,1486.2 473.3,1577.9 475,1485.2 476.7,1541.7 478.4,1530.7 480.1,1533.2 481.8,1530.7 483.5,1541.5 485.2,1506.4 486.9,1552.9 488.6,1506.5 490.3,1543.5 492,1528.2 493.7,1538.8 495.4,1521.5 497.1,1546.6 498.8,1516.1 500.5,1553.5 502.2,1511.5 503.9,1547 505.6,1509.7 507.3,1560.4 509,1508.3 510.7,1556.2 512.4,1522.5 514.1,1538.9 515.8,1526.8 517.5,1532.9 519.2,1531.1 520.9,1532.6 522.6,1531.3 524.3,1532.5 526,1531.4 527.7,1532.7 529.4,1531.4 531.1,1532.5 532.8,1530.1 534.5,1534.9 536.2,1528.5 537.9,1534.3 539.6,1531.3 541.3,1532.5 543,1531.4 544.7,1532.5 546.4,1531.1 548.1,1535.9 549.8,1526.1 551.5,1540.7 553.2,1523.6 554.9,1540.3 556.6,1523.5 558.3,1543 560,1522.2 561.7,1539.6 563.4,1526.3 565.1,1535.6 566.8,1529.6 568.5,1532.8 570.2,1531.4 571.9,1532.4 573.6,1531.4 575.3,1532.5 577,1531.5 578.7,1532.5 580.4,1531.5 582.1,1532.5 583.8,1531.4 585.5,1532.6 587.2,1530.5 588.9,1535 590.6,1526.5 592.3,1536.8 594,1529.4 595.7,1532.6 597.4,1531.3 599.1,1532.6 600.8,1531.4 602.5,1532.7 604.2,1531.4 605.9,1532.7 607.6,1531.1 609.3,1532.9 611,1530 612.7,1544.9 614.4,1503.2 616.1,1564.8 617.8,1501.2 619.5,1563 621.2,1514.2 622.9,1556.9 624.6,1512.2 626.3,1555.8 628,1527 629.7,1536.8 631.4,1527 633.1,1535.1 634.8,1530.3 636.5,1532.9 638.2,1531.3 639.9,1533.7 641.6,1528.7 643.3,1535.4 645,1527.2 646.7,1537.1 648.4,1527.5 650.1,1537.5 651.8,1526.5 653.5,1536.2 655.2,1527.9 656.9,1535.8 658.6,1528.9 660.3,1536.9 662,1520.3 663.7,1547.5 665.4,1515.8 667.1,1543.5 668.8,1526.7 670.5,1549.7 672.2,1453.3 673.9,1591.5 675.6,1413.9 677.3,1657.8 679,1399.7 680.7,1626.5 682.4,1472.7 684.1,1620.3 685.8,1490.9 687.5,1555.4 689.2,1436.4 690.9,1651.5 692.6,1412 694.3,1648.3 696,1463.5 697.7,1581.6 699.4,1468.7 701.1,1543.6 702.8,1503.3 704.5,1571.5 706.2,1502.1 707.9,1561.8 709.6,1518.2 711.3,1536.1 713,1530.5 714.7,1533.4 716.4,1530.7 718.1,1533 719.8,1530.9 721.5,1538.1 723.2,1521.5 724.9,1537.5 726.6,1530.7 728.3,1533.3 730,1531 731.7,1533.4 733.4,1530.8 735.1,1533.4 736.8,1530.7 738.5,1533.3 740.2,1530.6 741.9,1535.9 743.6,1525.7 745.3,1536.6 747,1530.6 748.7,1548.4 750.4,1507.1 752.1,1561.4 753.8,1507.2 755.5,1545.6 757.2,1530.3 758.9,1538.4 760.6,1504 762.3,1576.2 764,1488.1 765.7,1576.9 767.4,1504 769.1,1537.6 770.8,1523.9 772.5,1544.7 774.2,1503.2 775.9,1559.5 777.6,1503.1 779.3,1547.3 781,1499.6 782.7,1564.9 784.4,1499.7 786.1,1553.3 787.8,1528.6 789.5,1539.2 791.2,1524.9 792.9,1533.3 794.6,1530.8 796.3,1534.8 798,1509.5 799.7,1565.7 801.4,1499.3 803.1,1565.4 804.8,1521.4 806.5,1539.3 808.2,1522.1 809.9,1543.4 811.6,1521 813.3,1556.6 815,1510.4 816.7,1556.8 818.4,1520.9 820.1,1533.3 821.8,1529.8 823.5,1533 825.2,1530.5 826.9,1533.4 828.6,1530.3 830.3,1533.4 832,1524.7 833.7,1592.8 835.4,1470.2 837.1,1597.2 838.8,1488.6 840.5,1538.2 842.2,1523 843.9,1546.5 845.6,1515.1 847.3,1553.5 849,1507.5 850.7,1557 852.4,1508.7 854.1,1551 855.8,1502 857.5,1560.3 859.2,1492.8 860.9,1567.1 862.6,1492.1 864.3,1555.8 866,1527.2 867.7,1548.5 869.4,1500.5 871.1,1561.5 872.8,1500.5 874.5,1545.7 876.2,1523.6 877.9,1544.3 879.6,1516.5 881.3,1544.1 883,1518.1 884.7,1559.7 886.4,1505.3 888.1,1559.6 889.8,1515.9 891.5,1544.4 893.2,1521.5 894.9,1537.7 896.6,1529.7 898.3,1533.2 900,1530 901.7,1537.1 903.4,1520.2 905.1,1562.6 906.8,1503.3 908.5,1562.4 910.2,1514.8 911.9,1546.8 913.6,1512.3 915.3,1552.6 917,1512.9 918.7,1543 920.4,1526.7 922.1,1533.3 923.8,1530.8 925.5,1533.4 927.2,1528.8 928.9,1551.4 930.6,1501.3 932.3,1561.5 934,1501.3 935.7,1543 937.4,1525.1 939.1,1540.8 940.8,1517.9 942.5,1550.6 944.2,1514.2 945.9,1551.6 947.6,1515.9 949.3,1543.1 951,1518.2 952.7,1542.9 954.4,1525.9 956.1,1541.4 957.8,1504.3 959.5,1564.7 961.2,1503.3 962.9,1556.2 964.6,1519.7 966.3,1547.6 968,1516.1 969.7,1544 971.4,1523.6 973.1,1535.5 974.8,1531 976.5,1532.6 978.2,1531.3 979.9,1533.5 981.6,1529.5 983.3,1534.4 985,1530.7 986.7,1533.4 988.4,1529.6 990.1,1535.6 991.8,1528.7 993.5,1535.1 995.2,1530.2 996.9,1533.1 998.6,1531.4 1000.3,1532.8 1002,1531.3 1003.7,1532.6 1005.4,1531.4 1007.1,1532.6 1008.8,1531.3 1010.5,1532.7 1012.2,1529.6 1013.9,1536.6 1015.6,1526.8 1017.3,1537.5 1019,1527.2 1020.7,1537.8 1022.4,1525.9 1024.1,1540.8 1025.8,1523.1 1027.5,1542.8 1029.2,1522.9 1030.9,1542 1032.6,1523.3 1034.3,1540.4 1036,1523.8 1037.7,1539.9 1039.4,1523.6 1041.1,1539.4 1042.8,1523.7 1044.5,1540.4 1046.2,1521.6 1047.9,1539.8 1049.6,1524.9 1051.3,1540.4 1053,1523.9 1054.7,1538.3 1056.4,1527.5 1058.1,1535.2 1059.8,1529.8 1061.5,1535.3 1063.2,1528.9 1064.9,1534.4 1066.6,1529.6 1068.3,1536.1 1070,1526.3 1071.7,1538.6 1073.4,1524.5 1075.1,1537.7 1076.8,1528.2 1078.5,1536.4 1080.2,1525.6 1081.9,1542.2 1083.6,1516.7 1085.3,1545.2 1087,1522.2 1088.7,1548.3 1090.4,1511.5 1092.1,1553.9 1093.8,1511.8 1095.5,1538.3 1097.2,1530.8 1098.9,1536.7 1100.6,1524.4 1102.3,1542.1 1104,1521.7 1105.7,1540.4 1107.4,1525 1109.1,1538.8 1110.8,1527.7 1112.5,1534.4 1114.2,1530.6 1115.9,1533.3 1117.6,1530.4"/>
<path stroke="#a8a8a8" d="M104.4,1531 106.3,1533.4 108.2,1530.5 110.1,1534.2 112,1530.1 113.9,1532.9 115.8,1531.6 117.7,1532.2 119.6,1530.8 121.5,1534.2 123.4,1529.1 125.3,1534.6 127.2,1530.5 129.1,1533.2 131,1530.4 132.9,1534.4 134.8,1527.6 136.7,1535.7 138.6,1527.8 140.5,1534.1 142.4,1531.6 144.3,1532.3 146.2,1531.6 148.1,1535.5 150,1526 151.9,1540.6 153.8,1522.5 155.7,1541 157.6,1525.2 159.5,1539.7 161.4,1525.3 163.3,1539.1 165.2,1524.2 167.1,1539.9 169,1525.1 170.9,1538.9 172.8,1523.7 174.7,1537.5 176.6,1531 178.5,1532.3 180.4,1531.5 182.3,1532.4 184.2,1531.6 186.1,1532.4 188,1530.5 189.9,1534.3 191.8,1528.7 193.7,1534.5 195.6,1529.4 197.5,1533.5 199.4,1531.3 201.3,1533.6 203.2,1527.7 205.1,1538.7 207,1524.3 208.9,1540.8 210.8,1525.3 212.7,1537.2 214.6,1526.7 216.5,1534.6 218.4,1531.5 220.3,1532.5 222.2,1531.5 224.1,1532.5 226,1531.4 227.9,1532.6 229.8,1531.5 231.7,1532.6 233.6,1531.4 235.5,1532.9 237.4,1531 239.3,1533.4 241.2,1529.4 243.1,1534.9 245,1529.7 246.9,1533.1 248.8,1531.3 250.7,1534.2 252.6,1525.9 254.5,1545.9 256.4,1515.2 258.3,1550.9 260.2,1515.4 262.1,1550 264,1521.3 265.9,1539.8 267.8,1518.9 269.7,1552.4 271.6,1510.6 273.5,1549.8 275.4,1515.4 277.3,1547.8 279.2,1512 281.1,1553.5 283,1511 284.9,1553.7 286.8,1513.2 288.7,1542.3 290.6,1526.9 292.5,1536.9 294.4,1527.7 296.3,1538.2 298.2,1524.2 300.1,1540.7 302,1522.2 303.9,1543.5 305.8,1520.5 307.7,1543.2 309.6,1520.9 311.5,1546.2 313.4,1505.2 315.3,1557.5 317.2,1504.2 319.1,1553.5 321,1527.4 322.9,1532.8 324.8,1531.2 326.7,1532.6 328.6,1531.2 330.5,1532.5 332.4,1531.3 334.3,1535.1 336.2,1524.4 338.1,1543.9 340,1520.4 341.9,1545.8 343.8,1517.8 345.7,1540.2 347.6,1526.2 349.5,1544.1 351.4,1515.6 353.3,1550.7 355.2,1515.3 357.1,1549.6 359,1520.2 360.9,1543.3 362.8,1522.8 364.7,1540.8 366.6,1526.8 368.5,1534.5 370.4,1530.6 372.3,1534.2 374.2,1527.8 376.1,1536 378,1528.7 379.9,1534.7 381.8,1529.3 383.7,1539.1 385.6,1523.4 387.5,1543 389.4,1517.7 391.3,1543.5 393.2,1519.9 395.1,1546.9 397,1517.2 398.9,1546.7 400.8,1520.2 402.7,1542.4 404.6,1517.4 406.5,1545.7 408.4,1515.9 410.3,1545.3 412.2,1525.9 414.1,1533.9 416,1527.3 417.9,1543.5 419.8,1519.1 421.7,1544.7 423.6,1519.5 425.5,1538.5 427.4,1530.7 429.3,1535 431.2,1525.5 433.1,1545.8 435,1518 436.9,1539.6 438.8,1525.7 440.7,1535.7 442.6,1529.6 444.5,1536.3 446.4,1524.6 448.3,1542.7 450.2,1515.5 452.1,1545 454,1524.5 455.9,1537.4 457.8,1529.4 459.7,1533.9 461.6,1529.1 463.5,1537.9 465.4,1523.4 467.3,1541.1 469.2,1518.8 471.1,1566.7 473,1508.1 474.9,1567 476.8,1517 478.7,1542.5 480.6,1522.5 482.5,1537.3 484.4,1531.1 486.3,1532.7 488.2,1531.4 490.1,1532.7 492,1531.3 493.9,1532.6 495.8,1528.8 497.7,1540.1 499.6,1523.7 501.5,1535.5 503.4,1531.3 505.3,1532.7 507.2,1531.4 509.1,1532.7 511,1528.2 512.9,1536.9 514.8,1524.5 516.7,1542.6 518.6,1516.6 520.5,1550.7 522.4,1516.4 524.3,1548.2 526.2,1519 528.1,1541.4 530,1519.8 531.9,1548.5 533.8,1503.3 535.7,1559.9 537.6,1503.3 539.5,1546.1 541.4,1530.5 543.3,1535.5 545.2,1525.4 547.1,1547.1 549,1513.2 550.9,1549.6 552.8,1513.2 554.7,1542.5 556.6,1527 558.5,1535.4 560.4,1529.3 562.3,1532.6 564.2,1531.5 566.1,1532.5 568,1531.4 569.9,1537 571.8,1523.7 573.7,1541.9 575.6,1522.5 577.5,1537.4 579.4,1528.8 581.3,1534.5 583.2,1528.6 585.1,1535.5 587,1529 588.9,1533.7 590.8,1531.1 592.7,1532.6 594.6,1531.4 596.5,1532.5 598.4,1531.4 600.3,1532.7 602.2,1531.5 604.1,1532.8 606,1531.3 607.9,1532.7 609.8,1531.3 611.7,1532.7 613.6,1531.3 615.5,1532.7 617.4,1531.1 619.3,1532.8 621.2,1529.6 623.1,1537.1 625,1523.8 626.9,1540.2 628.8,1523.8 630.7,1539 632.6,1528.1 634.5,1533.4 636.4,1531.4 638.3,1532.5 640.2,1531.4 642.1,1532.5 644,1531.5 645.9,1536.1 647.8,1522.5 649.7,1547.6 651.6,1515.4 653.5,1548.4 655.4,1516.4 657.3,1546 659.2,1519.3 661.1,1548.4 663,1513.1 664.9,1576.4 666.8,1483.2 668.7,1586.4 670.6,1469.1 672.5,1602.1 674.4,1461.2 676.3,1601.4 678.2,1479.7 680.1,1574.8 682,1490 683.9,1577.6 685.8,1493.4 687.7,1566.9 689.6,1498.4 691.5,1552.1 693.4,1516.3 695.3,1549.8 697.2,1499.2 699.1,1573.4 701,1496.2 702.9,1568.7 704.8,1520.1 706.7,1538.2 708.6,1528.3 710.5,1537.3 712.4,1524.4 714.3,1538.8 716.2,1528.3 718.1,1535.1 720,1512.7 721.9,1566.4 723.8,1491.1 725.7,1566.7 727.6,1506.2 729.5,1534.8 731.4,1531.2 733.3,1532.8 735.2,1527.6 737.1,1542 739,1518.5 740.9,1547.8 742.8,1516.8 744.7,1540.8 746.6,1526.7 748.5,1534.1 750.4,1529.8 752.3,1535.2 754.2,1529 756.1,1536.9 758,1522.6 759.9,1545.6 761.8,1509.6 763.7,1558.1 765.6,1502.7 767.5,1562 769.4,1506 771.3,1550.3 773.2,1519.9 775.1,1532.9 777,1531.1 778.9,1532.8 780.8,1531 782.7,1532.9 784.6,1531.2 786.5,1533.1 788.4,1531.3 790.3,1532.7 792.2,1531 794.1,1533 796,1531.2 797.9,1532.8 799.8,1531.1 801.7,1532.9 803.6,1531.2 805.5,1532.9 807.4,1531.1 809.3,1533 811.2,1531.2 813.1,1533 815,1528.7 816.9,1535.9 818.8,1527.5 820.7,1539.1 822.6,1524.9 824.5,1537.4 826.4,1529.3 828.3,1532.9 830.2,1530.2 832.1,1551.3 834,1496.2 835.9,1569.7 837.8,1496.8 839.7,1554.1 841.6,1512.7 843.5,1554.4 845.4,1516.7 847.3,1542.4 849.2,1526.9 851.1,1539.1 853,1522.9 854.9,1542.8 856.8,1518.4 858.7,1553.1 860.6,1513.3 862.5,1550.3 864.4,1514.2 866.3,1547.5 868.2,1521.1 870.1,1538.2 872,1531 873.9,1533 875.8,1531.2 877.7,1532.7 879.6,1531.3 881.5,1532.7 883.4,1524.5 885.3,1545.8 887.2,1519.6 889.1,1541.7 891,1528.2 892.9,1532.7 894.8,1531.3 896.7,1532.8 898.6,1531.1 900.5,1533.4 902.4,1530.3 904.3,1532.9 906.2,1531.3 908.1,1533 910,1531.1 911.9,1532.8 913.8,1531.3 915.7,1532.8 917.6,1531.2 919.5,1532.9 921.4,1531 923.3,1536 925.2,1529.4 927.1,1533 929,1531.3 930.9,1532.9 932.8,1531.3 934.7,1532.7 936.6,1531.1 938.5,1532.9 940.4,1531.1 942.3,1532.8 944.2,1531.3 946.1,1534.5 948,1527.1 949.9,1541.2 951.8,1517.3 953.7,1552.6 955.6,1502.3 957.5,1561.3 959.4,1501.1 961.3,1558.3 963.2,1506.9 965.1,1547.3 967,1524 968.9,1535.3 970.8,1531.3 972.7,1532.8 974.6,1531.3 976.5,1532.6 978.4,1531.4 980.3,1532.6 982.2,1531.3 984.1,1532.6 986,1530.5 987.9,1535.2 989.8,1525.6 991.7,1538.1 993.6,1525.6 995.5,1535.1 997.4,1531.4 999.3,1532.6 1001.2,1531.3 1003.1,1532.6 1005,1530 1006.9,1536.5 1008.8,1526.5 1010.7,1537.4 1012.6,1523 1014.5,1541.3 1016.4,1519.8 1018.3,1541.3 1020.2,1523.7 1022.1,1535.8 1024,1528.1 1025.9,1537.8 1027.8,1522.4 1029.7,1541.4 1031.6,1521.5 1033.5,1543.4 1035.4,1518.9 1037.3,1546.7 1039.2,1516.4 1041.1,1545.3 1043,1525.4 1044.9,1533.7 1046.8,1531.4 1048.7,1532.6 1050.6,1531.4 1052.5,1533.2 1054.4,1528.7 1056.3,1537.4 1058.2,1524.9 1060.1,1540.3 1062,1524.2 1063.9,1538.3 1065.8,1527.1 1067.7,1537.2 1069.6,1529 1071.5,1535.9 1073.4,1523.9 1075.3,1545.7 1077.2,1512.2 1079.1,1560.6 1081,1497.4 1082.9,1569.8 1084.8,1503.4 1086.7,1543.4 1088.6,1521.2 1090.5,1547.4 1092.4,1520.3 1094.3,1544.8 1096.2,1524.3 1098.1,1535 1100,1531.1 1101.9,1532.5 1103.8,1531.4 1105.7,1532.5 1107.6,1531.5 1109.5,1532.5 1111.4,1531.4 1113.3,1532.5 1115.2,1531.5 1117.1,1532.5"/>
<path stroke="#f2c12e" d="M104.4,1531.9 107.1,1532.2 109.8,1531.6 112.5,1532.7 115.2,1531.7 117.9,1532.2 120.6,1531.8 123.3,1532.3 126,1531.6 128.7,1532.2 131.4,1531.8 134.1,1532.5 136.8,1530.6 139.5,1534.5 142.2,1528.9 144.9,1534.6 147.6,1530.6 150.3,1532.7 153,1530.9 155.7,1533.8 158.4,1529.8 161.1,1533.6 163.8,1531.8 166.5,1532.3 169.2,1531.7 171.9,1532.3 174.6,1531.7 177.3,1532.3 180,1531.7 182.7,1533.4 185.4,1529 188.1,1537.1 190.8,1525 193.5,1542.6 196.2,1522.5 198.9,1542.4 201.6,1522.4 204.3,1540.7 207,1526.3 209.7,1535.8 212.4,1528.3 215.1,1535.7 217.8,1528.9 220.5,1534.9 223.2,1527.8 225.9,1537.2 228.6,1525.9 231.3,1537.3 234,1528.7 236.7,1532.5 239.4,1531.5 242.1,1532.4 244.8,1531.6 247.5,1532.4 250.2,1531.6 252.9,1534 255.6,1527.9 258.3,1538.1 261,1525.1 263.7,1537.9 266.4,1528.2 269.1,1533.3 271.8,1531.5 274.5,1532.5 277.2,1531.5 279.9,1532.4 282.6,1531.6 285.3,1532.4 288,1531.5 290.7,1532.5 293.4,1531.5 296.1,1534.9 298.8,1526.5 301.5,1540.9 304.2,1522.1 306.9,1542.7 309.6,1520 312.3,1547.5 315,1518.3 317.7,1547.7 320.4,1519 323.1,1541.6 325.8,1524.8 328.5,1540.8 331.2,1520.7 333.9,1541.2 336.6,1526.4 339.3,1534.1 342,1531.5 344.7,1532.5 347.4,1531.5 350.1,1532.4 352.8,1529.6 355.5,1535 358.2,1529.4 360.9,1532.5 363.6,1531.5 366.3,1532.4 369,1531.6 371.7,1532.4 374.4,1531.6 377.1,1532.4 379.8,1531.6 382.5,1532.3 385.2,1531.7 387.9,1532.4 390.6,1531.6 393.3,1532.4 396,1530.7 398.7,1536.3 401.4,1525.5 404.1,1538.3 406.8,1529 409.5,1532.3 412.2,1531.6 414.9,1532.3 417.6,1531.7 420.3,1532.4 423,1531.7 425.7,1532.3 428.4,1531.7 431.1,1532.3 433.8,1531.6 436.5,1532.3 439.2,1531.1 441.9,1534.3 444.6,1528.2 447.3,1538.7 450,1524.8 452.7,1540.4 455.4,1522.9 458.1,1540.9 460.8,1521.4 463.5,1541.5 466.2,1526.6 468.9,1534.8 471.6,1530.7 474.3,1534.9 477,1528.2 479.7,1536.5 482.4,1525.1 485.1,1542.1 487.8,1520.7 490.5,1541.6 493.2,1523.1 495.9,1537.6 498.6,1527.4 501.3,1536.3 504,1528 506.7,1534.7 509.4,1531.1 512.1,1532.5 514.8,1531.5 517.5,1533.5 520.2,1529.5 522.9,1534.7 525.6,1529.3 528.3,1535.4 531,1527.4 533.7,1539.2 536.4,1524.8 539.1,1539.2 541.8,1525.7 544.5,1537.6 547.2,1525.8 549.9,1538.2 552.6,1524.8 555.3,1541.4 558,1522.3 560.7,1544.9 563.4,1519.3 566.1,1546 568.8,1522.6 571.5,1543.6 574.2,1513.3 576.9,1550.9 579.6,1513 582.3,1545.6 585,1516.8 587.7,1549.8 590.4,1515.2 593.1,1549.8 595.8,1518.5 598.5,1549.7 601.2,1514.3 603.9,1549.9 606.6,1523.8 609.3,1543.2 612,1519.2 614.7,1546.2 617.4,1518.8 620.1,1538.8 622.8,1528.5 625.5,1534.5 628.2,1529.7 630.9,1534.1 633.6,1531.2 636.3,1532.4 639,1531.6 641.7,1532.4 644.4,1531.5 647.1,1532.4 649.8,1531.5 652.5,1532.4 655.2,1531.6 657.9,1532.5 660.6,1531.4 663.3,1533.7 666,1524.6 668.7,1540.6 671.4,1530.9 674.1,1533 676.8,1531.1 679.5,1533.1 682.2,1531 684.9,1533 687.6,1531 690.3,1533 693,1529.9 695.7,1545.3 698.4,1510.1 701.1,1558.5 703.8,1509.6 706.5,1557.9 709.2,1506 711.9,1554.5 714.6,1512.9 717.3,1545 720,1527.8 722.7,1553.4 725.4,1497 728.1,1571.9 730.8,1484.6 733.5,1583.2 736.2,1484.6 738.9,1566.1 741.6,1528.3 744.3,1536.7 747,1525.1 749.7,1542.1 752.4,1517.6 755.1,1552.9 757.8,1508.7 760.5,1552.3 763.2,1505.8 765.9,1556.3 768.6,1508.9 771.3,1546.6 774,1518.5 776.7,1547.1 779.4,1514.1 782.1,1551.5 784.8,1518.4 787.5,1537.8 790.2,1531.2 792.9,1532.7 795.6,1528.8 798.3,1539.9 801,1522.2 803.7,1542.5 806.4,1522.8 809.1,1543.1 811.8,1519.4 814.5,1542.4 817.2,1522.1 819.9,1540.2 822.6,1526.9 825.3,1535.4 828,1529.3 830.7,1535.7 833.4,1525.4 836.1,1541.2 838.8,1520.4 841.5,1541.5 844.2,1527.4 846.9,1532.7 849.6,1531.3 852.3,1532.8 855,1531.3 857.7,1538 860.4,1520.4 863.1,1547 865.8,1520 868.5,1538.8 871.2,1531.3 873.9,1532.7 876.6,1531.3 879.3,1538.1 882,1517.4 884.7,1550.8 887.4,1513 890.1,1547.5 892.8,1520.1 895.5,1539.9 898.2,1526.1 900.9,1539.2 903.6,1523.9 906.3,1544.2 909,1519.5 911.7,1545.6 914.4,1519.5 917.1,1542.7 919.8,1520.8 922.5,1545.2 925.2,1519.2 927.9,1548.7 930.6,1513.3 933.3,1549.3 936,1516.5 938.7,1547.4 941.4,1517.9 944.1,1545.3 946.8,1520.5 949.5,1541.3 952.2,1527.4 954.9,1533.2 957.6,1531.4 960.3,1532.5 963,1531.4 965.7,1532.5 968.4,1531.4 971.1,1532.6 973.8,1531.6 976.5,1532.5 979.2,1531.1 981.9,1535.3 984.6,1526.4 987.3,1541.3 990,1517.9 992.7,1543.8 995.4,1519.5 998.1,1537.5 1000.8,1531.2 1003.5,1532.5 1006.2,1531.5 1008.9,1532.5 1011.6,1528.3 1014.3,1540.8 1017,1522.3 1019.7,1542.2 1022.4,1521.4 1025.1,1539.2 1027.8,1523.6 1030.5,1538.9 1033.2,1523.8 1035.9,1540.7 1038.6,1524.1 1041.3,1539.6 1044,1524.3 1046.7,1538.4 1049.4,1526.7 1052.1,1536.3 1054.8,1528.9 1057.5,1537.2 1060.2,1524.9 1062.9,1540.9 1065.6,1520.9 1068.3,1541.9 1071,1523.9 1073.7,1537 1076.4,1531.3 1079.1,1532.4 1081.8,1531.6 1084.5,1534.8 1087.2,1524.8 1089.9,1541.9 1092.6,1522.9 1095.3,1539.7 1098,1510.3 1100.7,1551.9 1103.4,1510.2 1106.1,1557.6 1108.8,1507 1111.5,1557.1 1114.2,1524.7 1116.9,1535.6"/>
<path stroke="#66a5de" d="M104.4,1533.4 106,1529.3 107.6,1527.6 109.2,1529.9 110.8,1534.3 112.4,1536.7 114,1534.6 115.6,1529.9 117.2,1527 118.8,1529 120.4,1534.1 122,1537.3 123.6,1535.1 125.2,1529.6 126.8,1526.4 128.4,1529.1 130,1534.9 131.6,1537.8 133.2,1534.6 134.8,1528.5 136.4,1525.9 138,1529.8 139.6,1536.1 141.2,1538.3 142.8,1534.1 144.4,1527.5 146,1525.3 147.6,1529.5 149.2,1536.2 150.8,1539.2 152.4,1535.9 154,1529.2 155.6,1524.6 157.2,1525.7 158.8,1531.5 160.4,1537.6 162,1539.6 163.6,1537 165.2,1531.9 166.8,1527.2 168.4,1525.1 170,1526.2 171.6,1529.7 173.2,1533.9 174.8,1537.4 176.4,1538.9 178,1538.2 179.6,1535.7 181.2,1532.1 182.8,1528.7 184.4,1526.4 186,1525.9 187.6,1527.3 189.2,1529.9 190.8,1532.8 192.4,1535.1 194,1536.3 195.6,1536.1 197.2,1534.8 198.8,1532.8 200.4,1530.8 202,1529.3 203.6,1528.6 205.2,1528.9 206.8,1530.1 208.4,1531.9 210,1533.6 211.6,1535 213.2,1535.4 214.8,1534.8 216.4,1533.4 218,1531.6 219.6,1530 221.2,1529.1 222.8,1529.3 224.4,1530.5 226,1532 227.6,1533.4 229.2,1534 230.8,1533.6 232.4,1532.6 234,1531.4 235.6,1530.6 237.2,1530.6 238.8,1531.5 240.4,1532.6 242,1533.4 243.6,1533.3 245.2,1532.1 246.8,1530.7 248.4,1530.1 250,1531.1 251.6,1533.1 253.2,1534.5 254.8,1533.7 256.4,1531 258,1528.7 259.6,1529.5 261.2,1533.1 262.8,1536.2 264.4,1535.1 266,1530.5 267.6,1527 269.2,1528.6 270.8,1534.1 272.4,1537.8 274,1535.5 275.6,1529.1 277.2,1525.4 278.8,1528.5 280.4,1535.6 282,1539.4 283.6,1535.5 285.2,1527.7 286.8,1523.9 288.4,1528.2 290,1536.4 291.6,1540.2 293.2,1536 294.8,1528.2 296.4,1524.5 298,1527.9 299.6,1534.5 301.2,1538.2 302.8,1536.1 304.4,1530.6 306,1527 307.6,1528.1 309.2,1532.4 310.8,1535.9 312.4,1535.8 314,1532.4 315.6,1528.7 317.2,1528.2 318.8,1531.1 320.4,1534.7 322,1535.7 323.6,1533.3 325.2,1529.6 326.8,1528.1 328.4,1530.4 330,1534.5 331.6,1536.5 333.2,1533.8 334.8,1528.6 336.4,1526.3 338,1530.1 339.6,1536.8 341.2,1539 342.8,1533.2 344.4,1525 346,1524.1 347.6,1532.7 349.2,1541.5 350.8,1539.5 352.4,1528.1 354,1520.5 355.6,1526.6 357.2,1539.8 358.8,1544 360.4,1533.4 362,1520.7 363.6,1522 365.2,1535.7 366.8,1544.6 368.4,1537.6 370,1524 371.6,1521.1 373.2,1531.8 374.8,1541.7 376.4,1538.6 378,1527.9 379.6,1523.8 381.2,1530.1 382.8,1537.5 384.4,1536.8 386,1530.6 387.6,1527.5 389.2,1530.4 390.8,1534.4 392.4,1534.6 394,1531.7 395.6,1529.8 397.2,1531 398.8,1533.1 400.4,1533.4 402,1531.9 403.6,1530.7 405.2,1531.3 406.8,1532.8 408.4,1533.1 410,1531.9 411.6,1530.7 413.2,1531.3 414.8,1533.1 416.4,1533.5 418,1531.5 419.6,1529.7 421.2,1531.3 422.8,1534.8 424.4,1534.7 426,1529.5 427.6,1526.8 429.2,1532.5 430.8,1539.5 432.4,1535.3 434,1523.9 435.6,1524.1 437.2,1537 438.8,1542.2 440.4,1531.8 442,1521.3 443.6,1526.8 445.2,1540.6 446.8,1542 448.4,1528.4 450,1519.5 451.6,1528.6 453.2,1540.9 454.8,1539.8 456.4,1529.4 458,1524.3 459.6,1529.1 461.2,1536.1 462.8,1537.3 464.4,1532.6 466,1528 467.6,1528.2 469.2,1532.2 470.8,1535.8 472.4,1535.6 474,1531.8 475.6,1528.1 477.2,1527.7 478.8,1531.5 480.4,1536.6 482,1538.7 483.6,1535 485.2,1526.8 486.8,1520.3 488.4,1522.6 490,1535.1 491.6,1547.1 493.2,1547.4 494.8,1535.9 496.4,1521.3 498,1515 499.6,1521.9 501.2,1536.7 502.8,1547.9 504.4,1546.5 506,1533.4 507.6,1519.1 509.2,1515.4 510.8,1525.7 512.4,1541.1 514,1548.3 515.6,1541.3 517.2,1526.3 518.8,1516.8 520.4,1521.3 522,1535.4 523.6,1545.9 525.2,1543.1 526.8,1530 528.4,1519.2 530,1521 531.6,1533.3 533.2,1544.2 534.8,1543 536.4,1531 538,1520 539.6,1521 541.2,1532.7 542.8,1543.7 544.4,1543.1 546,1531.7 547.6,1520.7 549.2,1520.7 550.8,1531.5 552.4,1542.6 554,1543.7 555.6,1534 557.2,1522.6 558.8,1519.8 560.4,1527.7 562,1539.1 563.6,1543.3 565.2,1538 566.8,1529 568.4,1523.9 570,1525.5 571.6,1531.3 573.2,1536.5 574.8,1537.8 576.4,1535.2 578,1531 579.6,1528.1 581.2,1527.8 582.8,1529.9 584.4,1533 586,1535.2 587.6,1535.7 589.2,1534.3 590.8,1531.9 592.4,1529.5 594,1528.3 595.6,1528.6 597.2,1530.4 598.8,1532.8 600.4,1534.9 602,1536.2 603.6,1535.9 605.2,1534.4 606.8,1531.9 608.4,1529.4 610,1527.6 611.6,1527.1 613.2,1528.1 614.8,1530.3 616.4,1533.1 618,1535.6 619.6,1536.9 621.2,1536.8 622.8,1535.4 624.4,1532.9 626,1530 627.6,1527.6 629.2,1526.2 630.8,1526.6 632.4,1528.6 634,1532.1 635.6,1536 637.2,1539.5 638.8,1541.3 640.4,1540.2 642,1535.7 643.6,1528.9 645.2,1522.3 646.8,1518.9 648.4,1520.2 650,1525.9 651.6,1534.1 653.2,1541.7 654.8,1545.5 656.4,1544.4 658,1537 659.6,1525.5 661.2,1515.4 662.8,1512.8 664.4,1521 666,1536.9 667.6,1552.1 669.2,1556.2 670.8,1544 672.4,1523.3 674,1510.2 675.6,1513.8 677.2,1529.7 678.8,1555 680.4,1563 682,1541.9 683.6,1519.3 685.2,1517.9 686.8,1528.1 688.4,1537.3 690,1539.6 691.6,1533.9 693.2,1527.1 694.8,1522.6 696.4,1532.8 698,1553.1 699.6,1548.1 701.2,1521.5 702.8,1514.6 704.4,1530.3 706,1540.3 707.6,1535.4 709.2,1529.7 710.8,1527.7 712.4,1532 714,1536.6 715.6,1534.4 717.2,1528.5 718.8,1527.8 720.4,1533.5 722,1537 723.6,1533 725.2,1527.5 726.8,1528.8 728.4,1534.8 730,1536.6 731.6,1531.6 733.2,1527.2 734.8,1529.8 736.4,1535.5 738,1536.3 739.6,1531 741.2,1527.1 742.8,1529.9 744.4,1535.6 746,1536.6 747.6,1531.4 749.2,1526.8 750.8,1529 752.4,1535.2 754,1537.5 755.6,1532.7 757.2,1526.9 758.8,1527.4 760.4,1533.9 762,1538.4 763.6,1534.7 765.2,1527.2 766.8,1525.6 768.4,1532.6 770,1539.4 771.6,1536.6 773.2,1526.9 774.8,1523.6 776.4,1532.2 778,1541.4 779.6,1537.2 781.2,1524.7 782.8,1522.6 784.4,1535.1 786,1543.1 787.6,1533.6 789.2,1521.5 790.8,1526.5 792.4,1540.4 794,1540.1 795.6,1526.2 797.2,1522.6 798.8,1535.2 800.4,1541.8 802,1531.1 803.6,1522.3 805.2,1531 806.8,1541.3 808.4,1534.7 810,1523.4 811.6,1527.8 813.2,1539.7 814.8,1537.6 816.4,1525.5 818,1525.3 819.6,1536.8 821.2,1539.6 822.8,1529.1 824.4,1523.8 826,1532.4 827.6,1539.9 829.2,1534.2 830.8,1525.4 832.4,1527.5 834,1536.2 835.6,1537.9 837.2,1530.9 838.8,1526.3 840.4,1530 842,1536 843.6,1536.8 845.2,1529.7 846.8,1518.5 848.4,1524.2 850,1543.5 851.6,1548.1 853.2,1533.9 854.8,1524.1 856.4,1527 858,1532.2 859.6,1536.3 861.2,1536.2 862.8,1531.7 864.4,1527.2 866,1526.8 867.6,1531.1 869.2,1536.6 870.8,1538.8 872.4,1535.7 874,1529.6 875.6,1524.8 877.2,1524.5 878.8,1528.7 880.4,1534.9 882,1539.9 883.6,1541.3 885.2,1538.6 886.8,1533.2 888.4,1527.3 890,1523 891.6,1521.4 893.2,1522.9 894.8,1527.3 896.4,1533.2 898,1538.4 899.6,1541.5 901.2,1541.5 902.8,1538.6 904.4,1534.2 906,1529.9 907.6,1526.9 909.2,1526 910.8,1527 912.4,1529.1 914,1531.6 915.6,1533.6 917.2,1534.8 918.8,1534.9 920.4,1534.2 922,1533.1 923.6,1531.8 925.2,1530.8 926.8,1530.1 928.4,1530 930,1530.5 931.6,1531.4 933.2,1532.5 934.8,1533.7 936.4,1534.4 938,1534.6 939.6,1533.9 941.2,1532.4 942.8,1530.4 944.4,1528.3 946,1526.9 947.6,1527 949.2,1528.9 950.8,1532.4 952.4,1536.7 954,1540.4 955.6,1541.9 957.2,1539.9 958.8,1534.3 960.4,1526.9 962,1521.2 963.6,1520 965.2,1524.3 966.8,1532 968.4,1539.1 970,1542.1 971.6,1539.6 973.2,1533.7 974.8,1527.9 976.4,1525.3 978,1526.8 979.6,1530.9 981.2,1534.8 982.8,1536.3 984.4,1535 986,1532.1 987.6,1529.8 989.2,1529.3 990.8,1530.6 992.4,1532.7 994,1534.1 995.6,1533.8 997.2,1532.2 998.8,1530.5 1000.4,1530.1 1002,1531.3 1003.6,1533.2 1005.2,1534 1006.8,1532.9 1008.4,1530.9 1010,1529.9 1011.6,1531.1 1013.2,1533.3 1014.8,1534.2 1016.4,1532.6 1018,1530.4 1019.6,1530 1021.2,1532 1022.8,1533.9 1024.4,1533.5 1026,1531.3 1027.6,1530.1 1029.2,1531.3 1030.8,1533.3 1032.4,1533.5 1034,1531.8 1035.6,1530.5 1037.2,1531.2 1038.8,1532.9 1040.4,1533.4 1042,1532.1 1043.6,1530.7 1045.2,1531 1046.8,1532.6 1048.4,1533.4 1050,1532.4 1051.6,1530.8 1053.2,1530.7 1054.8,1532.2 1056.4,1533.6 1058,1533 1059.6,1531 1061.2,1530.1 1062.8,1531.6 1064.4,1533.9 1066,1533.9 1067.6,1531.3 1069.2,1529.2 1070.8,1530.7 1072.4,1534.3 1074,1535.3 1075.6,1531.6 1077.2,1527.9 1078.8,1529.6 1080.4,1535.2 1082,1536.9 1083.6,1531.3 1085.2,1525.9 1086.8,1529.3 1088.4,1537.5 1090,1538 1091.6,1528.6 1093.2,1523.2 1094.8,1532.1 1096.4,1542.7 1098,1536.4 1099.6,1520.4 1101.2,1523.3 1102.8,1540.5 1104.4,1542.9 1106,1527 1107.6,1520.1 1109.2,1533.6 1110.8,1543.8 1112.4,1533.5 1114,1521.1 1115.6,1527.7 1117.2,1541.2"/>
<path stroke="#74b347" d="M104.4,1531.9 106.6,1532.3 108.8,1532.6 111,1532.8 113.2,1532.7 115.4,1532.4 117.6,1532 119.8,1531.4 122,1531 124.2,1530.8 126.4,1530.9 128.6,1531.4 130.8,1532.2 133,1533.1 135.2,1533.7 137.4,1534 139.6,1533.6 141.8,1532.7 144,1531.4 146.2,1530.1 148.4,1529.1 150.6,1528.8 152.8,1529.5 155,1531.1 157.2,1533.2 159.4,1535.2 161.6,1536.5 163.8,1536.5 166,1535.2 168.2,1532.8 170.4,1530 172.6,1527.5 174.8,1526.2 177,1526.5 179.2,1528.5 181.4,1531.5 183.6,1534.8 185.8,1537.3 188,1538.4 190.2,1537.6 192.4,1535.2 194.6,1531.9 196.8,1528.7 199,1526.5 201.2,1525.9 203.4,1527 205.6,1529.6 207.8,1532.8 210,1535.7 212.2,1537.5 214.4,1537.7 216.6,1536.3 218.8,1533.6 221,1530.5 223.2,1527.8 225.4,1526.3 227.6,1526.5 229.8,1528.3 232,1531.2 234.2,1534.4 236.4,1536.9 238.6,1538 240.8,1537.3 243,1535 245.2,1531.8 247.4,1528.6 249.6,1526.3 251.8,1525.8 254,1527.2 256.2,1530 258.4,1533.5 260.6,1536.5 262.8,1538.1 265,1537.9 267.2,1535.8 269.4,1532.6 271.6,1529.2 273.8,1526.8 276,1526 278.2,1527.1 280.4,1529.7 282.6,1532.9 284.8,1535.7 287,1537.2 289.2,1537 291.4,1535.3 293.6,1532.6 295.8,1529.9 298,1528 300.2,1527.5 302.4,1528.3 304.6,1530.3 306.8,1532.8 309,1535 311.2,1536.1 313.4,1536 315.6,1534.5 317.8,1532.3 320,1530.3 322.2,1529.1 324.4,1529 326.6,1529.9 328.8,1531.2 331,1532.6 333.2,1533.7 335.4,1534.2 337.6,1534 339.8,1533.1 342,1532 344.2,1530.8 346.4,1530.2 348.6,1530.1 350.8,1530.7 353,1531.6 355.2,1532.6 357.4,1533.4 359.6,1533.7 361.8,1533.4 364,1532.7 366.2,1531.8 368.4,1530.9 370.6,1530.5 372.8,1530.5 375,1531 377.2,1531.8 379.4,1532.7 381.6,1533.4 383.8,1533.6 386,1533.3 388.2,1532.6 390.4,1531.6 392.6,1530.8 394.8,1530.4 397,1530.5 399.2,1531 401.4,1531.9 403.6,1532.8 405.8,1533.5 408,1533.7 410.2,1533.4 412.4,1532.6 414.6,1531.6 416.8,1530.7 419,1530.3 421.2,1530.3 423.4,1530.9 425.6,1531.8 427.8,1532.7 430,1533.4 432.2,1533.7 434.4,1533.4 436.6,1532.7 438.8,1531.9 441,1531.1 443.2,1530.5 445.4,1530.3 447.6,1530.6 449.8,1531.4 452,1532.4 454.2,1533.3 456.4,1533.9 458.6,1534.1 460.8,1533.7 463,1532.8 465.2,1531.4 467.4,1530.1 469.6,1529 471.8,1528.6 474,1529.1 476.2,1530.6 478.4,1532.5 480.6,1534.4 482.8,1535.8 485,1536.5 487.2,1536 489.4,1534.6 491.6,1532.4 493.8,1529.9 496,1527.5 498.2,1526 500.4,1525.6 502.6,1526.7 504.8,1529.1 507,1532.4 509.2,1535.9 511.4,1538.8 513.6,1540.3 515.8,1540.2 518,1538.4 520.2,1535.4 522.4,1531.7 524.6,1528.3 526.8,1525.6 529,1524.2 531.2,1524.2 533.4,1525.6 535.6,1528 537.8,1531 540,1534.1 542.2,1536.6 544.4,1538.2 546.6,1538.7 548.8,1538 551,1536.4 553.2,1534.3 555.4,1531.9 557.6,1529.8 559.8,1528.3 562,1527.4 564.2,1527.4 566.4,1528 568.6,1529.2 570.8,1530.7 573,1532.3 575.2,1533.7 577.4,1534.7 579.6,1535.2 581.8,1535.1 584,1534.6 586.2,1533.7 588.4,1532.7 590.6,1531.6 592.8,1530.6 595,1529.9 597.2,1529.6 599.4,1529.7 601.6,1530.1 603.8,1530.8 606,1531.8 608.2,1532.8 610.4,1533.9 612.6,1534.7 614.8,1535.1 617,1534.9 619.2,1534.1 621.4,1532.9 623.6,1531.3 625.8,1529.4 628,1527.6 630.2,1526.4 632.4,1526.1 634.6,1527.2 636.8,1529.6 639,1533.1 641.2,1537.1 643.4,1540.7 645.6,1543 647.8,1543 650,1540.4 652.2,1535.4 654.4,1528.8 656.6,1522 658.8,1516.7 661,1514.3 663.2,1516 665.4,1521.8 667.6,1530.6 669.8,1540.6 672,1549.4 674.2,1554.5 676.4,1554.5 678.6,1549 680.8,1538.9 683,1526.8 685.2,1515.5 687.4,1508 689.6,1506.3 691.8,1510.9 694,1520.7 696.2,1533.3 698.4,1545.4 700.6,1553.9 702.8,1556.8 705,1553.5 707.2,1545.1 709.4,1533.9 711.6,1522.9 713.8,1514.9 716,1511.6 718.2,1513.5 720.4,1519.7 722.6,1528.3 724.8,1536.9 727,1543.4 729.2,1546.4 731.4,1545.6 733.6,1541.7 735.8,1536.1 738,1530.3 740.2,1525.8 742.4,1523.4 744.6,1523.4 746.8,1525.4 749,1528.5 751.2,1531.9 753.4,1534.6 755.6,1536.2 757.8,1536.6 760,1535.8 762.2,1534.4 764.4,1532.8 766.6,1531 768.8,1529.3 771,1528.1 773.2,1527.8 775.4,1528.5 777.6,1530 779.8,1532 782,1534.2 784.2,1535.9 786.4,1536.8 788.6,1536.7 790.8,1535.4 793,1533.4 795.2,1531 797.4,1528.7 799.6,1527.1 801.8,1526.5 804,1527.2 806.2,1528.9 808.4,1531.3 810.6,1533.9 812.8,1536.1 815,1537.5 817.2,1537.7 819.4,1536.7 821.6,1534.7 823.8,1532 826,1529.1 828.2,1526.5 830.4,1524.9 832.6,1524.7 834.8,1526.2 837,1529.1 839.2,1532.9 841.4,1536.8 843.6,1539.8 845.8,1541.3 848,1540.8 850.2,1538.3 852.4,1534.3 854.6,1529.6 856.8,1525.1 859,1522 861.2,1521 863.4,1522.5 865.6,1526.2 867.8,1531.2 870,1536.3 872.2,1540.4 874.4,1542.5 876.6,1542.2 878.8,1539.5 881,1535.3 883.2,1530.7 885.4,1526.8 887.6,1524.4 889.8,1523.9 892,1525.3 894.2,1528 896.4,1531.5 898.6,1534.7 900.8,1537 903,1537.9 905.2,1537.4 907.4,1535.6 909.6,1533.2 911.8,1530.7 914,1528.6 916.2,1527.5 918.4,1527.6 920.6,1528.7 922.8,1530.6 925,1532.8 927.2,1534.7 929.4,1535.9 931.6,1536 933.8,1535.1 936,1533.4 938.2,1531.3 940.4,1529.4 942.6,1528.1 944.8,1528 947,1528.9 949.2,1530.7 951.4,1532.9 953.6,1534.8 955.8,1535.9 958,1536 960.2,1534.9 962.4,1532.9 964.6,1530.9 966.8,1529.3 969,1528.6 971.2,1528.9 973.4,1530 975.6,1531.6 977.8,1533.2 980,1534.4 982.2,1534.8 984.4,1534.5 986.6,1533.4 988.8,1532 991,1530.6 993.2,1529.7 995.4,1529.5 997.6,1530 999.8,1531.1 1002,1532.3 1004.2,1533.5 1006.4,1534.1 1008.6,1534.1 1010.8,1533.6 1013,1532.5 1015.2,1531.4 1017.4,1530.5 1019.6,1530.1 1021.8,1530.2 1024,1530.8 1026.2,1531.8 1028.4,1532.8 1030.6,1533.5 1032.8,1533.8 1035,1533.6 1037.2,1532.9 1039.4,1532 1041.6,1531.1 1043.8,1530.4 1046,1530.2 1048.2,1530.6 1050.4,1531.3 1052.6,1532.2 1054.8,1533.2 1057,1533.7 1059.2,1533.8 1061.4,1533.4 1063.6,1532.5 1065.8,1531.5 1068,1530.5 1070.2,1529.9 1072.4,1530 1074.6,1530.6 1076.8,1531.7 1079,1533 1081.2,1534.1 1083.4,1534.6 1085.6,1534.3 1087.8,1533.2 1090,1531.8 1092.2,1530.3 1094.4,1529.4 1096.6,1529.2 1098.8,1529.9 1101,1531.3 1103.2,1532.9 1105.4,1534.2 1107.6,1534.7 1109.8,1534.3 1112,1533.3 1114.2,1531.9 1116.4,1530.6"/>
<path stroke="#25447b" d="M104.4,1531.9 107.4,1532.1 110.4,1532.4 113.4,1532.6 116.4,1532.8 119.4,1532.9 122.4,1532.8 125.4,1532.7 128.4,1532.4 131.4,1532.1 134.4,1531.8 137.4,1531.4 140.4,1531.1 143.4,1530.9 146.4,1530.8 149.4,1530.9 152.4,1531.1 155.4,1531.4 158.4,1531.8 161.4,1532.3 164.4,1532.7 167.4,1533.1 170.4,1533.4 173.4,1533.5 176.4,1533.5 179.4,1533.2 182.4,1532.9 185.4,1532.4 188.4,1531.9 191.4,1531.3 194.4,1530.9 197.4,1530.6 200.4,1530.4 203.4,1530.4 206.4,1530.6 209.4,1530.9 212.4,1531.3 215.4,1531.8 218.4,1532.4 221.4,1532.9 224.4,1533.3 227.4,1533.5 230.4,1533.6 233.4,1533.5 236.4,1533.3 239.4,1532.9 242.4,1532.5 245.4,1532 248.4,1531.5 251.4,1531 254.4,1530.7 257.4,1530.5 260.4,1530.5 263.4,1530.6 266.4,1530.8 269.4,1531.2 272.4,1531.7 275.4,1532.2 278.4,1532.6 281.4,1533 284.4,1533.3 287.4,1533.5 290.4,1533.5 293.4,1533.4 296.4,1533.1 299.4,1532.7 302.4,1532.2 305.4,1531.7 308.4,1531.1 311.4,1530.6 314.4,1530.1 317.4,1529.9 320.4,1530.1 323.4,1530.4 326.4,1530.8 329.4,1531.3 332.4,1531.9 335.4,1532.5 338.4,1533.1 341.4,1533.5 344.4,1533.9 347.4,1534 350.4,1533.9 353.4,1533.6 356.4,1533.1 359.4,1532.5 362.4,1531.9 365.4,1531.3 368.4,1530.7 371.4,1530.3 374.4,1530.1 377.4,1530.1 380.4,1530.3 383.4,1530.6 386.4,1531.1 389.4,1531.7 392.4,1532.4 395.4,1533 398.4,1533.4 401.4,1533.8 404.4,1533.9 407.4,1533.9 410.4,1533.6 413.4,1533.2 416.4,1532.6 419.4,1531.9 422.4,1531.3 425.4,1530.7 428.4,1530.3 431.4,1530 434.4,1530 437.4,1530.2 440.4,1530.6 443.4,1531.1 446.4,1531.8 449.4,1532.6 452.4,1533.3 455.4,1534 458.4,1534.5 461.4,1534.7 464.4,1534.7 467.4,1534.4 470.4,1533.7 473.4,1532.6 476.4,1531.5 479.4,1530.4 482.4,1529.7 485.4,1529.2 488.4,1529.1 491.4,1529.3 494.4,1529.7 497.4,1530.4 500.4,1531.3 503.4,1532.3 506.4,1533.2 509.4,1534 512.4,1534.4 515.4,1534.6 518.4,1534.4 521.4,1534 524.4,1533.3 527.4,1532.6 530.4,1531.8 533.4,1531.1 536.4,1530.5 539.4,1530.1 542.4,1529.9 545.4,1530 548.4,1530.3 551.4,1530.8 554.4,1531.5 557.4,1532.2 560.4,1533 563.4,1533.6 566.4,1534 569.4,1534.2 572.4,1534.1 575.4,1533.7 578.4,1533.1 581.4,1532.3 584.4,1531.5 587.4,1530.7 590.4,1530 593.4,1529.6 596.4,1529.5 599.4,1529.7 602.4,1530.2 605.4,1531 608.4,1532 611.4,1533.2 614.4,1534.4 617.4,1535.3 620.4,1535.5 623.4,1535.2 626.4,1534.4 629.4,1533.5 632.4,1532.4 635.4,1531.4 638.4,1530.5 641.4,1529.5 644.4,1528.4 647.4,1527.7 650.4,1527.7 653.4,1528.5 656.4,1530.5 659.4,1533.3 662.4,1536.8 665.4,1540.3 668.4,1543 671.4,1544.2 674.4,1543.4 677.4,1540.4 680.4,1535.5 683.4,1529.4 686.4,1523.3 689.4,1518.3 692.4,1515.4 695.4,1515.3 698.4,1518 701.4,1523 704.4,1529.2 707.4,1535.4 710.4,1540.5 713.4,1543.6 716.4,1544.3 719.4,1542.9 722.4,1539.9 725.4,1536.2 728.4,1532.5 731.4,1529.6 734.4,1527.8 737.4,1527.2 740.4,1527.6 743.4,1528.6 746.4,1530 749.4,1531.2 752.4,1532.2 755.4,1533.1 758.4,1533.8 761.4,1534.2 764.4,1534.3 767.4,1533.8 770.4,1533.1 773.4,1532.2 776.4,1531.4 779.4,1530.7 782.4,1530.2 785.4,1530.1 788.4,1530.3 791.4,1530.8 794.4,1531.4 797.4,1532.2 800.4,1532.9 803.4,1533.5 806.4,1533.8 809.4,1533.8 812.4,1533.5 815.4,1532.9 818.4,1532.2 821.4,1531.4 824.4,1530.6 827.4,1530.1 830.4,1529.8 833.4,1530 836.4,1530.5 839.4,1531.3 842.4,1532.3 845.4,1533.2 848.4,1534 851.4,1534.4 854.4,1534.4 857.4,1534 860.4,1533.2 863.4,1532.2 866.4,1531.2 869.4,1530.3 872.4,1529.7 875.4,1529.5 878.4,1529.7 881.4,1530.2 884.4,1531.1 887.4,1532.2 890.4,1533.2 893.4,1534 896.4,1534.6 899.4,1534.7 902.4,1534.4 905.4,1533.7 908.4,1532.6 911.4,1531.5 914.4,1530.3 917.4,1529.5 920.4,1529 923.4,1529 926.4,1529.5 929.4,1530.4 932.4,1531.6 935.4,1532.9 938.4,1534.1 941.4,1535 944.4,1535.4 947.4,1535.3 950.4,1534.7 953.4,1533.6 956.4,1532.3 959.4,1530.9 962.4,1529.7 965.4,1528.9 968.4,1528.7 971.4,1529 974.4,1529.7 977.4,1530.7 980.4,1531.8 983.4,1533 986.4,1534.1 989.4,1534.8 992.4,1535.2 995.4,1535 998.4,1534.4 1001.4,1533.5 1004.4,1532.2 1007.4,1530.9 1010.4,1529.7 1013.4,1528.9 1016.4,1528.5 1019.4,1528.6 1022.4,1529.2 1025.4,1530.3 1028.4,1531.7 1031.4,1533.2 1034.4,1534.5 1037.4,1535.5 1040.4,1536 1043.4,1536 1046.4,1535.3 1049.4,1534.1 1052.4,1532.5 1055.4,1530.7 1058.4,1529.1 1061.4,1527.9 1064.4,1527.3 1067.4,1527.3 1070.4,1528.1 1073.4,1529.5 1076.4,1531.3 1079.4,1533.4 1082.4,1535.3 1085.4,1536.8 1088.4,1537.5 1091.4,1537.3 1094.4,1536.4 1097.4,1534.7 1100.4,1532.8 1103.4,1530.7 1106.4,1529.1 1109.4,1528 1112.4,1527.6 1115.4,1527.9"/>
<path stroke="#a34d14" d="M104.4,1531.3 108.4,1531.3 112.4,1531.4 116.4,1531.6 120.4,1531.8 124.4,1532 128.4,1532.3 132.4,1532.6 136.4,1532.8 140.4,1533 144.4,1533.2 148.4,1533.3 152.4,1533.3 156.4,1533.2 160.4,1533.2 164.4,1533 168.4,1532.8 172.4,1532.6 176.4,1532.4 180.4,1532.1 184.4,1531.9 188.4,1531.6 192.4,1531.4 196.4,1531.3 200.4,1531.1 204.4,1531 208.4,1531 212.4,1531 216.4,1531.1 220.4,1531.3 224.4,1531.5 228.4,1531.7 232.4,1532 236.4,1532.3 240.4,1532.6 244.4,1532.8 248.4,1533.1 252.4,1533.2 256.4,1533.4 260.4,1533.4 264.4,1533.4 268.4,1533.3 272.4,1533.1 276.4,1532.7 280.4,1532.3 284.4,1531.9 288.4,1531.4 292.4,1531 296.4,1530.7 300.4,1530.4 304.4,1530.2 308.4,1530.2 312.4,1530.3 316.4,1530.5 320.4,1530.8 324.4,1531.3 328.4,1531.7 332.4,1532.2 336.4,1532.7 340.4,1533.1 344.4,1533.4 348.4,1533.6 352.4,1533.6 356.4,1533.6 360.4,1533.5 364.4,1533.2 368.4,1533 372.4,1532.6 376.4,1532.2 380.4,1531.8 384.4,1531.5 388.4,1531.1 392.4,1530.8 396.4,1530.5 400.4,1530.3 404.4,1530.2 408.4,1530.1 412.4,1530.2 416.4,1530.4 420.4,1530.6 424.4,1531 428.4,1531.4 432.4,1531.8 436.4,1532.3 440.4,1532.8 444.4,1533.2 448.4,1533.6 452.4,1534 456.4,1534.2 460.4,1534.4 464.4,1534.5 468.4,1534.5 472.4,1534.3 476.4,1534.2 480.4,1533.9 484.4,1533.6 488.4,1533.2 492.4,1532.8 496.4,1532.4 500.4,1531.9 504.4,1531.5 508.4,1531.1 512.4,1530.7 516.4,1530.4 520.4,1530.1 524.4,1529.9 528.4,1529.8 532.4,1529.8 536.4,1529.8 540.4,1530 544.4,1530.3 548.4,1530.6 552.4,1531.1 556.4,1531.6 560.4,1532.2 564.4,1532.7 568.4,1533.3 572.4,1533.8 576.4,1534.3 580.4,1534.6 584.4,1534.9 588.4,1535.1 592.4,1535 596.4,1532.6 600.4,1530.2 604.4,1530.2 608.4,1530 612.4,1529.8 616.4,1529.5 620.4,1529.1 624.4,1528.8 628.4,1528.4 632.4,1528.2 636.4,1528 640.4,1528 644.4,1528.4 648.4,1529.4 652.4,1530.9 656.4,1532.7 660.4,1534.4 664.4,1535.8 668.4,1536.7 672.4,1537 676.4,1536.8 680.4,1536.2 684.4,1535.3 688.4,1534.1 692.4,1532.8 696.4,1531.4 700.4,1529.9 704.4,1528.6 708.4,1527.5 712.4,1526.7 716.4,1526.2 720.4,1526 724.4,1526.2 728.4,1526.7 732.4,1527.4 736.4,1528.4 740.4,1529.6 744.4,1530.8 748.4,1532.1 752.4,1533.2 756.4,1534.3 760.4,1535.1 764.4,1535.7 768.4,1536 772.4,1536 776.4,1535.7 780.4,1535.3 784.4,1534.7 788.4,1533.9 792.4,1533.1 796.4,1532.2 800.4,1531.3 804.4,1530.6 808.4,1529.9 812.4,1529.4 816.4,1529.1 820.4,1529 824.4,1529.2 828.4,1529.7 832.4,1530.4 836.4,1531.3 840.4,1532.4 844.4,1533.4 848.4,1534.3 852.4,1535 856.4,1535.4 860.4,1535.5 864.4,1535.4 868.4,1535 872.4,1534.5 876.4,1533.8 880.4,1533 884.4,1532.1 888.4,1531.3 892.4,1530.4 896.4,1529.7 900.4,1529.1 904.4,1528.7 908.4,1528.5 912.4,1528.5 916.4,1528.8 920.4,1529.4 924.4,1530.3 928.4,1531.3 932.4,1532.3 936.4,1533.3 940.4,1534.1 944.4,1534.7 948.4,1535 952.4,1535 956.4,1534.7 960.4,1534.2 964.4,1533.6 968.4,1532.9 972.4,1532 976.4,1531.2 980.4,1530.4 984.4,1529.7 988.4,1529.2 992.4,1528.8 996.4,1528.7 1000.4,1528.8 1004.4,1529.2 1008.4,1529.9 1012.4,1530.8 1016.4,1531.7 1020.4,1532.7 1024.4,1533.7 1028.4,1534.5 1032.4,1535.1 1036.4,1535.4 1040.4,1535.4 1044.4,1535.1 1048.4,1534.6 1052.4,1533.9 1056.4,1533.1 1060.4,1532.1 1064.4,1531 1068.4,1530 1072.4,1529 1076.4,1528.1 1080.4,1527.5 1084.4,1527 1088.4,1526.8 1092.4,1527 1096.4,1527.9 1100.4,1529.4 1104.4,1531.2 1108.4,1533 1112.4,1534.5 1116.4,1535.4"/>
<path stroke="#696969" d="M104.4,1530 108.4,1530 112.4,1530 116.4,1530 120.4,1530 124.4,1530 128.4,1530 132.4,1530 136.4,1529.9 140.4,1529.9 144.4,1529.9 148.4,1529.9 152.4,1529.9 156.4,1529.9 160.4,1529.8 164.4,1529.8 168.4,1529.8 172.4,1529.8 176.4,1529.8 180.4,1529.7 184.4,1529.7 188.4,1529.7 192.4,1529.7 196.4,1529.6 200.4,1529.6 204.4,1529.6 208.4,1529.6 212.4,1529.6 216.4,1529.6 220.4,1529.5 224.4,1529.5 228.4,1529.5 232.4,1529.5 236.4,1529.5 240.4,1529.5 244.4,1529.5 248.4,1529.5 252.4,1529.5 256.4,1529.5 260.4,1529.6 264.4,1529.6 268.4,1529.7 272.4,1529.8 276.4,1529.9 280.4,1530 284.4,1530.1 288.4,1530.2 292.4,1530.3 296.4,1530.4 300.4,1530.5 304.4,1530.7 308.4,1530.7 312.4,1530.8 316.4,1530.9 320.4,1530.9 324.4,1531 328.4,1531 332.4,1531 336.4,1531.1 340.4,1531.2 344.4,1531.3 348.4,1531.5 352.4,1531.8 356.4,1532 360.4,1532.3 364.4,1532.5 368.4,1532.8 372.4,1533 376.4,1533.2 380.4,1533.3 384.4,1533.4 388.4,1533.5 392.4,1533.5 396.4,1533.5 400.4,1533.5 404.4,1533.5 408.4,1533.5 412.4,1533.6 416.4,1533.6 420.4,1533.6 424.4,1533.7 428.4,1533.7 432.4,1533.7 436.4,1533.8 440.4,1533.8 444.4,1533.8 448.4,1533.9 452.4,1533.9 456.4,1533.9 460.4,1533.9 464.4,1534 468.4,1534 472.4,1534 476.4,1534 480.4,1534 484.4,1534 488.4,1533.9 492.4,1533.9 496.4,1533.8 500.4,1533.7 504.4,1533.6 508.4,1533.4 512.4,1533.3 516.4,1533.1 520.4,1533 524.4,1532.8 528.4,1532.7 532.4,1532.5 536.4,1532.4 540.4,1532.3 544.4,1532.2 548.4,1532.1 552.4,1532 556.4,1532 560.4,1532 564.4,1531.9 568.4,1531.6 572.4,1531.1 576.4,1530.6 580.4,1529.9 584.4,1529.3 588.4,1528.8 592.4,1528.3 596.4,1528.1 600.4,1528 604.4,1528 608.4,1528.1 612.4,1528.2 616.4,1528.4 620.4,1528.5 624.4,1528.7 628.4,1528.8 632.4,1528.9 636.4,1529 640.4,1529 644.4,1529.2 648.4,1529.7 652.4,1530.5 656.4,1531.5 660.4,1532.7 664.4,1533.8 668.4,1534.9 672.4,1535.9 676.4,1536.5 680.4,1536.9 684.4,1537 688.4,1536.7 692.4,1536.2 696.4,1535.5 700.4,1534.5 704.4,1533.3 708.4,1532.1 712.4,1530.7 716.4,1529.3 720.4,1528 724.4,1526.8 728.4,1525.8 732.4,1525 736.4,1524.4 740.4,1524.1 744.4,1524 748.4,1524.2 752.4,1524.7 756.4,1525.3 760.4,1526.1 764.4,1527.1 768.4,1528.1 772.4,1529.2 776.4,1530.3 780.4,1531.4 784.4,1532.3 788.4,1533 792.4,1533.6 796.4,1533.9 800.4,1534 804.4,1534 808.4,1534 812.4,1534.1 816.4,1534.1 820.4,1534.2 824.4,1534.3 828.4,1534.4 832.4,1534.5 836.4,1534.6 840.4,1534.7 844.4,1534.8 848.4,1534.9 852.4,1535.1 856.4,1535.2 860.4,1535.3 864.4,1535.4 868.4,1535.5 872.4,1535.6 876.4,1535.7 880.4,1535.8 884.4,1535.9 888.4,1535.9 892.4,1536 896.4,1536 900.4,1536 904.4,1536 908.4,1535.9 912.4,1535.9 916.4,1535.8 920.4,1535.7 924.4,1535.6 928.4,1535.4 932.4,1535.3 936.4,1535.1 940.4,1534.9 944.4,1534.8 948.4,1534.6 952.4,1534.4 956.4,1534.2 960.4,1534 964.4,1533.8 968.4,1533.7 972.4,1533.5 976.4,1533.4 980.4,1533.3 984.4,1533.2 988.4,1533.1 992.4,1533 996.4,1533 1000.4,1533 1004.4,1533 1008.4,1533 1012.4,1533 1016.4,1533 1020.4,1532.9 1024.4,1532.9 1028.4,1532.9 1032.4,1532.8 1036.4,1532.8 1040.4,1532.7 1044.4,1532.7 1048.4,1532.6 1052.4,1532.6 1056.4,1532.5 1060.4,1532.5 1064.4,1532.4 1068.4,1532.4 1072.4,1532.3 1076.4,1532.3 1080.4,1532.2 1084.4,1532.2 1088.4,1532.2 1092.4,1532.1 1096.4,1532.1 1100.4,1532.1 1104.4,1532 1108.4,1532 1112.4,1532 1116.4,1532.0"/>
<path stroke="#9c7a18" d="M104.4,1534.5 108.4,1534.5 112.4,1534.5 116.4,1534.5 120.4,1534.5 124.4,1534.4 128.4,1534.4 132.4,1534.4 136.4,1534.4 140.4,1534.3 144.4,1534.3 148.4,1534.3 152.4,1534.2 156.4,1534.2 160.4,1534.2 164.4,1534.1 168.4,1534.1 172.4,1534 176.4,1534 180.4,1534 184.4,1533.9 188.4,1533.9 192.4,1533.8 196.4,1533.8 200.4,1533.8 204.4,1533.7 208.4,1533.7 212.4,1533.7 216.4,1533.6 220.4,1533.6 224.4,1533.6 228.4,1533.6 232.4,1533.5 236.4,1533.5 240.4,1533.5 244.4,1533.5 248.4,1533.5 252.4,1533.5 256.4,1533.5 260.4,1533.5 264.4,1533.4 268.4,1533.4 272.4,1533.3 276.4,1533.3 280.4,1533.2 284.4,1533.1 288.4,1533 292.4,1532.9 296.4,1532.8 300.4,1532.7 304.4,1532.6 308.4,1532.6 312.4,1532.5 316.4,1532.4 320.4,1532.3 324.4,1532.2 328.4,1532.2 332.4,1532.1 336.4,1532.1 340.4,1532 344.4,1532 348.4,1532 352.4,1532 356.4,1532 360.4,1532 364.4,1531.9 368.4,1531.9 372.4,1531.8 376.4,1531.8 380.4,1531.7 384.4,1531.6 388.4,1531.5 392.4,1531.4 396.4,1531.3 400.4,1531.2 404.4,1531.1 408.4,1531.1 412.4,1531 416.4,1530.9 420.4,1530.8 424.4,1530.7 428.4,1530.7 432.4,1530.6 436.4,1530.6 440.4,1530.5 444.4,1530.5 448.4,1530.5 452.4,1530.5 456.4,1530.5 460.4,1530.5 464.4,1530.5 468.4,1530.5 472.4,1530.5 476.4,1530.6 480.4,1530.6 484.4,1530.6 488.4,1530.6 492.4,1530.7 496.4,1530.7 500.4,1530.7 504.4,1530.7 508.4,1530.8 512.4,1530.8 516.4,1530.8 520.4,1530.9 524.4,1530.9 528.4,1530.9 532.4,1530.9 536.4,1530.9 540.4,1531 544.4,1531 548.4,1531 552.4,1531 556.4,1531 560.4,1531 564.4,1531 568.4,1531 572.4,1531 576.4,1531 580.4,1531.1 584.4,1531.1 588.4,1531.1 592.4,1531.1 596.4,1531.2 600.4,1531.2 604.4,1531.2 608.4,1531.3 612.4,1531.3 616.4,1531.3 620.4,1531.4 624.4,1531.4 628.4,1531.5 632.4,1531.5 636.4,1531.6 640.4,1531.6 644.4,1531.7 648.4,1531.7 652.4,1531.7 656.4,1531.8 660.4,1531.8 664.4,1531.8 668.4,1531.9 672.4,1531.9 676.4,1531.9 680.4,1532 684.4,1532 688.4,1532 692.4,1532 696.4,1532 700.4,1532 704.4,1532 708.4,1532 712.4,1532 716.4,1532 720.4,1532 724.4,1532 728.4,1532 732.4,1532 736.4,1532 740.4,1532 744.4,1532 748.4,1532 752.4,1532 756.4,1532 760.4,1532 764.4,1532 768.4,1532 772.4,1532 776.4,1532 780.4,1532 784.4,1532 788.4,1532 792.4,1532 796.4,1532 800.4,1532 804.4,1532 808.4,1532 812.4,1532 816.4,1532 820.4,1532 824.4,1532 828.4,1532 832.4,1532 836.4,1532 840.4,1532 844.4,1532 848.4,1532 852.4,1532 856.4,1532 860.4,1532 864.4,1532 868.4,1532 872.4,1532 876.4,1532 880.4,1532 884.4,1532 888.4,1532 892.4,1532 896.4,1532 900.4,1532 904.4,1532 908.4,1532 912.4,1532 916.4,1532 920.4,1532 924.4,1532 928.4,1532 932.4,1532 936.4,1532 940.4,1532 944.4,1532 948.4,1532 952.4,1532 956.4,1532 960.4,1532 964.4,1532 968.4,1532 972.4,1532 976.4,1532 980.4,1532 984.4,1532 988.4,1532 992.4,1532 996.4,1532 1000.4,1532 1004.4,1532 1008.4,1532 1012.4,1532 1016.4,1532 1020.4,1532 1024.4,1532 1028.4,1532 1032.4,1532 1036.4,1532 1040.4,1532 1044.4,1532 1048.4,1532 1052.4,1532 1056.4,1532 1060.4,1532 1064.4,1532 1068.4,1532 1072.4,1532 1076.4,1532 1080.4,1532 1084.4,1532 1088.4,1532 1092.4,1532 1096.4,1532 1100.4,1532 1104.4,1532 1108.4,1532 1112.4,1532 1116.4,1532.0"/>
</g>
<g stroke-width="4.6" stroke-linecap="round">
<line x1="70.4" y1="1818.3" x2="114.0" y2="1818.3" stroke="#4472c4"/>
<line x1="181.7" y1="1818.3" x2="225.2" y2="1818.3" stroke="#ea7d33"/>
<line x1="283.7" y1="1818.3" x2="327.2" y2="1818.3" stroke="#a8a8a8"/>
<line x1="385.6" y1="1818.3" x2="429.1" y2="1818.3" stroke="#f2c12e"/>
<line x1="487.6" y1="1818.3" x2="531.1" y2="1818.3" stroke="#66a5de"/>
<line x1="589.6" y1="1818.3" x2="633.1" y2="1818.3" stroke="#74b347"/>
<line x1="691.5" y1="1818.3" x2="735.0" y2="1818.3" stroke="#25447b"/>
<line x1="793.5" y1="1818.3" x2="837.0" y2="1818.3" stroke="#a34d14"/>
<line x1="895.5" y1="1818.3" x2="939.0" y2="1818.3" stroke="#696969"/>
<line x1="997.5" y1="1818.3" x2="1040.5" y2="1818.3" stroke="#9c7a18"/>
</g>
<text x="119.6" y="1824.8" font-size="18" text-anchor="start" textLength="53.4" lengthAdjust="spacingAndGlyphs">Return</text>
<text x="231.2" y="1824.8" font-size="18" text-anchor="start" textLength="44.0" lengthAdjust="spacingAndGlyphs">IMF 2</text>
<text x="333.2" y="1824.8" font-size="18" text-anchor="start" textLength="44.0" lengthAdjust="spacingAndGlyphs">IMF 3</text>
<text x="435.1" y="1824.8" font-size="18" text-anchor="start" textLength="44.0" lengthAdjust="spacingAndGlyphs">IMF 4</text>
<text x="537.1" y="1824.8" font-size="18" text-anchor="start" textLength="44.0" lengthAdjust="spacingAndGlyphs">IMF 5</text>
<text x="639.1" y="1824.8" font-size="18" text-anchor="start" textLength="44.0" lengthAdjust="spacingAndGlyphs">IMF 6</text>
<text x="741.0" y="1824.8" font-size="18" text-anchor="start" textLength="44.0" lengthAdjust="spacingAndGlyphs">IMF 7</text>
<text x="843.0" y="1824.8" font-size="18" text-anchor="start" textLength="44.0" lengthAdjust="spacingAndGlyphs">IMF 8</text>
<text x="945.0" y="1824.8" font-size="18" text-anchor="start" textLength="44.0" lengthAdjust="spacingAndGlyphs">IMF 9</text>
<text x="1046.4" y="1824.8" font-size="18" text-anchor="start" textLength="55.3" lengthAdjust="spacingAndGlyphs">IMF 10</text>
</g>
<g>
<path d="M1154.5,1890.7H4.5V2497" fill="none" stroke="#d9d9d9" stroke-width="1.6"/>
<line x1="114.8" y1="1973.3" x2="1118.3" y2="1973.3" stroke="#d9d9d9" stroke-width="1.7"/>
<line x1="114.8" y1="2034.8" x2="1118.3" y2="2034.8" stroke="#d9d9d9" stroke-width="1.7"/>
<line x1="114.8" y1="2096.4" x2="1118.3" y2="2096.4" stroke="#d9d9d9" stroke-width="1.7"/>
<line x1="114.8" y1="2157.9" x2="1118.3" y2="2157.9" stroke="#d9d9d9" stroke-width="1.7"/>
<line x1="114.8" y1="2219.4" x2="1118.3" y2="2219.4" stroke="#d9d9d9" stroke-width="1.7"/>
<line x1="114.8" y1="2280.9" x2="1118.3" y2="2280.9" stroke="#d9d9d9" stroke-width="1.7"/>
<line x1="114.8" y1="2342.5" x2="1118.3" y2="2342.5" stroke="#d9d9d9" stroke-width="1.7"/>
<text x="583.0" y="1937.0" font-size="27" text-anchor="middle" textLength="33.9" lengthAdjust="spacingAndGlyphs">UK</text>
<text x="95.0" y="1979.8" font-size="18" text-anchor="end" textLength="70.0" lengthAdjust="spacingAndGlyphs">6.0000%</text>
<text x="95.0" y="2041.3" font-size="18" text-anchor="end" textLength="70.0" lengthAdjust="spacingAndGlyphs">4.0000%</text>
<text x="95.0" y="2102.9" font-size="18" text-anchor="end" textLength="70.0" lengthAdjust="spacingAndGlyphs">2.0000%</text>
<text x="95.0" y="2164.4" font-size="18" text-anchor="end" textLength="70.0" lengthAdjust="spacingAndGlyphs">0.0000%</text>
<text x="95.0" y="2225.9" font-size="18" text-anchor="end" textLength="76.1" lengthAdjust="spacingAndGlyphs">-2.0000%</text>
<text x="95.0" y="2287.4" font-size="18" text-anchor="end" textLength="76.1" lengthAdjust="spacingAndGlyphs">-4.0000%</text>
<text x="95.0" y="2349.0" font-size="18" text-anchor="end" textLength="76.1" lengthAdjust="spacingAndGlyphs">-6.0000%</text>
<text transform="translate(121.1 2371.6) rotate(-45)" font-size="18" text-anchor="end" textLength="94.5" lengthAdjust="spacingAndGlyphs">08-04-2014</text>
<text transform="translate(215.6 2371.6) rotate(-45)" font-size="18" text-anchor="end" textLength="94.5" lengthAdjust="spacingAndGlyphs">08-04-2015</text>
<text transform="translate(310.1 2371.6) rotate(-45)" font-size="18" text-anchor="end" textLength="94.5" lengthAdjust="spacingAndGlyphs">08-04-2016</text>
<text transform="translate(404.6 2371.6) rotate(-45)" font-size="18" text-anchor="end" textLength="94.5" lengthAdjust="spacingAndGlyphs">08-04-2017</text>
<text transform="translate(499.1 2371.6) rotate(-45)" font-size="18" text-anchor="end" textLength="94.5" lengthAdjust="spacingAndGlyphs">08-04-2018</text>
<text transform="translate(593.6 2371.6) rotate(-45)" font-size="18" text-anchor="end" textLength="94.5" lengthAdjust="spacingAndGlyphs">08-04-2019</text>
<text transform="translate(688.1 2371.6) rotate(-45)" font-size="18" text-anchor="end" textLength="94.5" lengthAdjust="spacingAndGlyphs">08-04-2020</text>
<text transform="translate(782.6 2371.6) rotate(-45)" font-size="18" text-anchor="end" textLength="94.5" lengthAdjust="spacingAndGlyphs">08-04-2021</text>
<text transform="translate(877.1 2371.6) rotate(-45)" font-size="18" text-anchor="end" textLength="94.5" lengthAdjust="spacingAndGlyphs">08-04-2022</text>
<text transform="translate(971.6 2371.6) rotate(-45)" font-size="18" text-anchor="end" textLength="94.5" lengthAdjust="spacingAndGlyphs">08-04-2023</text>
<text transform="translate(1066.1 2371.6) rotate(-45)" font-size="18" text-anchor="end" textLength="94.5" lengthAdjust="spacingAndGlyphs">08-04-2024</text>
<g fill="none" stroke-width="5.3" stroke-linejoin="round" stroke-linecap="round">
<path stroke="#ea7d33" d="M114.8,2139.7 116.5,2181.3 118.2,2139 119.9,2173 121.6,2151.6 123.3,2167.6 125,2147.4 126.7,2171.2 128.4,2148.1 130.1,2176.9 131.8,2134 133.5,2183.8 135.2,2135 136.9,2167.7 138.6,2147.4 140.3,2166.5 142,2148.1 143.7,2167.5 145.4,2146.6 147.1,2167.8 148.8,2147.8 150.5,2167.2 152.2,2150 153.9,2165.1 155.6,2145.4 157.3,2183.6 159,2133.5 160.7,2183.4 162.4,2138.7 164.1,2182.6 165.8,2136 167.5,2180.3 169.2,2153.7 170.9,2165.9 172.6,2146.8 174.3,2167.9 176,2151.1 177.7,2164.4 179.4,2151.1 181.1,2166.7 182.8,2147.7 184.5,2165 186.2,2156.8 187.9,2158.7 189.6,2157.1 191.3,2158.7 193,2151.9 194.7,2179 196.4,2134 198.1,2179.8 199.8,2139.1 201.5,2162.3 203.2,2150.9 204.9,2167.2 206.6,2147.5 208.3,2172.9 210,2140.5 211.7,2177.2 213.4,2131.8 215.1,2175.5 216.8,2145.5 218.5,2164.3 220.2,2154.7 221.9,2161.6 223.6,2150.5 225.3,2171.8 227,2139.7 228.7,2181.3 230.4,2120.1 232.1,2200.5 233.8,2120.6 235.5,2177.3 237.2,2136.7 238.9,2177.8 240.6,2133.2 242.3,2177.3 244,2148.4 245.7,2159.6 247.4,2156.5 249.1,2162 250.8,2154 252.5,2159.5 254.2,2156.5 255.9,2159.5 257.6,2156.1 259.3,2191.7 261,2122.9 262.7,2202.2 264.4,2108.4 266.1,2204.4 267.8,2110.5 269.5,2169.7 271.2,2156.6 272.9,2159.6 274.6,2156.4 276.3,2159.4 278,2153.1 279.7,2165.7 281.4,2149.8 283.1,2163 284.8,2151.6 286.5,2166.3 288.2,2143.2 289.9,2200.4 291.6,2113.6 293.3,2200.8 295,2127 296.7,2172.2 298.4,2141 300.1,2173.6 301.8,2142.3 303.5,2180.9 305.2,2131.9 306.9,2182.3 308.6,2134.5 310.3,2165.1 312,2155.7 313.7,2160.4 315.4,2134.1 317.1,2197.7 318.8,2128.6 320.5,2221.7 322.2,2077.8 323.9,2233.9 325.6,2092.7 327.3,2217.6 329,2143.1 330.7,2199.7 332.4,2114 334.1,2199.9 335.8,2137.8 337.5,2170.1 339.2,2148.8 340.9,2160.7 342.6,2156.9 344.3,2159 346,2156.6 347.7,2173 349.4,2132.3 351.1,2185.8 352.8,2132.2 354.5,2170.5 356.2,2156.1 357.9,2160.9 359.6,2154.4 361.3,2161.3 363,2154.5 364.7,2162.7 366.4,2151.1 368.1,2167.2 369.8,2149.2 371.5,2166.7 373.2,2149.6 374.9,2168.2 376.6,2129.2 378.3,2185.6 380,2129.1 381.7,2176 383.4,2155.9 385.1,2158.8 386.8,2157.1 388.5,2158.7 390.2,2157.1 391.9,2160 393.6,2145.7 395.3,2177.6 397,2138.2 398.7,2177.6 400.4,2145.5 402.1,2160 403.8,2157.2 405.5,2158.5 407.2,2156.5 408.9,2160.4 410.6,2154.7 412.3,2163.6 414,2148.8 415.7,2170.9 417.4,2144.8 419.1,2168.7 420.8,2145.9 422.5,2170.5 424.2,2143.8 425.9,2168.4 427.6,2148.5 429.3,2167 431,2148.4 432.7,2170.4 434.4,2146.7 436.1,2165 437.8,2154.8 439.5,2159.9 441.2,2154.1 442.9,2163.5 444.6,2149.8 446.3,2166.3 448,2152.5 449.7,2159.9 451.4,2157.3 453.1,2158.6 454.8,2157.4 456.5,2158.9 458.2,2155.8 459.9,2160.7 461.6,2151.7 463.3,2164.4 465,2148.8 466.7,2164.5 468.4,2154.6 470.1,2159.1 471.8,2157.4 473.5,2158.7 475.2,2157.3 476.9,2158.5 478.6,2157.1 480.3,2158.5 482,2154 483.7,2167.1 485.4,2147.5 487.1,2165.4 488.8,2141.2 490.5,2182.5 492.2,2130.1 493.9,2182.9 495.6,2146.5 497.3,2163.7 499,2151.8 500.7,2162.2 502.4,2156.6 504.1,2159 505.8,2154 507.5,2163.5 509.2,2151.2 510.9,2178.5 512.6,2128.1 514.3,2189.2 516,2128.6 517.7,2169.7 519.4,2147.9 521.1,2175 522.8,2134.4 524.5,2180.6 526.2,2141.9 527.9,2168.9 529.6,2149.1 531.3,2168.2 533,2145 534.7,2171.3 536.4,2145.5 538.1,2183 539.8,2118.9 541.5,2197.2 543.2,2101.8 544.9,2213.6 546.6,2101.9 548.3,2189.3 550,2155.1 551.7,2167.9 553.4,2121.5 555.1,2192 556.8,2120.8 558.5,2184 560.2,2150.2 561.9,2164.3 563.6,2155.5 565.3,2158.8 567,2156.9 568.7,2158.9 570.4,2156.9 572.1,2158.6 573.8,2157.2 575.5,2158.8 577.2,2157.2 578.9,2158.4 580.6,2157.4 582.3,2158.7 584,2156.2 585.7,2161.6 587.4,2150.8 589.1,2170.8 590.8,2143.9 592.5,2171.8 594.2,2143.7 595.9,2170.4 597.6,2150.5 599.3,2163.3 601,2153.6 602.7,2163.8 604.4,2150.4 606.1,2164.8 607.8,2153 609.5,2159.4 611.2,2157 612.9,2158.6 614.6,2154 616.3,2180.1 618,2130.4 619.7,2184.7 621.4,2132 623.1,2163.8 624.8,2156.8 626.5,2159.3 628.2,2156.5 629.9,2166.9 631.6,2121.1 633.3,2198.5 635,2118.8 636.7,2191.4 638.4,2152.4 640.1,2163.4 641.8,2148 643.5,2169.4 645.2,2146 646.9,2173.7 648.6,2145.7 650.3,2186.1 652,2125.4 653.7,2191.7 655.4,2127.4 657.1,2165.3 658.8,2156.5 660.5,2159.4 662.2,2155 663.9,2170.8 665.6,2138.9 667.3,2189.6 669,2122.5 670.7,2189.3 672.4,2135.6 674.1,2172.3 675.8,2123.6 677.5,2255.6 679.2,2017.6 680.9,2321.8 682.6,2008.2 684.3,2322.8 686,2078.7 687.7,2257.9 689.4,2087.3 691.1,2226.7 692.8,2066.1 694.5,2249.7 696.2,2067.5 697.9,2242.2 699.6,2083.2 701.3,2212.6 703,2108 704.7,2217.4 706.4,2108.2 708.1,2196.1 709.8,2149.5 711.5,2180.4 713.2,2118.1 714.9,2207.1 716.6,2118.3 718.3,2185 720,2155 721.7,2193 723.4,2098.6 725.1,2221.7 726.8,2098.3 728.5,2234.1 730.2,2076.2 731.9,2243.4 733.6,2085.7 735.3,2216.9 737,2099 738.7,2217.2 740.4,2083.8 742.1,2245.3 743.8,2082.2 745.5,2198.1 747.2,2119.1 748.9,2217.1 750.6,2108.1 752.3,2214.3 754,2141.1 755.7,2195.7 757.4,2112.9 759.1,2197 760.8,2123.1 762.5,2162.7 764.2,2141.8 765.9,2215.9 767.6,2091.5 769.3,2225.4 771,2096.8 772.7,2174.9 774.4,2155.4 776.1,2160 777.8,2150.3 779.5,2177.7 781.2,2133.4 782.9,2175.3 784.6,2130.6 786.3,2195.4 788,2123.4 789.7,2193.9 791.4,2143.7 793.1,2174.9 794.8,2145.9 796.5,2170.6 798.2,2146.7 799.9,2169.6 801.6,2149.3 803.3,2168 805,2140.6 806.7,2208.5 808.4,2109.8 810.1,2210.3 811.8,2120 813.5,2164.3 815.2,2156.1 816.9,2167 818.6,2115.9 820.3,2198.4 822,2113.4 823.7,2191.5 825.4,2148.2 827.1,2167.7 828.8,2150.7 830.5,2160.3 832.2,2156.2 833.9,2166.8 835.6,2120.4 837.3,2197.6 839,2118 840.7,2191 842.4,2147.8 844.1,2174.6 845.8,2135.3 847.5,2178.8 849.2,2147.4 850.9,2164.9 852.6,2153.9 854.3,2166.3 856,2138.6 857.7,2185.3 859.4,2121.3 861.1,2207.1 862.8,2109.1 864.5,2206.8 866.2,2140.1 867.9,2192.1 869.6,2123.1 871.3,2192.4 873,2134 874.7,2185.8 876.4,2121.4 878.1,2187.8 879.8,2126.3 881.5,2173.5 883.2,2151.5 884.9,2159.4 886.6,2156.4 888.3,2162.6 890,2150.6 891.7,2176.1 893.4,2123.1 895.1,2190.2 896.8,2123.7 898.5,2172.8 900.2,2156.2 901.9,2159.7 903.6,2152.4 905.3,2172.7 907,2141.8 908.7,2169.5 910.4,2154.4 912.1,2178.1 913.8,2115.7 915.5,2205.7 917.2,2115.9 918.9,2196.6 920.6,2123.7 922.3,2197.2 924,2123.4 925.7,2175.3 927.4,2143.4 929.1,2171 930.8,2146.4 932.5,2163.5 934.2,2156.7 935.9,2158.9 937.6,2156.6 939.3,2163.5 941,2139.4 942.7,2179.7 944.4,2136.8 946.1,2178.8 947.8,2146 949.5,2161.4 951.2,2154.1 952.9,2168.5 954.6,2146.3 956.3,2178.2 958,2117.3 959.7,2198.6 961.4,2117.1 963.1,2193.7 964.8,2136.2 966.5,2180.9 968.2,2139.8 969.9,2172.5 971.6,2143.1 973.3,2187.9 975,2129.9 976.7,2188.6 978.4,2137.1 980.1,2161.2 981.8,2153.8 983.5,2164.9 985.2,2148.7 986.9,2173.6 988.6,2142.4 990.3,2168.7 992,2139.8 993.7,2198 995.4,2118.4 997.1,2198 998.8,2135.9 1000.5,2159.8 1002.2,2156.6 1003.9,2159.3 1005.6,2156.4 1007.3,2159.2 1009,2156.4 1010.7,2159.3 1012.4,2144.4 1014.1,2191.8 1015.8,2125.6 1017.5,2191.5 1019.2,2138.4 1020.9,2170.8 1022.6,2146.8 1024.3,2165.5 1026,2154.1 1027.7,2159.4 1029.4,2157.2 1031.1,2158.6 1032.8,2157.2 1034.5,2158.6 1036.2,2155.3 1037.9,2164.8 1039.6,2151.1 1041.3,2160.6 1043,2157.3 1044.7,2158.6 1046.4,2155.5 1048.1,2160.5 1049.8,2156.6 1051.5,2158.5 1053.2,2157.1 1054.9,2158.7 1056.6,2155.3 1058.3,2165.5 1060,2136.9 1061.7,2186.2 1063.4,2128.5 1065.1,2186 1066.8,2148.1 1068.5,2159.6 1070.2,2156.8 1071.9,2159.2 1073.6,2143.9 1075.3,2186.4 1077,2130.1 1078.7,2186.5 1080.4,2143.9 1082.1,2164.5 1083.8,2151.4 1085.5,2166 1087.2,2142.8 1088.9,2186.7 1090.6,2128.2 1092.3,2186.7 1094,2142.8 1095.7,2163.5 1097.4,2152.3 1099.1,2161.6 1100.8,2153.8 1102.5,2164.6 1104.2,2152.6 1105.9,2162.4 1107.6,2157 1109.3,2158.9 1111,2156.8 1112.7,2159.8 1114.4,2133.9 1116.1,2189.8 1117.8,2128.0"/>
<path stroke="#a8a8a8" d="M114.8,2157.2 116.7,2158.4 118.6,2157.2 120.5,2158.6 122.4,2157.3 124.3,2163.2 126.2,2150.8 128.1,2165.7 130,2148.2 131.9,2165.2 133.8,2144.3 135.7,2171.2 137.6,2143.1 139.5,2170.5 141.4,2152.7 143.3,2158.5 145.2,2157.2 147.1,2158.6 149,2157.3 150.9,2158.5 152.8,2157.1 154.7,2158.4 156.6,2157.2 158.5,2158.5 160.4,2157.3 162.3,2158.5 164.2,2157.3 166.1,2158.6 168,2157.2 169.9,2158.5 171.8,2157.3 173.7,2158.6 175.6,2157.2 177.5,2158.6 179.4,2157.2 181.3,2158.5 183.2,2157.2 185.1,2158.5 187,2157.3 188.9,2158.6 190.8,2157.1 192.7,2158.5 194.6,2157.2 196.5,2158.7 198.4,2157.2 200.3,2158.6 202.2,2157.2 204.1,2158.5 206,2157.2 207.9,2158.7 209.8,2156.8 211.7,2165.4 213.6,2135.2 215.5,2183.6 217.4,2130.4 219.3,2183.3 221.2,2141.3 223.1,2161.6 225,2157.2 226.9,2158.7 228.8,2155.3 230.7,2167.3 232.6,2140 234.5,2186.8 236.4,2133.5 238.3,2188.8 240.2,2140.1 242.1,2166.5 244,2149.8 245.9,2169 247.8,2135.8 249.7,2182.6 251.6,2129.8 253.5,2190.8 255.4,2117.8 257.3,2202.6 259.2,2117.4 261.1,2192.4 263,2147.8 264.9,2163.2 266.8,2157.1 268.7,2158.7 270.6,2157 272.5,2163.6 274.4,2142.9 276.3,2175 278.2,2146.4 280.1,2164.4 282,2139.6 283.9,2194.7 285.8,2123 287.7,2197.2 289.6,2123.5 291.5,2183.4 293.4,2140.8 295.3,2174.7 297.2,2138.4 299.1,2174 301,2140.3 302.9,2176.1 304.8,2141.4 306.7,2167.8 308.6,2148.3 310.5,2167.1 312.4,2148.9 314.3,2171 316.2,2147.1 318.1,2168.2 320,2154 321.9,2158.7 323.8,2157 325.7,2158.8 327.6,2157.2 329.5,2159.5 331.4,2154.1 333.3,2159.5 335.2,2157 337.1,2158.5 339,2157.2 340.9,2158.6 342.8,2157.1 344.7,2161.1 346.6,2152.2 348.5,2162.3 350.4,2154.7 352.3,2159 354.2,2156.9 356.1,2164 358,2128.5 359.9,2190.4 361.8,2123.7 363.7,2188.5 365.6,2148.1 367.5,2163.6 369.4,2154.6 371.3,2159.9 373.2,2156.2 375.1,2159.6 377,2157.4 378.9,2158.5 380.8,2157.2 382.7,2158.5 384.6,2154.5 386.5,2167.1 388.4,2145.1 390.3,2174.3 392.2,2141.2 394.1,2172.2 396,2146.1 397.9,2166.2 399.8,2152.1 401.7,2162.3 403.6,2154.1 405.5,2160.9 407.4,2155.6 409.3,2162.7 411.2,2151.3 413.1,2168.4 415,2147.2 416.9,2167.1 418.8,2153.8 420.7,2158.8 422.6,2157.4 424.5,2160.8 426.4,2152.4 428.3,2165 430.2,2152.3 432.1,2161.6 434,2155.9 435.9,2158.4 437.8,2157.3 439.7,2158.5 441.6,2157.4 443.5,2158.5 445.4,2155.9 447.3,2163.8 449.2,2150.2 451.1,2168.1 453,2152.1 454.9,2161.2 456.8,2157.4 458.7,2158.4 460.6,2157.4 462.5,2158.4 464.4,2157.3 466.3,2162 468.2,2152 470.1,2162.1 472,2155.6 473.9,2168.1 475.8,2131.6 477.7,2193.7 479.6,2121.3 481.5,2193.3 483.4,2125.9 485.3,2192.4 487.2,2128.3 489.1,2192.3 491,2140.1 492.9,2173.8 494.8,2142.6 496.7,2174.6 498.6,2136.2 500.5,2172.7 502.4,2143.1 504.3,2165.2 506.2,2155.6 508.1,2160.7 510,2149.1 511.9,2173.4 513.8,2139.1 515.7,2175.5 517.6,2149.6 519.5,2164.3 521.4,2153.5 523.3,2163.1 525.2,2156.9 527.1,2158.7 529,2157.1 530.9,2158.7 532.8,2157.1 534.7,2158.8 536.6,2157 538.5,2158.7 540.4,2157 542.3,2158.8 544.2,2157 546.1,2158.7 548,2157.1 549.9,2158.7 551.8,2157 553.7,2158.8 555.6,2157.2 557.5,2160.1 559.4,2154.4 561.3,2163.8 563.2,2149.3 565.1,2169.8 567,2142.2 568.9,2175.1 570.8,2144.7 572.7,2166.6 574.6,2156.4 576.5,2158.5 578.4,2157.3 580.3,2158.4 582.2,2157.3 584.1,2158.4 586,2153.8 587.9,2163.6 589.8,2149.2 591.7,2169.3 593.6,2144.5 595.5,2170 597.4,2141.6 599.3,2170.8 601.2,2142.4 603.1,2174.7 605,2145.4 606.9,2171.5 608.8,2148.7 610.7,2166.2 612.6,2150.7 614.5,2160.1 616.4,2157.4 618.3,2158.5 620.2,2157.2 622.1,2158.7 624,2157 625.9,2158.6 627.8,2157.2 629.7,2158.5 631.6,2157.2 633.5,2160.4 635.4,2153.2 637.3,2159.6 639.2,2157 641.1,2158.8 643,2157.1 644.9,2159.2 646.8,2153.6 648.7,2162.8 650.6,2152.7 652.5,2163.9 654.4,2148.9 656.3,2168.1 658.2,2147.1 660.1,2170.3 662,2146.3 663.9,2164 665.8,2157.1 667.7,2158.9 669.6,2149.5 671.5,2195.3 673.4,2104 675.3,2217.4 677.2,2104.2 679.1,2205.1 681,2143.7 682.9,2160 684.8,2156.6 686.7,2159.4 688.6,2156.5 690.5,2161.7 692.4,2152 694.3,2183.4 696.2,2104.7 698.1,2226.6 700,2092.4 701.9,2227.2 703.8,2105.6 705.7,2183.1 707.6,2151.5 709.5,2174.9 711.4,2134.6 713.3,2183.9 715.2,2140.2 717.1,2177.3 719,2143.8 720.9,2174.1 722.8,2148.7 724.7,2166 726.6,2153.3 728.5,2162.5 730.4,2154.5 732.3,2160.9 734.2,2155.4 736.1,2162.7 738,2149.6 739.9,2170 741.8,2146.7 743.7,2168.5 745.6,2153.7 747.5,2161.2 749.4,2149.2 751.3,2172.9 753.2,2138.6 755.1,2176.5 757,2146.6 758.9,2164.7 760.8,2153.3 762.7,2163 764.6,2154 766.5,2158.8 768.4,2156.9 770.3,2158.9 772.2,2156.8 774.1,2158.9 776,2146.6 777.9,2176.4 779.8,2135.4 781.7,2176.5 783.6,2141.3 785.5,2169.2 787.4,2148.1 789.3,2172.6 791.2,2139.3 793.1,2185.4 795,2135.8 796.9,2178 798.8,2151.4 800.7,2159.1 802.6,2157.1 804.5,2160.4 806.4,2150.1 808.3,2170.1 810.2,2147.6 812.1,2167.1 814,2151.2 815.9,2161.2 817.8,2157 819.7,2159 821.6,2157.1 823.5,2158.6 825.4,2156.9 827.3,2158.7 829.2,2157 831.1,2158.8 833,2157.1 834.9,2158.9 836.8,2149.9 838.7,2167.1 840.6,2146.2 842.5,2173.4 844.4,2141.9 846.3,2175 848.2,2139.8 850.1,2174.7 852,2138.1 853.9,2177.2 855.8,2143.8 857.7,2171.8 859.6,2139 861.5,2175.9 863.4,2139.7 865.3,2168.4 867.2,2157.1 869.1,2158.7 871,2157.1 872.9,2158.8 874.8,2155.8 876.7,2171.5 878.6,2140.6 880.5,2181.5 882.4,2139.6 884.3,2173.8 886.2,2145.2 888.1,2169.2 890,2139.5 891.9,2175.7 893.8,2138.8 895.7,2174.6 897.6,2145.6 899.5,2162.1 901.4,2157 903.3,2158.7 905.2,2157 907.1,2161.3 909,2151 910.9,2165.9 912.8,2146.8 914.7,2168.9 916.6,2150.8 918.5,2165.8 920.4,2145.7 922.3,2175.5 924.2,2139.2 926.1,2184.1 928,2127.1 929.9,2189.5 931.8,2127.1 933.7,2181.6 935.6,2151 937.5,2160.9 939.4,2149.9 941.3,2170.9 943.2,2145.1 945.1,2175.6 947,2148.9 948.9,2161.6 950.8,2157.2 952.7,2158.6 954.6,2157.1 956.5,2160.5 958.4,2154.6 960.3,2159.4 962.2,2157.1 964.1,2158.7 966,2153.5 967.9,2167.4 969.8,2146.7 971.7,2171.5 973.6,2145.1 975.5,2168.5 977.4,2150.3 979.3,2168.3 981.2,2149.3 983.1,2167.9 985,2151 986.9,2159.6 988.8,2157.1 990.7,2158.9 992.6,2157 994.5,2165.2 996.4,2134.8 998.3,2187.7 1000.2,2128.1 1002.1,2187.5 1004,2138.2 1005.9,2163 1007.8,2157.1 1009.7,2158.8 1011.6,2157.2 1013.5,2158.7 1015.4,2156.8 1017.3,2161.1 1019.2,2153.7 1021.1,2164.1 1023,2151.7 1024.9,2165.4 1026.8,2146.4 1028.7,2175.6 1030.6,2137.5 1032.5,2177.7 1034.4,2138.3 1036.3,2172 1038.2,2149.3 1040.1,2163.4 1042,2155.5 1043.9,2159.5 1045.8,2157 1047.7,2158.4 1049.6,2157.4 1051.5,2158.4 1053.4,2157.2 1055.3,2158.5 1057.2,2153.7 1059.1,2165.6 1061,2141.8 1062.9,2171.5 1064.8,2141.3 1066.7,2173.3 1068.6,2144.2 1070.5,2166.8 1072.4,2156.3 1074.3,2158.6 1076.2,2157.3 1078.1,2158.6 1080,2157.1 1081.9,2158.6 1083.8,2157.3 1085.7,2158.6 1087.6,2157.1 1089.5,2163.9 1091.4,2139 1093.3,2182.7 1095.2,2133 1097.1,2182.5 1099,2141.6 1100.9,2162.2 1102.8,2155.2 1104.7,2159.1 1106.6,2157.2 1108.5,2158.5 1110.4,2157.1 1112.3,2158.7 1114.2,2157.3 1116.1,2158.7 1118,2155.6"/>
<path stroke="#f2c12e" d="M114.8,2157.1 117.5,2158.8 120.2,2157.1 122.9,2158.6 125.6,2157.1 128.3,2158.7 131,2157 133.7,2163.9 136.4,2148.1 139.1,2163.8 141.8,2156.8 144.5,2158.9 147.2,2154.2 149.9,2162.9 152.6,2153 155.3,2161.6 158,2150.7 160.7,2167.6 163.4,2144.9 166.1,2171.3 168.8,2151.4 171.5,2158.9 174.2,2151.4 176.9,2179.5 179.6,2130.1 182.3,2183.5 185,2130.7 187.7,2169.7 190.4,2156.1 193.1,2158.7 195.8,2157 198.5,2158.7 201.2,2157 203.9,2158.9 206.6,2157 209.3,2158.9 212,2157.1 214.7,2159.2 217.4,2151.7 220.1,2163.8 222.8,2153.8 225.5,2163.4 228.2,2145.6 230.9,2174 233.6,2139.7 236.3,2169.6 239,2148.6 241.7,2165.8 244.4,2153.3 247.1,2160.1 249.8,2154.5 252.5,2167.3 255.2,2126.3 257.9,2199.6 260.6,2118.5 263.3,2199.4 266,2138 268.7,2174.7 271.4,2140.4 274.1,2169.8 276.8,2153.3 279.5,2158.9 282.2,2156.9 284.9,2159 287.6,2156.3 290.3,2165.5 293,2145.1 295.7,2174.6 298.4,2138.4 301.1,2175.6 303.8,2140.7 306.5,2175.1 309.2,2141.5 311.9,2174.3 314.6,2142.7 317.3,2167.6 320,2153.8 322.7,2166.2 325.4,2133.1 328.1,2192.3 330.8,2128.3 333.5,2192 336.2,2144.2 338.9,2160.1 341.6,2156.9 344.3,2158.8 347,2157 349.7,2158.9 352.4,2155.9 355.1,2162.9 357.8,2152.2 360.5,2169.3 363.2,2139.6 365.9,2178 368.6,2137.5 371.3,2172.4 374,2146.8 376.7,2179.8 379.4,2136.1 382.1,2179.8 384.8,2140.7 387.5,2164.8 390.2,2149.7 392.9,2164.9 395.6,2153 398.3,2163.9 401,2152.3 403.7,2161.9 406.4,2156 409.1,2161.4 411.8,2147.3 414.5,2176.4 417.2,2141.2 419.9,2173.6 422.6,2149 425.3,2161.1 428,2157.2 430.7,2158.6 433.4,2156.4 436.1,2160.7 438.8,2153.3 441.5,2165 444.2,2148.4 446.9,2172.6 449.6,2137.6 452.3,2178.4 455,2133.9 457.7,2178.6 460.4,2136.8 463.1,2171 465.8,2150.7 468.5,2161.5 471.2,2157.3 473.9,2158.6 476.6,2157.2 479.3,2158.6 482,2148.6 484.7,2177.8 487.4,2131.8 490.1,2180.7 492.8,2144 495.5,2160.4 498.2,2157.1 500.9,2161.1 503.6,2147.6 506.3,2170.4 509,2149.4 511.7,2158.8 514.4,2156.9 517.1,2158.7 519.8,2157 522.5,2158.9 525.2,2152.3 527.9,2169.3 530.6,2147.5 533.3,2163.2 536,2156.9 538.7,2158.8 541.4,2155.7 544.1,2165.4 546.8,2148.4 549.5,2169.8 552.2,2136.4 554.9,2182.7 557.6,2136 560.3,2171.1 563,2156.9 565.7,2158.7 568.4,2157.1 571.1,2158.7 573.8,2157.1 576.5,2160.3 579.2,2151.2 581.9,2169.5 584.6,2143.5 587.3,2171.7 590,2149.6 592.7,2158.6 595.4,2157.2 598.1,2158.6 600.8,2157.1 603.5,2158.6 606.2,2157.2 608.9,2158.7 611.6,2157.1 614.3,2158.7 617,2157 619.7,2158.8 622.4,2157 625.1,2158.8 627.8,2157 630.5,2158.8 633.2,2156.8 635.9,2160.3 638.6,2150.2 641.3,2167.9 644,2145.8 646.7,2166.4 649.4,2155.4 652.1,2158.9 654.8,2156.9 657.5,2161.1 660.2,2153.8 662.9,2158.9 665.6,2156.9 668.3,2159 671,2156.8 673.7,2159.4 676.4,2156.4 679.1,2159.5 681.8,2156.3 684.5,2159.3 687.2,2156.2 689.9,2162.4 692.6,2139.3 695.3,2184.8 698,2139.1 700.7,2170 703.4,2149.4 706.1,2172.5 708.8,2136.5 711.5,2187.4 714.2,2121.6 716.9,2192.3 719.6,2135.3 722.3,2170.6 725,2138.9 727.7,2213.5 730.4,2097.2 733.1,2224.8 735.8,2098 738.5,2200.2 741.2,2115.3 743.9,2206.9 746.6,2113.1 749.3,2201.8 752,2145.1 754.7,2159.3 757.4,2156.6 760.1,2159.5 762.8,2146.9 765.5,2187.2 768.2,2128.2 770.9,2192.1 773.6,2128.9 776.3,2184.6 779,2137.9 781.7,2174.9 784.4,2149 787.1,2159.4 789.8,2156.9 792.5,2158.9 795.2,2156.9 797.9,2159 800.6,2156.7 803.3,2159.2 806,2156.6 808.7,2159.2 811.4,2154.1 814.1,2164.3 816.8,2150.7 819.5,2162.5 822.2,2156.9 824.9,2159.1 827.6,2156.8 830.3,2159 833,2156.9 835.7,2159.1 838.4,2156.7 841.1,2159 843.8,2148 846.5,2172.6 849.2,2146.5 851.9,2160.3 854.6,2156.7 857.3,2159.2 860,2156.8 862.7,2159 865.4,2156.8 868.1,2158.9 870.8,2156.8 873.5,2158.8 876.2,2156.9 878.9,2159.5 881.6,2147.9 884.3,2169.4 887,2149 889.7,2163.5 892.4,2153.1 895.1,2162.3 897.8,2156.3 900.5,2158.8 903.2,2156.9 905.9,2158.9 908.6,2154.7 911.3,2159.1 914,2156.7 916.7,2159 919.4,2156.8 922.1,2158.9 924.8,2156.9 927.5,2159 930.2,2157 932.9,2158.8 935.6,2157 938.3,2158.8 941,2157.1 943.7,2166.2 946.4,2147.2 949.1,2168.3 951.8,2153.9 954.5,2159 957.2,2156.8 959.9,2158.9 962.6,2150.3 965.3,2177.3 968,2139.8 970.7,2167.4 973.4,2157 976.1,2159 978.8,2156.8 981.5,2158.9 984.2,2156.8 986.9,2159 989.6,2156.9 992.3,2163.7 995,2140 997.7,2180.2 1000.4,2135.9 1003.1,2174.2 1005.8,2147.6 1008.5,2167.2 1011.2,2150.3 1013.9,2165.3 1016.6,2152 1019.3,2162.6 1022,2150.9 1024.7,2168 1027.4,2147 1030.1,2167.3 1032.8,2151.8 1035.5,2158.6 1038.2,2157.2 1040.9,2158.6 1043.6,2157.2 1046.3,2158.6 1049,2157.2 1051.7,2158.6 1054.4,2157.1 1057.1,2159.1 1059.8,2153.6 1062.5,2166.6 1065.2,2146.8 1067.9,2168.3 1070.6,2154.1 1073.3,2158.8 1076,2157 1078.7,2158.7 1081.4,2157.1 1084.1,2158.9 1086.8,2157 1089.5,2158.9 1092.2,2156.9 1094.9,2159.6 1097.6,2152.7 1100.3,2181 1103,2132.1 1105.7,2184.3 1108.4,2134.1 1111.1,2186 1113.8,2128.4 1116.5,2185.8"/>
<path stroke="#66a5de" d="M114.8,2158.2 116.4,2153.7 118,2153.4 119.6,2157.3 121.2,2161.9 122.8,2162.7 124.4,2159 126,2154.3 127.6,2152.8 129.2,2156 130.8,2161 132.4,2163.3 134,2160.9 135.6,2155.6 137.2,2152 138.8,2153.5 140.4,2159.2 142,2164.3 143.6,2164.2 145.2,2158.3 146.8,2151.1 148.4,2148.8 150,2154.5 151.6,2164.6 153.2,2170.7 154.8,2166.4 156.4,2153.3 158,2141.9 159.6,2143.7 161.2,2156.9 162.8,2170.8 164.4,2174.6 166,2165.5 167.6,2150.6 169.2,2141.3 170.8,2144.5 172.4,2157.5 174,2170.8 175.6,2174.7 177.2,2166.4 178.8,2152.8 180.4,2145.2 182,2147.2 183.6,2155.5 185.2,2163.9 186.8,2167.1 188.4,2164.1 190,2157.6 191.6,2152 193.2,2150.5 194.8,2153.8 196.4,2159.6 198,2164.2 199.6,2164.8 201.2,2161 202.8,2155.1 204.4,2150.9 206,2151.2 207.6,2155.6 209.2,2161.2 210.8,2164.4 212.4,2163.4 214,2159.4 215.6,2155.2 217.2,2153.2 218.8,2154.2 220.4,2157 222,2159.8 223.6,2161 225.2,2160.3 226.8,2158.4 228.4,2156.5 230,2155.5 231.6,2155.9 233.2,2157.6 234.8,2159.6 236.4,2160.7 238,2160.1 239.6,2157.7 241.2,2154.8 242.8,2153.4 244.4,2155.3 246,2160.1 247.6,2164.7 249.2,2164.6 250.8,2158.3 252.4,2150.2 254,2147.5 255.6,2153.8 257.2,2164.4 258.8,2169.5 260.4,2164.3 262,2153.7 263.6,2147.8 265.2,2151.4 266.8,2160.1 268.4,2165.4 270,2163.3 271.6,2157 273.2,2152.7 274.8,2153.7 276.4,2158 278,2161.5 279.6,2161.4 281.2,2158.3 282.8,2155.4 284.4,2154.8 286,2156.9 287.6,2159.6 289.2,2160.6 290.8,2159.5 292.4,2157.2 294,2155.6 295.6,2155.8 297.2,2157.6 298.8,2159.6 300.4,2160.2 302,2159.2 303.6,2157.2 305.2,2155.7 306.8,2155.7 308.4,2157.3 310,2159.5 311.6,2160.9 313.2,2160.3 314.8,2157.7 316.4,2154.4 318,2153 319.6,2155.2 321.2,2160.7 322.8,2165.7 324.4,2165.5 326,2158.5 327.6,2149 329.2,2144.9 330.8,2151.4 332.4,2165.1 334,2174.8 335.6,2170.6 337.2,2154.4 338.8,2140.1 340.4,2141.7 342,2157.7 343.6,2173.6 345.2,2174.8 346.8,2160 348.4,2143.4 350,2141.1 351.6,2155.6 353.2,2172.2 354.8,2173.8 356.4,2158.8 358,2143 359.6,2143.6 361.2,2159.8 362.8,2173.9 364.4,2169.7 366,2151.9 367.6,2141.2 369.2,2150.5 370.8,2168.7 372.4,2173.6 374,2158.9 375.6,2143 377.2,2146.3 378.8,2164.6 380.4,2174 382,2161.9 383.6,2146.2 385.2,2148 386.8,2161.8 388.4,2168 390,2160.2 391.6,2151 393.2,2152.3 394.8,2160.7 396.4,2164.1 398,2158.8 399.6,2153.1 401.2,2154.5 402.8,2160.3 404.4,2162.2 406,2158.2 407.6,2154.2 409.2,2155.5 410.8,2159.8 412.4,2161.2 414,2158.2 415.6,2155.2 417.2,2155.8 418.8,2159 420.4,2160.6 422,2158.8 423.6,2156.1 425.2,2155.6 426.8,2157.9 428.4,2160.2 430,2159.8 431.6,2157.2 433.2,2155.1 434.8,2156.1 436.4,2159.5 438,2161.5 439.6,2159.6 441.2,2155 442.8,2152.8 444.4,2156.5 446,2163.2 447.6,2165 449.2,2158.1 450.8,2148.9 452.4,2149.3 454,2161.2 455.6,2170.8 457.2,2164.7 458.8,2149.4 460.4,2145 462,2157.5 463.6,2170.6 465.2,2165.8 466.8,2150.8 468.4,2147.6 470,2159.1 471.6,2166.8 473.2,2160.3 474.8,2151.5 476.4,2154 478,2162 479.6,2162 481.2,2155.3 482.8,2153.9 484.4,2159.6 486,2161.9 487.6,2156.6 489.2,2153.6 490.8,2159 492.4,2162.9 494,2156.7 495.6,2151.5 497.2,2159.4 498.8,2166.5 500.4,2155.9 502,2145.8 503.6,2160.4 505.2,2175 506.8,2155.6 508.4,2139.8 510,2158.9 511.6,2176.2 513.2,2159 514.8,2139.5 516.4,2153.8 518,2176 519.6,2165.7 521.2,2141.2 522.8,2145.8 524.4,2171.6 526,2174.3 527.6,2149.1 529.2,2138.3 530.8,2160 532.4,2178.6 534,2163.7 535.6,2140.1 537.2,2146.8 538.8,2167.3 540.4,2170 542,2155.4 543.6,2147.3 545.2,2155.4 546.8,2165.3 548.4,2163.3 550,2154.2 551.6,2151.4 553.2,2157.8 554.8,2163.9 556.4,2161.4 558,2154.1 559.6,2152.1 561.2,2157.9 562.8,2163.8 564.4,2162 566,2155 567.6,2151.7 569.2,2155.9 570.8,2162.3 572.4,2163.4 574,2158.4 575.6,2153.4 577.2,2153.4 578.8,2157.8 580.4,2161.7 582,2161.8 583.6,2158.4 585.2,2154.8 586.8,2154.2 588.4,2156.7 590,2160 591.6,2161.4 593.2,2160 594.8,2157 596.4,2154.8 598,2155.1 599.6,2157.6 601.2,2160.3 602.8,2161.1 604.4,2159.3 606,2156.2 607.6,2154.4 609.2,2155.7 610.8,2159.1 612.4,2161.6 614,2160.7 615.6,2156.7 617.2,2153.7 618.8,2155.2 620.4,2160 622,2162.5 623.6,2159.3 625.2,2154.1 626.8,2154 628.4,2159.4 630,2162.6 631.6,2158.7 633.2,2153.5 634.8,2155.6 636.4,2161.4 638,2161 639.6,2155.2 641.2,2154.6 642.8,2160.2 644.4,2161.3 646,2155.7 647.6,2154.6 649.2,2160.3 650.8,2161.1 652.4,2155.2 654,2154.8 655.6,2161 657.2,2161.1 658.8,2154.1 660.4,2154.6 662,2162.5 663.6,2161.3 665.2,2152.4 666.8,2154.5 668.4,2164.4 670,2161.2 671.6,2150.1 673.2,2154.6 674.8,2167.3 676.4,2161 678,2146.7 679.6,2155.2 681.2,2170.9 682.8,2160.3 684.4,2143.5 686,2154.2 687.6,2191.5 689.2,2165.2 690.8,2124.3 692.4,2150.9 694,2182.6 695.6,2163.2 697.2,2142 698.8,2150.9 700.4,2172.8 702,2166.7 703.6,2145 705.2,2147.7 706.8,2168.1 708.4,2169 710,2150.8 711.6,2146.5 713.2,2161.8 714.8,2169.2 716.4,2157.1 718,2146.4 719.6,2155.3 721.2,2169.3 722.8,2164.7 724.4,2147.4 726,2145.7 727.6,2165.2 729.2,2176.3 730.8,2157.9 732.4,2135.2 734,2145.5 735.6,2178.1 737.2,2183.3 738.8,2152 740.4,2129.2 742,2145.2 743.6,2177.6 745.2,2184.4 746.8,2158.3 748.4,2132.1 750,2136.7 751.6,2165.5 753.2,2185.3 754.8,2175.1 756.4,2146.9 758,2131 759.6,2143 761.2,2167.5 762.8,2180.6 764.4,2172.1 766,2151.8 767.6,2138.5 769.2,2142.9 770.8,2159.8 772.4,2174.1 774,2174 775.6,2160.4 777.2,2145 778.8,2140.8 780.4,2151.2 782,2167.2 783.6,2175.2 785.2,2168.2 786.8,2152.2 788.4,2141.2 790,2145.1 791.6,2160.5 793.2,2174 794.8,2172.7 796.4,2157.4 798,2142.6 799.6,2142.6 801.2,2157.5 802.8,2172.2 804.4,2171.9 806,2157.6 807.6,2144.9 809.2,2146.6 810.8,2159.7 812.4,2169.2 814,2165.5 815.6,2154.4 817.2,2148.8 818.8,2153.9 820.4,2162.5 822,2164.7 823.6,2159 825.2,2149 826.8,2145.6 828.4,2162 830,2177.6 831.6,2167.6 833.2,2148.9 834.8,2147.7 836.4,2157.1 838,2161.2 839.6,2160.7 841.2,2156.9 842.8,2154.5 844.4,2156.2 846,2159.8 847.6,2161.2 849.2,2158.7 850.8,2155.4 852.4,2154.9 854,2157.6 855.6,2160.6 857.2,2160.7 858.8,2158 860.4,2155.2 862,2155 863.6,2157.5 865.2,2160.2 866.8,2160.8 868.4,2158.9 870,2156.3 871.6,2155.1 873.2,2156.2 874.8,2158.4 876.4,2160.1 878,2160.1 879.6,2158.5 881.2,2156.6 882.8,2155.8 884.4,2156.5 886,2158.1 887.6,2159.5 889.2,2159.7 890.8,2158.6 892.4,2157 894,2156 895.6,2156.4 897.2,2157.9 898.8,2159.7 900.4,2160.3 902,2159 903.6,2156.3 905.2,2154.2 906.8,2154.9 908.4,2158.6 910,2163.1 911.6,2164.1 913.2,2159.2 914.8,2151.4 916.4,2147.6 918,2152.8 919.6,2163.9 921.2,2171.4 922.8,2167.6 924.4,2154.6 926,2143.4 927.6,2144.1 929.2,2156.7 930.8,2170.7 932.4,2174.1 934,2164 935.6,2149 937.2,2141.3 938.8,2147.2 940.4,2161.5 942,2172.5 943.6,2171.5 945.2,2160 946.8,2146.7 948.4,2142.3 950,2150.4 951.6,2164.2 953.2,2172.6 954.8,2169.2 956.4,2157.2 958,2146.1 959.6,2144.8 961.2,2153.9 962.8,2165.9 964.4,2171.2 966,2165.6 967.6,2153.4 969.2,2144.3 970.8,2146.5 972.4,2159.2 974,2172.3 975.6,2173.6 977.2,2160.1 978.8,2142.4 980.4,2137.7 982,2152.4 983.6,2172.3 985.2,2178.6 986.8,2165.1 988.4,2144.5 990,2137 991.6,2149.9 993.2,2175 994.8,2187.5 996.4,2167.7 998,2142.6 999.6,2137.5 1001.2,2152.1 1002.8,2172 1004.4,2175.5 1006,2160.8 1007.6,2144.9 1009.2,2144.3 1010.8,2157.8 1012.4,2169.7 1014,2167.8 1015.6,2155.6 1017.2,2147.6 1018.8,2151.8 1020.4,2162 1022,2165.9 1023.6,2160.4 1025.2,2153.2 1026.8,2152.7 1028.4,2158.2 1030,2162.1 1031.6,2160.3 1033.2,2156.2 1034.8,2155.2 1036.4,2157.7 1038,2159.8 1039.6,2159.1 1041.2,2157 1042.8,2156.6 1044.4,2158 1046,2158.9 1047.6,2158.3 1049.2,2157.2 1050.8,2157.3 1052.4,2158.3 1054,2158.7 1055.6,2157.8 1057.2,2157 1058.8,2157.8 1060.4,2158.8 1062,2158.3 1063.6,2157.1 1065.2,2157.2 1066.8,2158.6 1068.4,2158.9 1070,2157.3 1071.6,2156.5 1073.2,2158.2 1074.8,2159.7 1076.4,2158 1078,2155.8 1079.6,2157.2 1081.2,2159.9 1082.8,2159.3 1084.4,2156.2 1086,2155.9 1087.6,2158.9 1089.2,2160.1 1090.8,2157.8 1092.4,2155.9 1094,2157.3 1095.6,2159.5 1097.2,2159.1 1098.8,2157 1100.4,2156.3 1102,2158.1 1103.6,2159.6 1105.2,2158.6 1106.8,2156.5 1108.4,2156.3 1110,2158.7 1111.6,2160.4 1113.2,2158.5 1114.8,2155.2 1116.4,2155.3 1118,2159.6"/>
<path stroke="#74b347" d="M114.8,2161.1 117,2159.4 119.2,2157.5 121.4,2155.7 123.6,2154.4 125.8,2153.7 128,2153.9 130.2,2154.8 132.4,2156.3 134.6,2158.2 136.8,2160.1 139,2161.6 141.2,2162.5 143.4,2162.6 145.6,2161.7 147.8,2160 150,2157.8 152.2,2155.5 154.4,2153.5 156.6,2152.2 158.8,2152 161,2153 163.2,2154.9 165.4,2157.6 167.6,2160.4 169.8,2162.8 172,2164.4 174.2,2164.7 176.4,2163.7 178.6,2161.5 180.8,2158.6 183,2155.6 185.2,2152.9 187.4,2151.2 189.6,2150.8 191.8,2151.8 194,2154 196.2,2156.9 198.4,2160 200.6,2162.6 202.8,2164.4 205,2164.9 207.2,2164 209.4,2161.9 211.6,2159 213.8,2155.9 216,2153.3 218.2,2151.6 220.4,2151.2 222.6,2152.2 224.8,2154.2 227,2157 229.2,2159.8 231.4,2162.1 233.6,2163.5 235.8,2163.6 238,2162.6 240.2,2160.7 242.4,2158.4 244.6,2156.1 246.8,2154.3 249,2153.3 251.2,2153.4 253.4,2154.4 255.6,2156 257.8,2158 260,2159.8 262.2,2161.2 264.4,2161.8 266.6,2161.5 268.8,2160.4 271,2158.9 273.2,2157.1 275.4,2155.6 277.6,2154.7 279.8,2154.5 282,2155 284.2,2156.3 286.4,2157.9 288.6,2159.6 290.8,2160.9 293,2161.5 295.2,2161.2 297.4,2160 299.6,2158.3 301.8,2156.4 304,2154.8 306.2,2154 308.4,2154.2 310.6,2155.4 312.8,2157.4 315,2159.8 317.2,2162.1 319.4,2163.5 321.6,2163.4 323.8,2161.5 326,2158.2 328.2,2154.6 330.4,2151.7 332.6,2150.6 334.8,2151.7 337,2154.8 339.2,2159 341.4,2163.2 343.6,2166 345.8,2166.3 348,2163.9 350.2,2159.3 352.4,2154 354.6,2149.7 356.8,2148 359,2149.6 361.2,2154 363.4,2160 365.6,2165.4 367.8,2168.4 370,2167.8 372.2,2163.8 374.4,2157.6 376.6,2151.5 378.8,2147.7 381,2147.5 383.2,2150.9 385.4,2156.7 387.6,2162.9 389.8,2167.3 392,2168.3 394.2,2165.6 396.4,2160.1 398.6,2154 400.8,2149.3 403,2147.7 405.2,2149.9 407.4,2154.9 409.6,2160.9 411.8,2165.7 414,2167.7 416.2,2166.2 418.4,2161.7 420.6,2155.9 422.8,2151 425,2148.7 427.2,2149.7 429.4,2153.6 431.6,2158.8 433.8,2163.5 436,2165.9 438.2,2165.5 440.4,2162.5 442.6,2158.1 444.8,2153.9 447,2151.4 449.2,2151.2 451.4,2153.3 453.6,2156.7 455.8,2160.2 458,2162.7 460.2,2163.4 462.4,2162.3 464.6,2159.8 466.8,2157 469,2154.8 471.2,2153.6 473.4,2153.9 475.6,2155.4 477.8,2157.6 480,2159.9 482.2,2161.4 484.4,2161.8 486.6,2161 488.8,2159.2 491,2157.1 493.2,2155.2 495.4,2154.2 497.6,2154.4 499.8,2155.6 502,2157.6 504.2,2159.6 506.4,2161.2 508.6,2161.7 510.8,2161.1 513,2159.4 515.2,2157.3 517.4,2155.2 519.6,2153.9 521.8,2153.8 524,2155 526.2,2157.2 528.4,2159.7 530.6,2161.8 532.8,2162.7 535,2162.1 537.2,2160.1 539.4,2157.3 541.6,2154.6 543.8,2152.8 546,2152.7 548.2,2154.3 550.4,2157 552.6,2159.9 554.8,2162 557,2162.8 559.2,2162 561.4,2160 563.6,2157.3 565.8,2155 568,2153.6 570.2,2153.7 572.4,2155.1 574.6,2157.3 576.8,2159.7 579,2161.4 581.2,2162 583.4,2161.4 585.6,2159.5 587.8,2157.1 590,2154.7 592.2,2153.2 594.4,2153.3 596.6,2154.9 598.8,2157.6 601,2160.5 603.2,2162.8 605.4,2163.5 607.6,2162.4 609.8,2159.8 612,2156.5 614.2,2153.4 616.4,2151.8 618.6,2152 620.8,2154.2 623,2157.7 625.2,2161.2 627.4,2163.8 629.6,2164.4 631.8,2163 634,2160 636.2,2156.4 638.4,2153.5 640.6,2152.1 642.8,2152.6 645,2154.7 647.2,2157.6 649.4,2160.9 651.6,2164.6 653.8,2166.9 656,2166.5 658.2,2162.3 660.4,2155.1 662.6,2146.8 664.8,2140.6 667,2139.5 669.2,2144.9 671.4,2155.8 673.6,2168.7 675.8,2179 678,2182.7 680.2,2178.1 682.4,2166.8 684.6,2152.9 686.8,2141.4 689,2136.2 691.2,2138.6 693.4,2146.8 695.6,2157.3 697.8,2166.1 700,2170.5 702.2,2169.8 704.4,2165.5 706.6,2160.8 708.8,2153.1 711,2145.5 713.2,2142 715.4,2144.5 717.6,2152 719.8,2160.5 722,2166.1 724.2,2167.2 726.4,2164.5 728.6,2160.6 730.8,2157.5 733,2154.7 735.2,2152.8 737.4,2152.8 739.6,2154.6 741.8,2157.9 744,2161.4 746.2,2163.8 748.4,2164.2 750.6,2162.1 752.8,2158.3 755,2154 757.2,2151 759.4,2150.5 761.6,2152.9 763.8,2157.4 766,2162.2 768.2,2165.5 770.4,2165.7 772.6,2163 774.8,2158.3 777,2153.7 779.2,2150.8 781.4,2150.8 783.6,2153.5 785.8,2157.7 788,2161.7 790.2,2163.9 792.4,2163.9 794.6,2161.5 796.8,2157.7 799,2154.1 801.2,2152 803.4,2152.3 805.6,2154.8 807.8,2158.5 810,2162 812.2,2163.8 814.4,2163.4 816.6,2160.7 818.8,2156.9 821,2153.3 823.2,2151.5 825.4,2152.1 827.6,2155.2 829.8,2159.6 832,2163.6 834.2,2165.7 836.4,2164.7 838.6,2160.8 840.8,2155.2 843,2150 845.2,2147.5 847.4,2149 849.6,2154.6 851.8,2162.3 854,2169.1 856.2,2172 858.4,2169.3 860.6,2161.6 862.8,2151.9 865,2144.6 867.2,2142.6 869.4,2146.5 871.6,2154.6 873.8,2163.9 876,2170.7 878.2,2172.5 880.4,2168.8 882.6,2161 884.8,2152.2 887,2145.7 889.2,2143.9 891.4,2147.4 893.6,2154.6 895.8,2163 898,2169.6 900.2,2171.9 902.4,2169 904.6,2161.8 906.8,2153.5 909,2147 911.2,2144.6 913.4,2147 915.6,2153.3 917.8,2161 920,2167 922.2,2169.3 924.4,2167.6 926.6,2162.6 928.8,2156.5 931,2151.4 933.2,2149 935.4,2149.9 937.6,2153.4 939.8,2158 942,2162 944.2,2164.2 946.4,2164.4 948.6,2162.3 950.8,2158.8 953,2155.1 955.2,2152.6 957.4,2152 959.6,2153.5 961.8,2156.3 964,2159.3 966.2,2161.5 968.4,2162.3 970.6,2161.5 972.8,2159.7 975,2157.5 977.2,2155.8 979.4,2154.9 981.6,2155 983.8,2156.1 986,2157.6 988.2,2159.1 990.4,2160 992.6,2160.2 994.8,2159.7 997,2158.6 999.2,2157.3 1001.4,2156.4 1003.6,2156 1005.8,2156.2 1008,2157 1010.2,2158 1012.4,2159 1014.6,2159.5 1016.8,2159.5 1019,2159 1021.2,2158.1 1023.4,2157.2 1025.6,2156.6 1027.8,2156.5 1030,2156.8 1032.2,2157.5 1034.4,2158.2 1036.6,2158.8 1038.8,2159.1 1041,2159 1043.2,2158.5 1045.4,2157.8 1047.6,2157.1 1049.8,2156.7 1052,2156.6 1054.2,2157 1056.4,2157.8 1058.6,2158.7 1060.8,2159.5 1063,2159.9 1065.2,2159.5 1067.4,2158.4 1069.6,2157.1 1071.8,2155.9 1074,2155.3 1076.2,2155.6 1078.4,2156.8 1080.6,2158.6 1082.8,2160.3 1085,2161.4 1087.2,2161.2 1089.4,2159.8 1091.6,2157.5 1093.8,2155.2 1096,2153.7 1098.2,2153.6 1100.4,2155.1 1102.6,2157.7 1104.8,2160.4 1107,2162.4 1109.2,2162.9 1111.4,2161.6 1113.6,2158.9 1115.8,2155.6 1118,2153.1"/>
<path stroke="#25447b" d="M114.8,2157.5 117.8,2156.8 120.8,2156.3 123.8,2156 126.8,2156 129.8,2156.3 132.8,2156.8 135.8,2157.5 138.8,2158.3 141.8,2159 144.8,2159.6 147.8,2160 150.8,2160 153.8,2159.8 156.8,2159.2 159.8,2158.5 162.8,2157.6 165.8,2156.8 168.8,2156.1 171.8,2155.7 174.8,2155.5 177.8,2155.7 180.8,2156.3 183.8,2157 186.8,2157.9 189.8,2158.8 192.8,2159.6 195.8,2160.2 198.8,2160.4 201.8,2160.3 204.8,2159.9 207.8,2159.2 210.8,2158.3 213.8,2157.3 216.8,2156.3 219.8,2155.5 222.8,2155.1 225.8,2155 228.8,2155.3 231.8,2155.9 234.8,2156.9 237.8,2158 240.8,2159.1 243.8,2160.1 246.8,2160.8 249.8,2161.1 252.8,2161 255.8,2160.5 258.8,2159.6 261.8,2158.5 264.8,2157.3 267.8,2156.1 270.8,2155.2 273.8,2154.6 276.8,2154.5 279.8,2154.8 282.8,2155.5 285.8,2156.6 288.8,2157.8 291.8,2159 294.8,2160.1 297.8,2160.9 300.8,2161.3 303.8,2161.2 306.8,2160.7 309.8,2159.8 312.8,2158.8 315.8,2157.4 318.8,2156 321.8,2154.7 324.8,2153.9 327.8,2153.7 330.8,2154.1 333.8,2155 336.8,2156.2 339.8,2157.6 342.8,2159.1 345.8,2160.3 348.8,2161.3 351.8,2161.8 354.8,2161.7 357.8,2161.1 360.8,2160.1 363.8,2158.8 366.8,2157.4 369.8,2155.9 372.8,2154.8 375.8,2154 378.8,2153.8 381.8,2154.2 384.8,2155.1 387.8,2156.4 390.8,2157.9 393.8,2159.5 396.8,2160.9 399.8,2161.8 402.8,2162.2 405.8,2162 408.8,2161.2 411.8,2159.9 414.8,2158.3 417.8,2156.6 420.8,2155.1 423.8,2154 426.8,2153.5 429.8,2153.6 432.8,2154.4 435.8,2155.7 438.8,2157.3 441.8,2159 444.8,2160.7 447.8,2161.9 450.8,2162.6 453.8,2162.5 456.8,2161.8 459.8,2160.4 462.8,2158.6 465.8,2156.6 468.8,2154.9 471.8,2153.5 474.8,2152.7 477.8,2152.7 480.8,2153.5 483.8,2155.2 486.8,2157.3 489.8,2159.7 492.8,2162 495.8,2163.6 498.8,2164.3 501.8,2164 504.8,2162.7 507.8,2160.5 510.8,2157.9 513.8,2155.2 516.8,2152.9 519.8,2151.3 522.8,2150.7 525.8,2151.4 528.8,2153.2 531.8,2155.9 534.8,2159 537.8,2162.1 540.8,2164.5 543.8,2165.9 546.8,2165.7 549.8,2164.1 552.8,2161.5 555.8,2158.5 558.8,2155.6 561.8,2153.4 564.8,2152 567.8,2151.8 570.8,2152.7 573.8,2154.3 576.8,2156.5 579.8,2158.7 582.8,2160.7 585.8,2162.2 588.8,2163 591.8,2162.9 594.8,2161.9 597.8,2160.1 600.8,2157.9 603.8,2155.6 606.8,2153.7 609.8,2152.5 612.8,2152.1 615.8,2152.9 618.8,2154.6 621.8,2157.1 624.8,2159.9 627.8,2162.5 630.8,2164.4 633.8,2165.2 636.8,2164.4 639.8,2162.4 642.8,2159.5 645.8,2156.4 648.8,2153.6 651.8,2151.7 654.8,2150.9 657.8,2150.6 660.8,2151.2 663.8,2154.2 666.8,2159.4 669.8,2166.2 672.8,2172.9 675.8,2177.7 678.8,2178.8 681.8,2175.4 684.8,2167.7 687.8,2157.4 690.8,2146.9 693.8,2138.8 696.8,2134.9 699.8,2135.8 702.8,2141 705.8,2148.6 708.8,2156.6 711.8,2163.2 714.8,2172 717.8,2180.2 720.8,2183.6 723.8,2180.2 726.8,2171.4 729.8,2161.5 732.8,2154.4 735.8,2146.5 738.8,2139.6 741.8,2137 744.8,2139.9 747.8,2146.6 750.8,2153.9 753.8,2159.1 756.8,2164.6 759.8,2169.4 762.8,2171 765.8,2168.6 768.8,2164.3 771.8,2160.6 774.8,2158.1 777.8,2155.8 780.8,2154 783.8,2153 786.8,2152.9 789.8,2153.7 792.8,2155.1 795.8,2157 798.8,2159 801.8,2160.9 804.8,2162.3 807.8,2162.9 810.8,2162.6 813.8,2161.4 816.8,2159.6 819.8,2157.5 822.8,2155.5 825.8,2154 828.8,2153.1 831.8,2153.2 834.8,2154.1 837.8,2155.6 840.8,2157.6 843.8,2159.6 846.8,2161.4 849.8,2162.5 852.8,2162.9 855.8,2162.3 858.8,2160.8 861.8,2158.8 864.8,2156.7 867.8,2154.8 870.8,2153.5 873.8,2153.1 876.8,2153.6 879.8,2154.9 882.8,2156.7 885.8,2158.6 888.8,2160.4 891.8,2161.5 894.8,2162 897.8,2161.7 900.8,2160.7 903.8,2159.1 906.8,2157.4 909.8,2155.7 912.8,2154.6 915.8,2154.1 918.8,2154.5 921.8,2155.5 924.8,2156.9 927.8,2158.4 930.8,2159.6 933.8,2160.3 936.8,2160.5 939.8,2160.1 942.8,2159.4 945.8,2158.4 948.8,2157.4 951.8,2156.5 954.8,2155.8 957.8,2155.6 960.8,2155.9 963.8,2156.7 966.8,2157.6 969.8,2158.6 972.8,2159.4 975.8,2159.8 978.8,2159.8 981.8,2159.4 984.8,2158.7 987.8,2157.8 990.8,2157.1 993.8,2156.5 996.8,2156.3 999.8,2156.4 1002.8,2156.9 1005.8,2157.5 1008.8,2158.2 1011.8,2158.8 1014.8,2159.1 1017.8,2159.2 1020.8,2158.9 1023.8,2158.5 1026.8,2157.9 1029.8,2157.4 1032.8,2157.1 1035.8,2157 1038.8,2157 1041.8,2157.3 1044.8,2157.7 1047.8,2158.1 1050.8,2158.5 1053.8,2158.8 1056.8,2158.9 1059.8,2158.8 1062.8,2158.4 1065.8,2157.9 1068.8,2157.4 1071.8,2157 1074.8,2156.7 1077.8,2156.8 1080.8,2157.1 1083.8,2157.6 1086.8,2158.2 1089.8,2158.7 1092.8,2159 1095.8,2159 1098.8,2158.8 1101.8,2158.4 1104.8,2157.9 1107.8,2157.4 1110.8,2156.9 1113.8,2156.7 1116.8,2156.8"/>
<path stroke="#a34d14" d="M114.8,2159.7 118.8,2158.3 122.8,2155.8 126.8,2153 130.8,2150.8 134.8,2149.9 138.8,2150.5 142.8,2152.3 146.8,2154.9 150.8,2158 154.8,2161 158.8,2163.4 162.8,2164.7 166.8,2164.8 170.8,2163.8 174.8,2162 178.8,2159.7 182.8,2157.2 186.8,2155 190.8,2153.5 194.8,2152.9 198.8,2153.1 202.8,2153.8 206.8,2154.9 210.8,2156.3 214.8,2157.7 218.8,2159 222.8,2160.1 226.8,2160.7 230.8,2160.9 234.8,2160.5 238.8,2159.6 242.8,2158.4 246.8,2157.1 250.8,2155.9 254.8,2155 258.8,2154.5 262.8,2154.6 266.8,2154.9 270.8,2155.6 274.8,2156.4 278.8,2157.4 282.8,2158.4 286.8,2159.4 290.8,2160.2 294.8,2160.7 298.8,2161 302.8,2161 306.8,2160.8 310.8,2160.4 314.8,2159.8 318.8,2159.1 322.8,2158.3 326.8,2157.5 330.8,2156.7 334.8,2156 338.8,2155.4 342.8,2154.9 346.8,2154.6 350.8,2154.4 354.8,2154.5 358.8,2154.8 362.8,2155.2 366.8,2155.8 370.8,2156.5 374.8,2157.3 378.8,2158.1 382.8,2159 386.8,2159.8 390.8,2160.5 394.8,2161.1 398.8,2161.5 402.8,2161.7 406.8,2161.8 410.8,2161.6 414.8,2161.3 418.8,2160.9 422.8,2160.3 426.8,2159.7 430.8,2159 434.8,2158.2 438.8,2157.5 442.8,2156.8 446.8,2156.3 450.8,2155.8 454.8,2155.5 458.8,2155.4 462.8,2155.4 466.8,2155.7 470.8,2156.2 474.8,2156.9 478.8,2157.7 482.8,2158.5 486.8,2159.4 490.8,2160.2 494.8,2160.8 498.8,2161.2 502.8,2161.4 506.8,2161.3 510.8,2160.8 514.8,2160 518.8,2159 522.8,2157.9 526.8,2156.9 530.8,2156 534.8,2155.4 538.8,2155.2 542.8,2155.2 546.8,2155.2 550.8,2155.2 554.8,2155.2 558.8,2155.2 562.8,2155.1 566.8,2155.1 570.8,2155.1 574.8,2155.1 578.8,2155 582.8,2155 586.8,2155 590.8,2155 594.8,2155 598.8,2154.9 602.8,2154.9 606.8,2154.9 610.8,2154.9 614.8,2154.9 618.8,2155 622.8,2155.5 626.8,2156.2 630.8,2157 634.8,2157.9 638.8,2158.7 642.8,2159.4 646.8,2159.8 650.8,2159.9 654.8,2160.1 658.8,2160.5 662.8,2161.1 666.8,2161.8 670.8,2162.6 674.8,2163.3 678.8,2164 682.8,2164.5 686.8,2164.8 690.8,2164.9 694.8,2164.3 698.8,2162.9 702.8,2160.8 706.8,2158.3 710.8,2155.7 714.8,2153.2 718.8,2151.1 722.8,2149.6 726.8,2148.9 730.8,2149.3 734.8,2151.1 738.8,2154.1 742.8,2157.7 746.8,2161.2 750.8,2164.1 754.8,2165.7 758.8,2165.8 762.8,2165.1 766.8,2163.7 770.8,2161.8 774.8,2159.7 778.8,2157.7 782.8,2156.1 786.8,2155.2 790.8,2154.9 794.8,2155.2 798.8,2155.9 802.8,2157 806.8,2158.2 810.8,2159.6 814.8,2161 818.8,2162.2 822.8,2163.1 826.8,2163.7 830.8,2163.8 834.8,2163.4 838.8,2162.4 842.8,2160.9 846.8,2159.2 850.8,2157.3 854.8,2155.5 858.8,2154 862.8,2152.9 866.8,2152.4 870.8,2152.4 874.8,2153.1 878.8,2154.2 882.8,2155.7 886.8,2157.4 890.8,2159.2 894.8,2160.7 898.8,2161.9 902.8,2162.5 906.8,2162.7 910.8,2162.2 914.8,2161.2 918.8,2159.8 922.8,2158.2 926.8,2156.5 930.8,2154.9 934.8,2153.7 938.8,2152.9 942.8,2152.7 946.8,2152.8 950.8,2153.3 954.8,2154 958.8,2154.9 962.8,2155.9 966.8,2157 970.8,2158.2 974.8,2159.3 978.8,2160.3 982.8,2161.2 986.8,2161.9 990.8,2162.3 994.8,2162.5 998.8,2162.3 1002.8,2162 1006.8,2161.4 1010.8,2160.6 1014.8,2159.6 1018.8,2158.5 1022.8,2157.4 1026.8,2156.2 1030.8,2155.1 1034.8,2154.2 1038.8,2153.4 1042.8,2152.8 1046.8,2152.4 1050.8,2152.3 1054.8,2152.6 1058.8,2153.4 1062.8,2154.5 1066.8,2155.9 1070.8,2157.5 1074.8,2159.1 1078.8,2160.5 1082.8,2161.7 1086.8,2162.5 1090.8,2162.8 1094.8,2162.6 1098.8,2161.6 1102.8,2160 1106.8,2158.2 1110.8,2156.5 1114.8,2155.4"/>
<path stroke="#696969" d="M114.8,2160.9 118.8,2160.9 122.8,2160.9 126.8,2160.9 130.8,2160.8 134.8,2160.8 138.8,2160.7 142.8,2160.7 146.8,2160.6 150.8,2160.5 154.8,2160.5 158.8,2160.4 162.8,2160.3 166.8,2160.2 170.8,2160.1 174.8,2160.1 178.8,2160 182.8,2159.9 186.8,2159.8 190.8,2159.7 194.8,2159.6 198.8,2159.5 202.8,2159.4 206.8,2159.4 210.8,2159.3 214.8,2159.2 218.8,2159.1 222.8,2159.1 226.8,2159 230.8,2159 234.8,2159 238.8,2158.9 242.8,2158.9 246.8,2158.9 250.8,2158.9 254.8,2158.9 258.8,2158.9 262.8,2158.9 266.8,2158.9 270.8,2159 274.8,2159 278.8,2159 282.8,2159 286.8,2159.1 290.8,2159.1 294.8,2159.2 298.8,2159.2 302.8,2159.3 306.8,2159.3 310.8,2159.3 314.8,2159.4 318.8,2159.4 322.8,2159.5 326.8,2159.5 330.8,2159.6 334.8,2159.6 338.8,2159.7 342.8,2159.7 346.8,2159.7 350.8,2159.8 354.8,2159.8 358.8,2159.8 362.8,2159.9 366.8,2159.9 370.8,2159.9 374.8,2159.9 378.8,2159.9 382.8,2159.9 386.8,2159.9 390.8,2159.9 394.8,2159.9 398.8,2159.9 402.8,2160 406.8,2160 410.8,2160 414.8,2160 418.8,2160.1 422.8,2160.1 426.8,2160.2 430.8,2160.2 434.8,2160.2 438.8,2160.3 442.8,2160.3 446.8,2160.4 450.8,2160.4 454.8,2160.5 458.8,2160.5 462.8,2160.5 466.8,2160.6 470.8,2160.6 474.8,2160.7 478.8,2160.7 482.8,2160.7 486.8,2160.8 490.8,2160.8 494.8,2160.8 498.8,2160.8 502.8,2160.9 506.8,2160.9 510.8,2160.9 514.8,2160.9 518.8,2160.9 522.8,2160.9 526.8,2160.8 530.8,2160.6 534.8,2160.3 538.8,2160 542.8,2159.5 546.8,2159.1 550.8,2158.5 554.8,2157.9 558.8,2157.3 562.8,2156.6 566.8,2156 570.8,2155.3 574.8,2154.6 578.8,2153.9 582.8,2153.2 586.8,2152.6 590.8,2152.1 594.8,2151.5 598.8,2151.1 602.8,2150.7 606.8,2150.4 610.8,2150.1 614.8,2150 618.8,2149.9 622.8,2150 626.8,2150.2 630.8,2150.7 634.8,2151.4 638.8,2152.2 642.8,2153.3 646.8,2154.4 650.8,2155.6 654.8,2156.8 658.8,2158.1 662.8,2159.3 666.8,2160.4 670.8,2161.5 674.8,2162.3 678.8,2163 682.8,2163.5 686.8,2163.8 690.8,2163.9 694.8,2163.9 698.8,2163.8 702.8,2163.7 706.8,2163.5 710.8,2163.3 714.8,2163.1 718.8,2162.8 722.8,2162.5 726.8,2162.3 730.8,2162 734.8,2161.8 738.8,2161.5 742.8,2161.3 746.8,2161.2 750.8,2161 754.8,2160.9 758.8,2160.9 762.8,2160.9 766.8,2160.9 770.8,2160.8 774.8,2160.8 778.8,2160.7 782.8,2160.6 786.8,2160.5 790.8,2160.4 794.8,2160.2 798.8,2160.1 802.8,2160 806.8,2159.8 810.8,2159.7 814.8,2159.6 818.8,2159.4 822.8,2159.3 826.8,2159.2 830.8,2159.1 834.8,2159 838.8,2159 842.8,2158.9 846.8,2158.9 850.8,2158.9 854.8,2158.9 858.8,2159 862.8,2159 866.8,2159.1 870.8,2159.2 874.8,2159.3 878.8,2159.5 882.8,2159.6 886.8,2159.8 890.8,2160 894.8,2160.2 898.8,2160.3 902.8,2160.5 906.8,2160.7 910.8,2160.9 914.8,2161.1 918.8,2161.2 922.8,2161.4 926.8,2161.5 930.8,2161.6 934.8,2161.7 938.8,2161.8 942.8,2161.9 946.8,2161.9 950.8,2161.9 954.8,2161.9 958.8,2161.9 962.8,2161.9 966.8,2161.9 970.8,2161.9 974.8,2161.9 978.8,2161.9 982.8,2161.9 986.8,2161.9 990.8,2161.9 994.8,2161.9 998.8,2161.9 1002.8,2161.9 1006.8,2161.9 1010.8,2161.9 1014.8,2161.9 1018.8,2161.9 1022.8,2161.9 1026.8,2161.9 1030.8,2161.9 1034.8,2161.9 1038.8,2161.9 1042.8,2161.9 1046.8,2161.9 1050.8,2161.9 1054.8,2161.9 1058.8,2161.9 1062.8,2161.8 1066.8,2161.8 1070.8,2161.7 1074.8,2161.6 1078.8,2161.5 1082.8,2161.4 1086.8,2161.4 1090.8,2161.3 1094.8,2161.2 1098.8,2161.1 1102.8,2161 1106.8,2161 1110.8,2160.9 1114.8,2160.9"/>
<path stroke="#9c7a18" d="M114.8,2157.9 118.8,2157.9 122.8,2157.9 126.8,2157.9 130.8,2157.9 134.8,2157.9 138.8,2157.8 142.8,2157.8 146.8,2157.8 150.8,2157.8 154.8,2157.7 158.8,2157.7 162.8,2157.6 166.8,2157.6 170.8,2157.6 174.8,2157.5 178.8,2157.5 182.8,2157.4 186.8,2157.4 190.8,2157.3 194.8,2157.3 198.8,2157.2 202.8,2157.1 206.8,2157.1 210.8,2157 214.8,2156.9 218.8,2156.9 222.8,2156.8 226.8,2156.7 230.8,2156.7 234.8,2156.6 238.8,2156.5 242.8,2156.5 246.8,2156.4 250.8,2156.3 254.8,2156.3 258.8,2156.2 262.8,2156.1 266.8,2156 270.8,2156 274.8,2155.9 278.8,2155.8 282.8,2155.8 286.8,2155.7 290.8,2155.7 294.8,2155.6 298.8,2155.5 302.8,2155.5 306.8,2155.4 310.8,2155.4 314.8,2155.3 318.8,2155.3 322.8,2155.2 326.8,2155.2 330.8,2155.1 334.8,2155.1 338.8,2155.1 342.8,2155 346.8,2155 350.8,2155 354.8,2155 358.8,2154.9 362.8,2154.9 366.8,2154.9 370.8,2154.9 374.8,2154.9 378.8,2154.9 382.8,2154.9 386.8,2154.9 390.8,2154.9 394.8,2154.9 398.8,2155 402.8,2155 406.8,2155.1 410.8,2155.1 414.8,2155.2 418.8,2155.2 422.8,2155.3 426.8,2155.4 430.8,2155.5 434.8,2155.5 438.8,2155.6 442.8,2155.7 446.8,2155.8 450.8,2155.9 454.8,2156 458.8,2156.1 462.8,2156.2 466.8,2156.3 470.8,2156.4 474.8,2156.5 478.8,2156.6 482.8,2156.7 486.8,2156.8 490.8,2156.9 494.8,2157 498.8,2157.1 502.8,2157.2 506.8,2157.3 510.8,2157.4 514.8,2157.5 518.8,2157.5 522.8,2157.6 526.8,2157.7 530.8,2157.7 534.8,2157.8 538.8,2157.8 542.8,2157.8 546.8,2157.9 550.8,2157.9 554.8,2157.9 558.8,2157.9 562.8,2157.9 566.8,2157.9 570.8,2158 574.8,2158.1 578.8,2158.2 582.8,2158.3 586.8,2158.5 590.8,2158.7 594.8,2158.9 598.8,2159.1 602.8,2159.3 606.8,2159.6 610.8,2159.8 614.8,2160.1 618.8,2160.3 622.8,2160.6 626.8,2160.8 630.8,2161.1 634.8,2161.3 638.8,2161.6 642.8,2161.8 646.8,2162 650.8,2162.2 654.8,2162.4 658.8,2162.5 662.8,2162.7 666.8,2162.8 670.8,2162.8 674.8,2162.9 678.8,2162.9 682.8,2162.9 686.8,2162.8 690.8,2162.6 694.8,2162.4 698.8,2162.1 702.8,2161.8 706.8,2161.4 710.8,2161 714.8,2160.5 718.8,2160 722.8,2159.6 726.8,2159.1 730.8,2158.7 734.8,2158.3 738.8,2157.9 742.8,2157.6 746.8,2157.3 750.8,2157.1 754.8,2157 758.8,2156.9 762.8,2156.9 766.8,2156.9 770.8,2156.9 774.8,2156.9 778.8,2156.9 782.8,2157 786.8,2157 790.8,2157 794.8,2157 798.8,2157.1 802.8,2157.1 806.8,2157.2 810.8,2157.2 814.8,2157.2 818.8,2157.3 822.8,2157.3 826.8,2157.4 830.8,2157.4 834.8,2157.5 838.8,2157.5 842.8,2157.5 846.8,2157.6 850.8,2157.6 854.8,2157.7 858.8,2157.7 862.8,2157.7 866.8,2157.8 870.8,2157.8 874.8,2157.8 878.8,2157.8 882.8,2157.9 886.8,2157.9 890.8,2157.9 894.8,2157.9 898.8,2157.9 902.8,2157.9 906.8,2157.9 910.8,2157.8 914.8,2157.8 918.8,2157.7 922.8,2157.7 926.8,2157.6 930.8,2157.5 934.8,2157.4 938.8,2157.2 942.8,2157.1 946.8,2157 950.8,2156.9 954.8,2156.7 958.8,2156.6 962.8,2156.5 966.8,2156.4 970.8,2156.3 974.8,2156.2 978.8,2156.1 982.8,2156 986.8,2156 990.8,2155.9 994.8,2155.9 998.8,2155.9 1002.8,2155.9 1006.8,2155.9 1010.8,2155.8 1014.8,2155.8 1018.8,2155.7 1022.8,2155.6 1026.8,2155.5 1030.8,2155.4 1034.8,2155.3 1038.8,2155.2 1042.8,2155.1 1046.8,2154.9 1050.8,2154.8 1054.8,2154.6 1058.8,2154.4 1062.8,2154.3 1066.8,2154.1 1070.8,2154 1074.8,2153.8 1078.8,2153.7 1082.8,2153.6 1086.8,2153.4 1090.8,2153.3 1094.8,2153.2 1098.8,2153.1 1102.8,2153 1106.8,2153 1110.8,2152.9 1114.8,2152.9"/>
</g>
<g stroke-width="4.6" stroke-linecap="round">
<line x1="70.4" y1="2473.8" x2="114.0" y2="2473.8" stroke="#4472c4"/>
<line x1="181.7" y1="2473.8" x2="225.2" y2="2473.8" stroke="#ea7d33"/>
<line x1="283.7" y1="2473.8" x2="327.2" y2="2473.8" stroke="#a8a8a8"/>
<line x1="385.6" y1="2473.8" x2="429.1" y2="2473.8" stroke="#f2c12e"/>
<line x1="487.6" y1="2473.8" x2="531.1" y2="2473.8" stroke="#66a5de"/>
<line x1="589.6" y1="2473.8" x2="633.1" y2="2473.8" stroke="#74b347"/>
<line x1="691.5" y1="2473.8" x2="735.0" y2="2473.8" stroke="#25447b"/>
<line x1="793.5" y1="2473.8" x2="837.0" y2="2473.8" stroke="#a34d14"/>
<line x1="895.5" y1="2473.8" x2="939.0" y2="2473.8" stroke="#696969"/>
<line x1="997.5" y1="2473.8" x2="1040.5" y2="2473.8" stroke="#9c7a18"/>
</g>
<text x="119.6" y="2480.3" font-size="18" text-anchor="start" textLength="53.4" lengthAdjust="spacingAndGlyphs">Return</text>
<text x="231.2" y="2480.3" font-size="18" text-anchor="start" textLength="44.0" lengthAdjust="spacingAndGlyphs">IMF 2</text>
<text x="333.2" y="2480.3" font-size="18" text-anchor="start" textLength="44.0" lengthAdjust="spacingAndGlyphs">IMF 3</text>
<text x="435.1" y="2480.3" font-size="18" text-anchor="start" textLength="44.0" lengthAdjust="spacingAndGlyphs">IMF 4</text>
<text x="537.1" y="2480.3" font-size="18" text-anchor="start" textLength="44.0" lengthAdjust="spacingAndGlyphs">IMF 5</text>
<text x="639.1" y="2480.3" font-size="18" text-anchor="start" textLength="44.0" lengthAdjust="spacingAndGlyphs">IMF 6</text>
<text x="741.0" y="2480.3" font-size="18" text-anchor="start" textLength="44.0" lengthAdjust="spacingAndGlyphs">IMF 7</text>
<text x="843.0" y="2480.3" font-size="18" text-anchor="start" textLength="44.0" lengthAdjust="spacingAndGlyphs">IMF 8</text>
<text x="945.0" y="2480.3" font-size="18" text-anchor="start" textLength="44.0" lengthAdjust="spacingAndGlyphs">IMF 9</text>
<text x="1046.4" y="2480.3" font-size="18" text-anchor="start" textLength="55.3" lengthAdjust="spacingAndGlyphs">IMF 10</text>
</g>
</svg></body></html>
